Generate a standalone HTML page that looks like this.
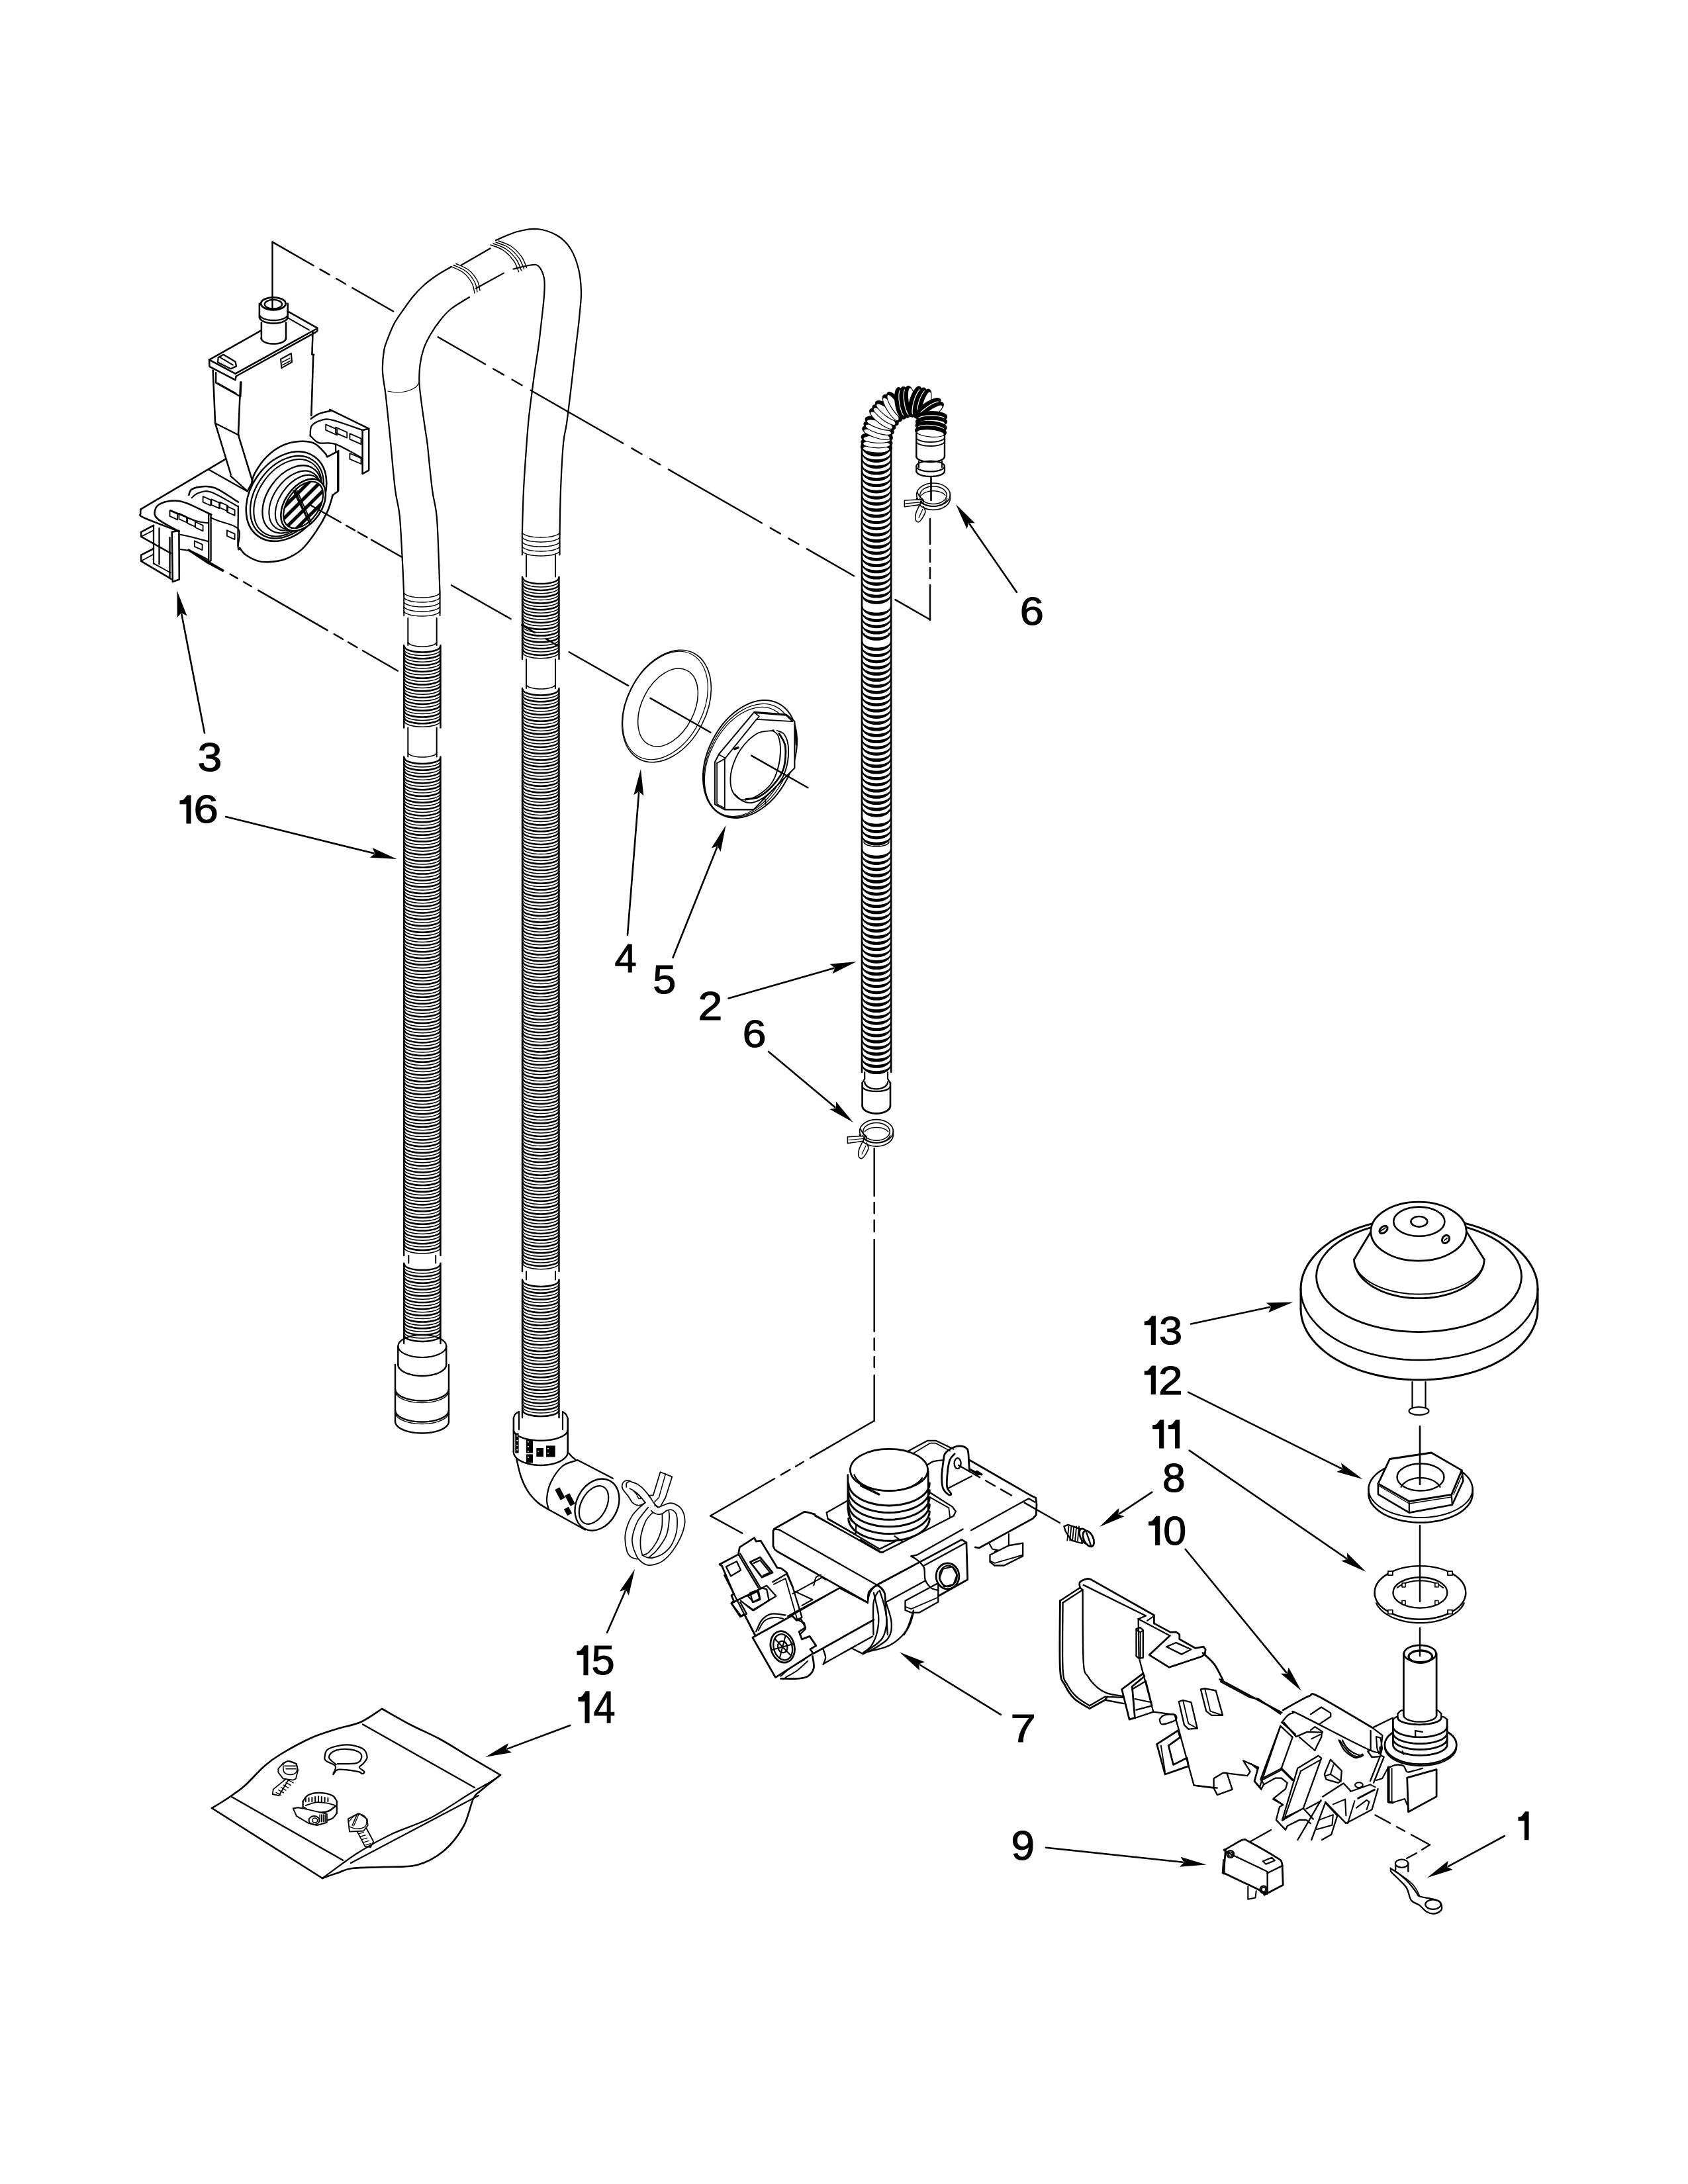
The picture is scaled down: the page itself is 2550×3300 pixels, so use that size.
<!DOCTYPE html>
<html><head><meta charset="utf-8"><style>
html,body{margin:0;padding:0;background:#fff;}
svg{display:block;}
</style></head><body>
<svg width="2550" height="3300" viewBox="0 0 2550 3300">
<rect width="2550" height="3300" fill="#fff"/>
<g stroke="#000" fill="none" stroke-linecap="round" stroke-linejoin="round">
<path d="M590.2,670 C589,658.3 585,618.1 583,600 C581,581.9 578.5,573.3 578,561.6 C577.5,549.9 578.7,538.4 580,530 C581.3,521.6 583.3,518 586,511 C588.7,504 592,495.3 596,488 C600,480.7 605.3,473.7 610,467 C614.7,460.3 618.9,454.1 624,448 C629.1,441.9 634.6,436 640.6,430.7 C646.6,425.4 653.3,420.5 660,416 C666.7,411.5 677.5,405.6 681,403.5" stroke-width="2.2" fill="none" />
<path d="M645.6,670 C644.4,662 640.5,637 638.5,622 C636.5,607 634.2,591.8 633.5,580 C632.8,568.2 633.4,560.3 634.5,551.5 C635.6,542.7 637.3,534.8 640,527 C642.7,519.2 646.4,512.2 650.6,505 C654.8,497.8 659.9,490.3 665,484 C670.1,477.7 673.7,472.8 681,467 C688.3,461.2 704.3,452 709,449" stroke-width="2.2" fill="none" />
<path d="M681,402.5 C684.2,404.1 694.7,407.8 700,412 C705.3,416.2 710.2,422.8 713,428 C715.8,433.2 716.3,440.5 717,443" stroke-width="1.4" fill="none" />
<path d="M685,400.5 C688.2,402.1 698.7,405.8 704,410 C709.3,414.2 714.2,420.8 717,426 C719.8,431.2 720.3,438.5 721,441" stroke-width="1.4" fill="none" />
<path d="M689,398.5 C692.2,400.1 702.7,403.8 708,408 C713.3,412.2 718.2,418.8 721,424 C723.8,429.2 724.3,436.5 725,439" stroke-width="1.4" fill="none" />
<line x1="697" y1="400.5" x2="740.7" y2="375.3" stroke-width="2.2"/>
<line x1="719" y1="435.7" x2="761" y2="412.6" stroke-width="2.2"/>
<path d="M741,370 C744.2,371.3 754.2,374 760,378 C765.8,382 772.1,388.6 776,394 C779.9,399.4 782.3,407.8 783.6,410.6" stroke-width="1.4" fill="none" />
<path d="M745,368 C748.2,369.3 758.2,372 764,376 C769.8,380 776.1,386.6 780,392 C783.9,397.4 786.3,405.8 787.6,408.6" stroke-width="1.4" fill="none" />
<path d="M749,366 C752.2,367.3 762.2,370 768,374 C773.8,378 780.1,384.6 784,390 C787.9,395.4 790.3,403.8 791.6,406.6" stroke-width="1.4" fill="none" />
<path d="M753,364 C756.2,365.3 766.2,368 772,372 C777.8,376 784.1,382.6 788,388 C791.9,393.4 794.3,401.8 795.6,404.6" stroke-width="1.4" fill="none" />
<path d="M749,363 C754.4,360.8 771,352.8 781.5,350 C792,347.2 801.7,345 811.8,346 C821.9,347 833.6,351 842,356 C850.4,361 856.7,367.6 862,376 C867.3,384.4 871.3,395.7 874,406.5 C876.7,417.3 877.7,430.4 878,441 C878.3,451.6 876.7,461.7 876,470 C875.3,478.3 875.3,479.3 874,491 C872.7,502.7 870,523.2 868,540 C866,556.8 864,575.3 862,592 C860,608.7 857.8,627 856,640 C854.2,653 852.5,653.3 851,670 C849.5,686.7 847.9,717.2 847,740 C846.1,762.8 845.8,795.8 845.6,807" stroke-width="2.2" fill="none" />
<path d="M775.5,406.5 C779.9,405.5 795.3,401.2 801.7,400.5 C808.1,399.8 810.4,399.1 813.8,402.5 C817.2,405.9 820.6,413.2 822,420.6 C823.4,428 822.7,436.1 822,446.8 C821.3,457.5 819.4,472.6 818,485 C816.6,497.4 815.5,508.5 813.8,521 C812.1,533.5 809.7,548.2 808,560 C806.3,571.8 805.2,580.3 803.7,592 C802.2,603.7 800.4,617 799,630 C797.6,643 796.9,651.7 795.6,670 C794.3,688.3 792.1,717.2 791,740 C789.9,762.8 789.2,795.8 788.8,807" stroke-width="2.2" fill="none" />
<path d="M586,591 C588.3,591.3 595.2,593 600,593 C604.8,593 610.3,592.3 615,591 C619.7,589.7 625,587.2 628,585 C631,582.8 632.2,579.2 633,578" stroke-width="1.2" fill="none" />
<path d="M590.2,670 C591.3,681.7 594.7,721.7 597,740 C599.3,758.3 602,761.7 603.8,780 C605.6,798.3 606.9,830.2 608,850 C609.1,869.8 609.8,890.8 610.2,899" stroke-width="2.2" fill="none" />
<path d="M645.6,670 C646.8,681.7 650.6,721.7 653,740 C655.4,758.3 658,761.7 659.7,780 C661.4,798.3 662.2,830.2 663,850 C663.8,869.8 664.3,890.8 664.6,899" stroke-width="2.2" fill="none" />
<line x1="610.2" y1="899" x2="610.2" y2="930" stroke-width="2"/>
<line x1="664.6" y1="899" x2="664.6" y2="930" stroke-width="2"/>
<polyline points="664.6,895 664.1,896.6 662.5,898.1 660,899.4 656.6,900.7 652.5,901.7 647.8,902.4 642.7,902.8 637.4,903 632.1,902.8 627,902.4 622.3,901.7 618.2,900.7 614.8,899.4 612.3,898.1 610.7,896.6 610.2,895" stroke-width="1.4" fill="none"/>
<polyline points="664.6,902 664.1,903.6 662.5,905.1 660,906.4 656.6,907.7 652.5,908.7 647.8,909.4 642.7,909.8 637.4,910 632.1,909.8 627,909.4 622.3,908.7 618.2,907.7 614.8,906.4 612.3,905.1 610.7,903.6 610.2,902" stroke-width="1.4" fill="none"/>
<polyline points="664.6,909 664.1,910.6 662.5,912.1 660,913.4 656.6,914.7 652.5,915.7 647.8,916.4 642.7,916.8 637.4,917 632.1,916.8 627,916.4 622.3,915.7 618.2,914.7 614.8,913.4 612.3,912.1 610.7,910.6 610.2,909" stroke-width="1.4" fill="none"/>
<polyline points="664.6,916 664.1,917.6 662.5,919.1 660,920.4 656.6,921.7 652.5,922.7 647.8,923.4 642.7,923.8 637.4,924 632.1,923.8 627,923.4 622.3,922.7 618.2,921.7 614.8,920.4 612.3,919.1 610.7,917.6 610.2,916" stroke-width="1.4" fill="none"/>
<polyline points="664.6,923 664.1,924.6 662.5,926.1 660,927.4 656.6,928.7 652.5,929.7 647.8,930.4 642.7,930.8 637.4,931 632.1,930.8 627,930.4 622.3,929.7 618.2,928.7 614.8,927.4 612.3,926.1 610.7,924.6 610.2,923" stroke-width="1.4" fill="none"/>
<line x1="616.3" y1="934" x2="616.3" y2="975" stroke-width="2"/>
<line x1="659.7" y1="934" x2="659.7" y2="975" stroke-width="2"/>
<polyline points="659.7,970 659.3,971.4 658,972.7 656,973.9 653.3,974.9 650.1,975.8 646.3,976.5 642.2,976.9 638,977 633.8,976.9 629.7,976.5 625.9,975.8 622.7,974.9 620,973.9 618,972.7 616.7,971.4 616.3,970" stroke-width="1.6" fill="none"/>
<line x1="610.2" y1="975" x2="610.2" y2="1099.6" stroke-width="2.4"/>
<line x1="665.5" y1="975" x2="665.5" y2="1099.6" stroke-width="2.4"/>
<path d="M611,977 A27,8.5 0 0 0 665,977 M611,986.8 A27,8.5 0 0 0 665,986.8 M611,996.6 A27,8.5 0 0 0 665,996.6 M611,1006.4 A27,8.5 0 0 0 665,1006.4 M611,1016.2 A27,8.5 0 0 0 665,1016.2 M611,1026 A27,8.5 0 0 0 665,1026 M611,1035.8 A27,8.5 0 0 0 665,1035.8 M611,1045.6 A27,8.5 0 0 0 665,1045.6 M611,1055.4 A27,8.5 0 0 0 665,1055.4 M611,1065.2 A27,8.5 0 0 0 665,1065.2 M611,1075 A27,8.5 0 0 0 665,1075 M611,1084.8 A27,8.5 0 0 0 665,1084.8 " stroke-width="2.5" fill="none" />
<path d="M611,981.9 A27,8.5 0 0 0 665,981.9 M611,991.7 A27,8.5 0 0 0 665,991.7 M611,1001.5 A27,8.5 0 0 0 665,1001.5 M611,1011.3 A27,8.5 0 0 0 665,1011.3 M611,1021.1 A27,8.5 0 0 0 665,1021.1 M611,1030.9 A27,8.5 0 0 0 665,1030.9 M611,1040.7 A27,8.5 0 0 0 665,1040.7 M611,1050.5 A27,8.5 0 0 0 665,1050.5 M611,1060.3 A27,8.5 0 0 0 665,1060.3 M611,1070.1 A27,8.5 0 0 0 665,1070.1 M611,1079.9 A27,8.5 0 0 0 665,1079.9 M611,1089.7 A27,8.5 0 0 0 665,1089.7 " stroke-width="1.5" fill="none" />
<line x1="610.2" y1="1143.5" x2="610.2" y2="1897" stroke-width="2.4"/>
<line x1="665.5" y1="1143.5" x2="665.5" y2="1897" stroke-width="2.4"/>
<path d="M611,1145.5 A27,8.5 0 0 0 665,1145.5 M611,1155.3 A27,8.5 0 0 0 665,1155.3 M611,1165.1 A27,8.5 0 0 0 665,1165.1 M611,1174.9 A27,8.5 0 0 0 665,1174.9 M611,1184.7 A27,8.5 0 0 0 665,1184.7 M611,1194.5 A27,8.5 0 0 0 665,1194.5 M611,1204.3 A27,8.5 0 0 0 665,1204.3 M611,1214.1 A27,8.5 0 0 0 665,1214.1 M611,1223.9 A27,8.5 0 0 0 665,1223.9 M611,1233.7 A27,8.5 0 0 0 665,1233.7 M611,1243.5 A27,8.5 0 0 0 665,1243.5 M611,1253.3 A27,8.5 0 0 0 665,1253.3 M611,1263.1 A27,8.5 0 0 0 665,1263.1 M611,1272.9 A27,8.5 0 0 0 665,1272.9 M611,1282.7 A27,8.5 0 0 0 665,1282.7 M611,1292.5 A27,8.5 0 0 0 665,1292.5 M611,1302.3 A27,8.5 0 0 0 665,1302.3 M611,1312.1 A27,8.5 0 0 0 665,1312.1 M611,1321.9 A27,8.5 0 0 0 665,1321.9 M611,1331.7 A27,8.5 0 0 0 665,1331.7 M611,1341.5 A27,8.5 0 0 0 665,1341.5 M611,1351.3 A27,8.5 0 0 0 665,1351.3 M611,1361.1 A27,8.5 0 0 0 665,1361.1 M611,1370.9 A27,8.5 0 0 0 665,1370.9 M611,1380.7 A27,8.5 0 0 0 665,1380.7 M611,1390.5 A27,8.5 0 0 0 665,1390.5 M611,1400.3 A27,8.5 0 0 0 665,1400.3 M611,1410.1 A27,8.5 0 0 0 665,1410.1 M611,1419.9 A27,8.5 0 0 0 665,1419.9 M611,1429.7 A27,8.5 0 0 0 665,1429.7 M611,1439.5 A27,8.5 0 0 0 665,1439.5 M611,1449.3 A27,8.5 0 0 0 665,1449.3 M611,1459.1 A27,8.5 0 0 0 665,1459.1 M611,1468.9 A27,8.5 0 0 0 665,1468.9 M611,1478.7 A27,8.5 0 0 0 665,1478.7 M611,1488.5 A27,8.5 0 0 0 665,1488.5 M611,1498.3 A27,8.5 0 0 0 665,1498.3 M611,1508.1 A27,8.5 0 0 0 665,1508.1 M611,1517.9 A27,8.5 0 0 0 665,1517.9 M611,1527.7 A27,8.5 0 0 0 665,1527.7 M611,1537.5 A27,8.5 0 0 0 665,1537.5 M611,1547.3 A27,8.5 0 0 0 665,1547.3 M611,1557.1 A27,8.5 0 0 0 665,1557.1 M611,1566.9 A27,8.5 0 0 0 665,1566.9 M611,1576.7 A27,8.5 0 0 0 665,1576.7 M611,1586.5 A27,8.5 0 0 0 665,1586.5 M611,1596.3 A27,8.5 0 0 0 665,1596.3 M611,1606.1 A27,8.5 0 0 0 665,1606.1 M611,1615.9 A27,8.5 0 0 0 665,1615.9 M611,1625.7 A27,8.5 0 0 0 665,1625.7 M611,1635.5 A27,8.5 0 0 0 665,1635.5 M611,1645.3 A27,8.5 0 0 0 665,1645.3 M611,1655.1 A27,8.5 0 0 0 665,1655.1 M611,1664.9 A27,8.5 0 0 0 665,1664.9 M611,1674.7 A27,8.5 0 0 0 665,1674.7 M611,1684.5 A27,8.5 0 0 0 665,1684.5 M611,1694.3 A27,8.5 0 0 0 665,1694.3 M611,1704.1 A27,8.5 0 0 0 665,1704.1 M611,1713.9 A27,8.5 0 0 0 665,1713.9 M611,1723.7 A27,8.5 0 0 0 665,1723.7 M611,1733.5 A27,8.5 0 0 0 665,1733.5 M611,1743.3 A27,8.5 0 0 0 665,1743.3 M611,1753.1 A27,8.5 0 0 0 665,1753.1 M611,1762.9 A27,8.5 0 0 0 665,1762.9 M611,1772.7 A27,8.5 0 0 0 665,1772.7 M611,1782.5 A27,8.5 0 0 0 665,1782.5 M611,1792.3 A27,8.5 0 0 0 665,1792.3 M611,1802.1 A27,8.5 0 0 0 665,1802.1 M611,1811.9 A27,8.5 0 0 0 665,1811.9 M611,1821.7 A27,8.5 0 0 0 665,1821.7 M611,1831.5 A27,8.5 0 0 0 665,1831.5 M611,1841.3 A27,8.5 0 0 0 665,1841.3 M611,1851.1 A27,8.5 0 0 0 665,1851.1 M611,1860.9 A27,8.5 0 0 0 665,1860.9 M611,1870.7 A27,8.5 0 0 0 665,1870.7 M611,1880.5 A27,8.5 0 0 0 665,1880.5 " stroke-width="2.5" fill="none" />
<path d="M611,1150.4 A27,8.5 0 0 0 665,1150.4 M611,1160.2 A27,8.5 0 0 0 665,1160.2 M611,1170 A27,8.5 0 0 0 665,1170 M611,1179.8 A27,8.5 0 0 0 665,1179.8 M611,1189.6 A27,8.5 0 0 0 665,1189.6 M611,1199.4 A27,8.5 0 0 0 665,1199.4 M611,1209.2 A27,8.5 0 0 0 665,1209.2 M611,1219 A27,8.5 0 0 0 665,1219 M611,1228.8 A27,8.5 0 0 0 665,1228.8 M611,1238.6 A27,8.5 0 0 0 665,1238.6 M611,1248.4 A27,8.5 0 0 0 665,1248.4 M611,1258.2 A27,8.5 0 0 0 665,1258.2 M611,1268 A27,8.5 0 0 0 665,1268 M611,1277.8 A27,8.5 0 0 0 665,1277.8 M611,1287.6 A27,8.5 0 0 0 665,1287.6 M611,1297.4 A27,8.5 0 0 0 665,1297.4 M611,1307.2 A27,8.5 0 0 0 665,1307.2 M611,1317 A27,8.5 0 0 0 665,1317 M611,1326.8 A27,8.5 0 0 0 665,1326.8 M611,1336.6 A27,8.5 0 0 0 665,1336.6 M611,1346.4 A27,8.5 0 0 0 665,1346.4 M611,1356.2 A27,8.5 0 0 0 665,1356.2 M611,1366 A27,8.5 0 0 0 665,1366 M611,1375.8 A27,8.5 0 0 0 665,1375.8 M611,1385.6 A27,8.5 0 0 0 665,1385.6 M611,1395.4 A27,8.5 0 0 0 665,1395.4 M611,1405.2 A27,8.5 0 0 0 665,1405.2 M611,1415 A27,8.5 0 0 0 665,1415 M611,1424.8 A27,8.5 0 0 0 665,1424.8 M611,1434.6 A27,8.5 0 0 0 665,1434.6 M611,1444.4 A27,8.5 0 0 0 665,1444.4 M611,1454.2 A27,8.5 0 0 0 665,1454.2 M611,1464 A27,8.5 0 0 0 665,1464 M611,1473.8 A27,8.5 0 0 0 665,1473.8 M611,1483.6 A27,8.5 0 0 0 665,1483.6 M611,1493.4 A27,8.5 0 0 0 665,1493.4 M611,1503.2 A27,8.5 0 0 0 665,1503.2 M611,1513 A27,8.5 0 0 0 665,1513 M611,1522.8 A27,8.5 0 0 0 665,1522.8 M611,1532.6 A27,8.5 0 0 0 665,1532.6 M611,1542.4 A27,8.5 0 0 0 665,1542.4 M611,1552.2 A27,8.5 0 0 0 665,1552.2 M611,1562 A27,8.5 0 0 0 665,1562 M611,1571.8 A27,8.5 0 0 0 665,1571.8 M611,1581.6 A27,8.5 0 0 0 665,1581.6 M611,1591.4 A27,8.5 0 0 0 665,1591.4 M611,1601.2 A27,8.5 0 0 0 665,1601.2 M611,1611 A27,8.5 0 0 0 665,1611 M611,1620.8 A27,8.5 0 0 0 665,1620.8 M611,1630.6 A27,8.5 0 0 0 665,1630.6 M611,1640.4 A27,8.5 0 0 0 665,1640.4 M611,1650.2 A27,8.5 0 0 0 665,1650.2 M611,1660 A27,8.5 0 0 0 665,1660 M611,1669.8 A27,8.5 0 0 0 665,1669.8 M611,1679.6 A27,8.5 0 0 0 665,1679.6 M611,1689.4 A27,8.5 0 0 0 665,1689.4 M611,1699.2 A27,8.5 0 0 0 665,1699.2 M611,1709 A27,8.5 0 0 0 665,1709 M611,1718.8 A27,8.5 0 0 0 665,1718.8 M611,1728.6 A27,8.5 0 0 0 665,1728.6 M611,1738.4 A27,8.5 0 0 0 665,1738.4 M611,1748.2 A27,8.5 0 0 0 665,1748.2 M611,1758 A27,8.5 0 0 0 665,1758 M611,1767.8 A27,8.5 0 0 0 665,1767.8 M611,1777.6 A27,8.5 0 0 0 665,1777.6 M611,1787.4 A27,8.5 0 0 0 665,1787.4 M611,1797.2 A27,8.5 0 0 0 665,1797.2 M611,1807 A27,8.5 0 0 0 665,1807 M611,1816.8 A27,8.5 0 0 0 665,1816.8 M611,1826.6 A27,8.5 0 0 0 665,1826.6 M611,1836.4 A27,8.5 0 0 0 665,1836.4 M611,1846.2 A27,8.5 0 0 0 665,1846.2 M611,1856 A27,8.5 0 0 0 665,1856 M611,1865.8 A27,8.5 0 0 0 665,1865.8 M611,1875.6 A27,8.5 0 0 0 665,1875.6 M611,1885.4 A27,8.5 0 0 0 665,1885.4 " stroke-width="1.5" fill="none" />
<line x1="610.2" y1="1908.6" x2="610.2" y2="2030" stroke-width="2.4"/>
<line x1="665.5" y1="1908.6" x2="665.5" y2="2030" stroke-width="2.4"/>
<path d="M611,1910.6 A27,8.5 0 0 0 665,1910.6 M611,1920.4 A27,8.5 0 0 0 665,1920.4 M611,1930.2 A27,8.5 0 0 0 665,1930.2 M611,1940 A27,8.5 0 0 0 665,1940 M611,1949.8 A27,8.5 0 0 0 665,1949.8 M611,1959.6 A27,8.5 0 0 0 665,1959.6 M611,1969.4 A27,8.5 0 0 0 665,1969.4 M611,1979.2 A27,8.5 0 0 0 665,1979.2 M611,1989 A27,8.5 0 0 0 665,1989 M611,1998.8 A27,8.5 0 0 0 665,1998.8 M611,2008.6 A27,8.5 0 0 0 665,2008.6 M611,2018.4 A27,8.5 0 0 0 665,2018.4 " stroke-width="2.5" fill="none" />
<path d="M611,1915.5 A27,8.5 0 0 0 665,1915.5 M611,1925.3 A27,8.5 0 0 0 665,1925.3 M611,1935.1 A27,8.5 0 0 0 665,1935.1 M611,1944.9 A27,8.5 0 0 0 665,1944.9 M611,1954.7 A27,8.5 0 0 0 665,1954.7 M611,1964.5 A27,8.5 0 0 0 665,1964.5 M611,1974.3 A27,8.5 0 0 0 665,1974.3 M611,1984.1 A27,8.5 0 0 0 665,1984.1 M611,1993.9 A27,8.5 0 0 0 665,1993.9 M611,2003.7 A27,8.5 0 0 0 665,2003.7 M611,2013.5 A27,8.5 0 0 0 665,2013.5 " stroke-width="1.5" fill="none" />
<line x1="616.3" y1="1099.6" x2="616.3" y2="1143.5" stroke-width="2"/>
<line x1="659.7" y1="1099.6" x2="659.7" y2="1143.5" stroke-width="2"/>
<polyline points="659.7,1137 659.3,1138.4 658,1139.7 656,1140.9 653.3,1141.9 650.1,1142.8 646.3,1143.5 642.2,1143.9 638,1144 633.8,1143.9 629.7,1143.5 625.9,1142.8 622.7,1141.9 620,1140.9 618,1139.7 616.7,1138.4 616.3,1137" stroke-width="1.6" fill="none"/>
<line x1="617.3" y1="1897" x2="617.3" y2="1908.6" stroke-width="2"/>
<line x1="658.2" y1="1897" x2="658.2" y2="1908.6" stroke-width="2"/>
<line x1="601.3" y1="2034" x2="601.3" y2="2062" stroke-width="2.4"/>
<line x1="674.2" y1="2034" x2="674.2" y2="2062" stroke-width="2.4"/>
<ellipse cx="637.8" cy="2034" rx="36.5" ry="17" stroke-width="2.2" fill="none"/>
<polyline points="674.2,2062 673.9,2064.2 673,2066.4 671.4,2068.5 669.3,2070.5 666.7,2072.3 663.5,2074 659.9,2075.5 656,2076.7 651.7,2077.7 647.2,2078.4 642.5,2078.9 637.8,2079 633,2078.9 628.3,2078.4 623.8,2077.7 619.5,2076.7 615.6,2075.5 612,2074 608.8,2072.3 606.2,2070.5 604.1,2068.5 602.5,2066.4 601.6,2064.2 601.3,2062" stroke-width="2.4" fill="none"/>
<line x1="597" y1="2062" x2="597" y2="2148" stroke-width="2.4"/>
<line x1="678" y1="2062" x2="678" y2="2148" stroke-width="2.4"/>
<polyline points="678,2099 677.7,2101.3 676.6,2103.5 674.9,2105.7 672.6,2107.8 669.6,2109.7 666.1,2111.4 662.2,2112.9 657.8,2114.2 653,2115.2 648,2115.9 642.8,2116.4 637.5,2116.5 632.2,2116.4 627,2115.9 622,2115.2 617.2,2114.2 612.8,2112.9 608.9,2111.4 605.4,2109.7 602.4,2107.8 600.1,2105.7 598.4,2103.5 597.3,2101.3 597,2099" stroke-width="2.4" fill="none"/>
<polyline points="678,2131 677.7,2133.3 676.6,2135.5 674.9,2137.7 672.6,2139.8 669.6,2141.7 666.1,2143.4 662.2,2144.9 657.8,2146.2 653,2147.2 648,2147.9 642.8,2148.4 637.5,2148.5 632.2,2148.4 627,2147.9 622,2147.2 617.2,2146.2 612.8,2144.9 608.9,2143.4 605.4,2141.7 602.4,2139.8 600.1,2137.7 598.4,2135.5 597.3,2133.3 597,2131" stroke-width="2.4" fill="none"/>
<polyline points="678,2148 677.7,2150.3 676.6,2152.5 674.9,2154.7 672.6,2156.8 669.6,2158.7 666.1,2160.4 662.2,2161.9 657.8,2163.2 653,2164.2 648,2164.9 642.8,2165.4 637.5,2165.5 632.2,2165.4 627,2164.9 622,2164.2 617.2,2163.2 612.8,2161.9 608.9,2160.4 605.4,2158.7 602.4,2156.8 600.1,2154.7 598.4,2152.5 597.3,2150.3 597,2148" stroke-width="2.4" fill="none"/>
<polyline points="678,2102 677.7,2104.3 676.6,2106.5 674.9,2108.7 672.6,2110.8 669.6,2112.7 666.1,2114.4 662.2,2115.9 657.8,2117.2 653,2118.2 648,2118.9 642.8,2119.4 637.5,2119.5 632.2,2119.4 627,2118.9 622,2118.2 617.2,2117.2 612.8,2115.9 608.9,2114.4 605.4,2112.7 602.4,2110.8 600.1,2108.7 598.4,2106.5 597.3,2104.3 597,2102" stroke-width="1.4" fill="none"/>
<polyline points="678,2134 677.7,2136.3 676.6,2138.5 674.9,2140.7 672.6,2142.8 669.6,2144.7 666.1,2146.4 662.2,2147.9 657.8,2149.2 653,2150.2 648,2150.9 642.8,2151.4 637.5,2151.5 632.2,2151.4 627,2150.9 622,2150.2 617.2,2149.2 612.8,2147.9 608.9,2146.4 605.4,2144.7 602.4,2142.8 600.1,2140.7 598.4,2138.5 597.3,2136.3 597,2134" stroke-width="1.4" fill="none"/>
<line x1="788.8" y1="807" x2="788.8" y2="838.6" stroke-width="2"/>
<line x1="845.6" y1="807" x2="845.6" y2="838.6" stroke-width="2"/>
<polyline points="845.6,804 845.1,805.6 843.4,807.1 840.8,808.4 837.3,809.7 833,810.7 828.1,811.4 822.7,811.8 817.2,812 811.7,811.8 806.3,811.4 801.4,810.7 797.1,809.7 793.6,808.4 791,807.1 789.3,805.6 788.8,804" stroke-width="1.4" fill="none"/>
<polyline points="845.6,811 845.1,812.6 843.4,814.1 840.8,815.4 837.3,816.7 833,817.7 828.1,818.4 822.7,818.8 817.2,819 811.7,818.8 806.3,818.4 801.4,817.7 797.1,816.7 793.6,815.4 791,814.1 789.3,812.6 788.8,811" stroke-width="1.4" fill="none"/>
<polyline points="845.6,818 845.1,819.6 843.4,821.1 840.8,822.4 837.3,823.7 833,824.7 828.1,825.4 822.7,825.8 817.2,826 811.7,825.8 806.3,825.4 801.4,824.7 797.1,823.7 793.6,822.4 791,821.1 789.3,819.6 788.8,818" stroke-width="1.4" fill="none"/>
<polyline points="845.6,825 845.1,826.6 843.4,828.1 840.8,829.4 837.3,830.7 833,831.7 828.1,832.4 822.7,832.8 817.2,833 811.7,832.8 806.3,832.4 801.4,831.7 797.1,830.7 793.6,829.4 791,828.1 789.3,826.6 788.8,825" stroke-width="1.4" fill="none"/>
<polyline points="845.6,832 845.1,833.6 843.4,835.1 840.8,836.4 837.3,837.7 833,838.7 828.1,839.4 822.7,839.8 817.2,840 811.7,839.8 806.3,839.4 801.4,838.7 797.1,837.7 793.6,836.4 791,835.1 789.3,833.6 788.8,832" stroke-width="1.4" fill="none"/>
<line x1="795" y1="838.6" x2="795" y2="871.6" stroke-width="2"/>
<line x1="839" y1="838.6" x2="839" y2="871.6" stroke-width="2"/>
<line x1="789" y1="871.6" x2="789" y2="996" stroke-width="2.4"/>
<line x1="844.5" y1="871.6" x2="844.5" y2="996" stroke-width="2.4"/>
<path d="M790,873.6 A27,8.5 0 0 0 844,873.6 M790,883.4 A27,8.5 0 0 0 844,883.4 M790,893.2 A27,8.5 0 0 0 844,893.2 M790,903 A27,8.5 0 0 0 844,903 M790,912.8 A27,8.5 0 0 0 844,912.8 M790,922.6 A27,8.5 0 0 0 844,922.6 M790,932.4 A27,8.5 0 0 0 844,932.4 M790,942.2 A27,8.5 0 0 0 844,942.2 M790,952 A27,8.5 0 0 0 844,952 M790,961.8 A27,8.5 0 0 0 844,961.8 M790,971.6 A27,8.5 0 0 0 844,971.6 M790,981.4 A27,8.5 0 0 0 844,981.4 " stroke-width="2.5" fill="none" />
<path d="M790,878.5 A27,8.5 0 0 0 844,878.5 M790,888.3 A27,8.5 0 0 0 844,888.3 M790,898.1 A27,8.5 0 0 0 844,898.1 M790,907.9 A27,8.5 0 0 0 844,907.9 M790,917.7 A27,8.5 0 0 0 844,917.7 M790,927.5 A27,8.5 0 0 0 844,927.5 M790,937.3 A27,8.5 0 0 0 844,937.3 M790,947.1 A27,8.5 0 0 0 844,947.1 M790,956.9 A27,8.5 0 0 0 844,956.9 M790,966.7 A27,8.5 0 0 0 844,966.7 M790,976.5 A27,8.5 0 0 0 844,976.5 M790,986.3 A27,8.5 0 0 0 844,986.3 " stroke-width="1.5" fill="none" />
<line x1="789" y1="1040" x2="789" y2="1921" stroke-width="2.4"/>
<line x1="844.5" y1="1040" x2="844.5" y2="1921" stroke-width="2.4"/>
<path d="M790,1042 A27,8.5 0 0 0 844,1042 M790,1051.8 A27,8.5 0 0 0 844,1051.8 M790,1061.6 A27,8.5 0 0 0 844,1061.6 M790,1071.4 A27,8.5 0 0 0 844,1071.4 M790,1081.2 A27,8.5 0 0 0 844,1081.2 M790,1091 A27,8.5 0 0 0 844,1091 M790,1100.8 A27,8.5 0 0 0 844,1100.8 M790,1110.6 A27,8.5 0 0 0 844,1110.6 M790,1120.4 A27,8.5 0 0 0 844,1120.4 M790,1130.2 A27,8.5 0 0 0 844,1130.2 M790,1140 A27,8.5 0 0 0 844,1140 M790,1149.8 A27,8.5 0 0 0 844,1149.8 M790,1159.6 A27,8.5 0 0 0 844,1159.6 M790,1169.4 A27,8.5 0 0 0 844,1169.4 M790,1179.2 A27,8.5 0 0 0 844,1179.2 M790,1189 A27,8.5 0 0 0 844,1189 M790,1198.8 A27,8.5 0 0 0 844,1198.8 M790,1208.6 A27,8.5 0 0 0 844,1208.6 M790,1218.4 A27,8.5 0 0 0 844,1218.4 M790,1228.2 A27,8.5 0 0 0 844,1228.2 M790,1238 A27,8.5 0 0 0 844,1238 M790,1247.8 A27,8.5 0 0 0 844,1247.8 M790,1257.6 A27,8.5 0 0 0 844,1257.6 M790,1267.4 A27,8.5 0 0 0 844,1267.4 M790,1277.2 A27,8.5 0 0 0 844,1277.2 M790,1287 A27,8.5 0 0 0 844,1287 M790,1296.8 A27,8.5 0 0 0 844,1296.8 M790,1306.6 A27,8.5 0 0 0 844,1306.6 M790,1316.4 A27,8.5 0 0 0 844,1316.4 M790,1326.2 A27,8.5 0 0 0 844,1326.2 M790,1336 A27,8.5 0 0 0 844,1336 M790,1345.8 A27,8.5 0 0 0 844,1345.8 M790,1355.6 A27,8.5 0 0 0 844,1355.6 M790,1365.4 A27,8.5 0 0 0 844,1365.4 M790,1375.2 A27,8.5 0 0 0 844,1375.2 M790,1385 A27,8.5 0 0 0 844,1385 M790,1394.8 A27,8.5 0 0 0 844,1394.8 M790,1404.6 A27,8.5 0 0 0 844,1404.6 M790,1414.4 A27,8.5 0 0 0 844,1414.4 M790,1424.2 A27,8.5 0 0 0 844,1424.2 M790,1434 A27,8.5 0 0 0 844,1434 M790,1443.8 A27,8.5 0 0 0 844,1443.8 M790,1453.6 A27,8.5 0 0 0 844,1453.6 M790,1463.4 A27,8.5 0 0 0 844,1463.4 M790,1473.2 A27,8.5 0 0 0 844,1473.2 M790,1483 A27,8.5 0 0 0 844,1483 M790,1492.8 A27,8.5 0 0 0 844,1492.8 M790,1502.6 A27,8.5 0 0 0 844,1502.6 M790,1512.4 A27,8.5 0 0 0 844,1512.4 M790,1522.2 A27,8.5 0 0 0 844,1522.2 M790,1532 A27,8.5 0 0 0 844,1532 M790,1541.8 A27,8.5 0 0 0 844,1541.8 M790,1551.6 A27,8.5 0 0 0 844,1551.6 M790,1561.4 A27,8.5 0 0 0 844,1561.4 M790,1571.2 A27,8.5 0 0 0 844,1571.2 M790,1581 A27,8.5 0 0 0 844,1581 M790,1590.8 A27,8.5 0 0 0 844,1590.8 M790,1600.6 A27,8.5 0 0 0 844,1600.6 M790,1610.4 A27,8.5 0 0 0 844,1610.4 M790,1620.2 A27,8.5 0 0 0 844,1620.2 M790,1630 A27,8.5 0 0 0 844,1630 M790,1639.8 A27,8.5 0 0 0 844,1639.8 M790,1649.6 A27,8.5 0 0 0 844,1649.6 M790,1659.4 A27,8.5 0 0 0 844,1659.4 M790,1669.2 A27,8.5 0 0 0 844,1669.2 M790,1679 A27,8.5 0 0 0 844,1679 M790,1688.8 A27,8.5 0 0 0 844,1688.8 M790,1698.6 A27,8.5 0 0 0 844,1698.6 M790,1708.4 A27,8.5 0 0 0 844,1708.4 M790,1718.2 A27,8.5 0 0 0 844,1718.2 M790,1728 A27,8.5 0 0 0 844,1728 M790,1737.8 A27,8.5 0 0 0 844,1737.8 M790,1747.6 A27,8.5 0 0 0 844,1747.6 M790,1757.4 A27,8.5 0 0 0 844,1757.4 M790,1767.2 A27,8.5 0 0 0 844,1767.2 M790,1777 A27,8.5 0 0 0 844,1777 M790,1786.8 A27,8.5 0 0 0 844,1786.8 M790,1796.6 A27,8.5 0 0 0 844,1796.6 M790,1806.4 A27,8.5 0 0 0 844,1806.4 M790,1816.2 A27,8.5 0 0 0 844,1816.2 M790,1826 A27,8.5 0 0 0 844,1826 M790,1835.8 A27,8.5 0 0 0 844,1835.8 M790,1845.6 A27,8.5 0 0 0 844,1845.6 M790,1855.4 A27,8.5 0 0 0 844,1855.4 M790,1865.2 A27,8.5 0 0 0 844,1865.2 M790,1875 A27,8.5 0 0 0 844,1875 M790,1884.8 A27,8.5 0 0 0 844,1884.8 M790,1894.6 A27,8.5 0 0 0 844,1894.6 M790,1904.4 A27,8.5 0 0 0 844,1904.4 " stroke-width="2.5" fill="none" />
<path d="M790,1046.9 A27,8.5 0 0 0 844,1046.9 M790,1056.7 A27,8.5 0 0 0 844,1056.7 M790,1066.5 A27,8.5 0 0 0 844,1066.5 M790,1076.3 A27,8.5 0 0 0 844,1076.3 M790,1086.1 A27,8.5 0 0 0 844,1086.1 M790,1095.9 A27,8.5 0 0 0 844,1095.9 M790,1105.7 A27,8.5 0 0 0 844,1105.7 M790,1115.5 A27,8.5 0 0 0 844,1115.5 M790,1125.3 A27,8.5 0 0 0 844,1125.3 M790,1135.1 A27,8.5 0 0 0 844,1135.1 M790,1144.9 A27,8.5 0 0 0 844,1144.9 M790,1154.7 A27,8.5 0 0 0 844,1154.7 M790,1164.5 A27,8.5 0 0 0 844,1164.5 M790,1174.3 A27,8.5 0 0 0 844,1174.3 M790,1184.1 A27,8.5 0 0 0 844,1184.1 M790,1193.9 A27,8.5 0 0 0 844,1193.9 M790,1203.7 A27,8.5 0 0 0 844,1203.7 M790,1213.5 A27,8.5 0 0 0 844,1213.5 M790,1223.3 A27,8.5 0 0 0 844,1223.3 M790,1233.1 A27,8.5 0 0 0 844,1233.1 M790,1242.9 A27,8.5 0 0 0 844,1242.9 M790,1252.7 A27,8.5 0 0 0 844,1252.7 M790,1262.5 A27,8.5 0 0 0 844,1262.5 M790,1272.3 A27,8.5 0 0 0 844,1272.3 M790,1282.1 A27,8.5 0 0 0 844,1282.1 M790,1291.9 A27,8.5 0 0 0 844,1291.9 M790,1301.7 A27,8.5 0 0 0 844,1301.7 M790,1311.5 A27,8.5 0 0 0 844,1311.5 M790,1321.3 A27,8.5 0 0 0 844,1321.3 M790,1331.1 A27,8.5 0 0 0 844,1331.1 M790,1340.9 A27,8.5 0 0 0 844,1340.9 M790,1350.7 A27,8.5 0 0 0 844,1350.7 M790,1360.5 A27,8.5 0 0 0 844,1360.5 M790,1370.3 A27,8.5 0 0 0 844,1370.3 M790,1380.1 A27,8.5 0 0 0 844,1380.1 M790,1389.9 A27,8.5 0 0 0 844,1389.9 M790,1399.7 A27,8.5 0 0 0 844,1399.7 M790,1409.5 A27,8.5 0 0 0 844,1409.5 M790,1419.3 A27,8.5 0 0 0 844,1419.3 M790,1429.1 A27,8.5 0 0 0 844,1429.1 M790,1438.9 A27,8.5 0 0 0 844,1438.9 M790,1448.7 A27,8.5 0 0 0 844,1448.7 M790,1458.5 A27,8.5 0 0 0 844,1458.5 M790,1468.3 A27,8.5 0 0 0 844,1468.3 M790,1478.1 A27,8.5 0 0 0 844,1478.1 M790,1487.9 A27,8.5 0 0 0 844,1487.9 M790,1497.7 A27,8.5 0 0 0 844,1497.7 M790,1507.5 A27,8.5 0 0 0 844,1507.5 M790,1517.3 A27,8.5 0 0 0 844,1517.3 M790,1527.1 A27,8.5 0 0 0 844,1527.1 M790,1536.9 A27,8.5 0 0 0 844,1536.9 M790,1546.7 A27,8.5 0 0 0 844,1546.7 M790,1556.5 A27,8.5 0 0 0 844,1556.5 M790,1566.3 A27,8.5 0 0 0 844,1566.3 M790,1576.1 A27,8.5 0 0 0 844,1576.1 M790,1585.9 A27,8.5 0 0 0 844,1585.9 M790,1595.7 A27,8.5 0 0 0 844,1595.7 M790,1605.5 A27,8.5 0 0 0 844,1605.5 M790,1615.3 A27,8.5 0 0 0 844,1615.3 M790,1625.1 A27,8.5 0 0 0 844,1625.1 M790,1634.9 A27,8.5 0 0 0 844,1634.9 M790,1644.7 A27,8.5 0 0 0 844,1644.7 M790,1654.5 A27,8.5 0 0 0 844,1654.5 M790,1664.3 A27,8.5 0 0 0 844,1664.3 M790,1674.1 A27,8.5 0 0 0 844,1674.1 M790,1683.9 A27,8.5 0 0 0 844,1683.9 M790,1693.7 A27,8.5 0 0 0 844,1693.7 M790,1703.5 A27,8.5 0 0 0 844,1703.5 M790,1713.3 A27,8.5 0 0 0 844,1713.3 M790,1723.1 A27,8.5 0 0 0 844,1723.1 M790,1732.9 A27,8.5 0 0 0 844,1732.9 M790,1742.7 A27,8.5 0 0 0 844,1742.7 M790,1752.5 A27,8.5 0 0 0 844,1752.5 M790,1762.3 A27,8.5 0 0 0 844,1762.3 M790,1772.1 A27,8.5 0 0 0 844,1772.1 M790,1781.9 A27,8.5 0 0 0 844,1781.9 M790,1791.7 A27,8.5 0 0 0 844,1791.7 M790,1801.5 A27,8.5 0 0 0 844,1801.5 M790,1811.3 A27,8.5 0 0 0 844,1811.3 M790,1821.1 A27,8.5 0 0 0 844,1821.1 M790,1830.9 A27,8.5 0 0 0 844,1830.9 M790,1840.7 A27,8.5 0 0 0 844,1840.7 M790,1850.5 A27,8.5 0 0 0 844,1850.5 M790,1860.3 A27,8.5 0 0 0 844,1860.3 M790,1870.1 A27,8.5 0 0 0 844,1870.1 M790,1879.9 A27,8.5 0 0 0 844,1879.9 M790,1889.7 A27,8.5 0 0 0 844,1889.7 M790,1899.5 A27,8.5 0 0 0 844,1899.5 M790,1909.3 A27,8.5 0 0 0 844,1909.3 " stroke-width="1.5" fill="none" />
<line x1="789" y1="1933.5" x2="789" y2="2142" stroke-width="2.4"/>
<line x1="844.5" y1="1933.5" x2="844.5" y2="2142" stroke-width="2.4"/>
<path d="M790,1935.5 A27,8.5 0 0 0 844,1935.5 M790,1945.3 A27,8.5 0 0 0 844,1945.3 M790,1955.1 A27,8.5 0 0 0 844,1955.1 M790,1964.9 A27,8.5 0 0 0 844,1964.9 M790,1974.7 A27,8.5 0 0 0 844,1974.7 M790,1984.5 A27,8.5 0 0 0 844,1984.5 M790,1994.3 A27,8.5 0 0 0 844,1994.3 M790,2004.1 A27,8.5 0 0 0 844,2004.1 M790,2013.9 A27,8.5 0 0 0 844,2013.9 M790,2023.7 A27,8.5 0 0 0 844,2023.7 M790,2033.5 A27,8.5 0 0 0 844,2033.5 M790,2043.3 A27,8.5 0 0 0 844,2043.3 M790,2053.1 A27,8.5 0 0 0 844,2053.1 M790,2062.9 A27,8.5 0 0 0 844,2062.9 M790,2072.7 A27,8.5 0 0 0 844,2072.7 M790,2082.5 A27,8.5 0 0 0 844,2082.5 M790,2092.3 A27,8.5 0 0 0 844,2092.3 M790,2102.1 A27,8.5 0 0 0 844,2102.1 M790,2111.9 A27,8.5 0 0 0 844,2111.9 M790,2121.7 A27,8.5 0 0 0 844,2121.7 M790,2131.5 A27,8.5 0 0 0 844,2131.5 " stroke-width="2.5" fill="none" />
<path d="M790,1940.4 A27,8.5 0 0 0 844,1940.4 M790,1950.2 A27,8.5 0 0 0 844,1950.2 M790,1960 A27,8.5 0 0 0 844,1960 M790,1969.8 A27,8.5 0 0 0 844,1969.8 M790,1979.6 A27,8.5 0 0 0 844,1979.6 M790,1989.4 A27,8.5 0 0 0 844,1989.4 M790,1999.2 A27,8.5 0 0 0 844,1999.2 M790,2009 A27,8.5 0 0 0 844,2009 M790,2018.8 A27,8.5 0 0 0 844,2018.8 M790,2028.6 A27,8.5 0 0 0 844,2028.6 M790,2038.4 A27,8.5 0 0 0 844,2038.4 M790,2048.2 A27,8.5 0 0 0 844,2048.2 M790,2058 A27,8.5 0 0 0 844,2058 M790,2067.8 A27,8.5 0 0 0 844,2067.8 M790,2077.6 A27,8.5 0 0 0 844,2077.6 M790,2087.4 A27,8.5 0 0 0 844,2087.4 M790,2097.2 A27,8.5 0 0 0 844,2097.2 M790,2107 A27,8.5 0 0 0 844,2107 M790,2116.8 A27,8.5 0 0 0 844,2116.8 M790,2126.6 A27,8.5 0 0 0 844,2126.6 " stroke-width="1.5" fill="none" />
<line x1="795" y1="996" x2="795" y2="1040" stroke-width="2"/>
<line x1="839" y1="996" x2="839" y2="1040" stroke-width="2"/>
<line x1="795" y1="1921" x2="795" y2="1933.5" stroke-width="2"/>
<line x1="839" y1="1921" x2="839" y2="1933.5" stroke-width="2"/>
<polyline points="839,1034 838.6,1035.4 837.3,1036.7 835.3,1037.9 832.6,1038.9 829.2,1039.8 825.4,1040.5 821.3,1040.9 817,1041 812.7,1040.9 808.6,1040.5 804.8,1039.8 801.4,1038.9 798.7,1037.9 796.7,1036.7 795.4,1035.4 795,1034" stroke-width="1.6" fill="none"/>
<line x1="784" y1="2133" x2="784" y2="2160" stroke-width="2.2"/>
<line x1="850" y1="2133" x2="850" y2="2160" stroke-width="2.2"/>
<line x1="775.9" y1="2143" x2="775.9" y2="2194" stroke-width="2.6"/>
<line x1="857.7" y1="2143" x2="857.7" y2="2194" stroke-width="2.6"/>
<path d="M775.9,2143 C776.2,2142 776.6,2138.7 778,2137 C779.4,2135.3 783,2133.7 784,2133" stroke-width="2.2" fill="none" />
<path d="M857.7,2143 C857.2,2142 856.3,2138.7 855,2137 C853.7,2135.3 850.8,2133.7 850,2133" stroke-width="2.2" fill="none" />
<polyline points="857.8,2160.4 857.4,2162.5 856.4,2164.6 854.7,2166.6 852.3,2168.6 849.3,2170.3 845.8,2171.9 841.8,2173.3 837.3,2174.5 832.5,2175.5 827.4,2176.1 822.2,2176.6 816.8,2176.7 811.4,2176.6 806.2,2176.1 801.1,2175.5 796.3,2174.5 791.8,2173.3 787.8,2171.9 784.3,2170.3 781.3,2168.6 778.9,2166.6 777.2,2164.6 776.2,2162.5 775.8,2160.4" stroke-width="2.4" fill="none"/>
<polyline points="857.8,2194 857.4,2196.6 856.4,2199.2 854.7,2201.7 852.3,2204 849.3,2206.2 845.8,2208.1 841.8,2209.9 837.3,2211.3 832.5,2212.5 827.4,2213.3 822.2,2213.8 816.8,2214 811.4,2213.8 806.2,2213.3 801.1,2212.5 796.3,2211.3 791.8,2209.9 787.8,2208.1 784.3,2206.2 781.3,2204 778.9,2201.7 777.2,2199.2 776.2,2196.6 775.8,2194" stroke-width="2.4" fill="none"/>
<path d="M780,2203 C781.1,2207.5 783.8,2221.7 786.6,2230 C789.4,2238.3 792.8,2246 797,2252.7 C801.2,2259.4 806.7,2265.3 812,2270 C817.3,2274.7 826.2,2279.2 829,2281" stroke-width="2.4" fill="none" />
<line x1="829" y1="2281" x2="884" y2="2311.5" stroke-width="2.4"/>
<path d="M857.7,2194 C858.8,2195.2 862,2199 864,2201 C866,2203 869,2205.2 870,2206" stroke-width="2.4" fill="none" />
<line x1="872.7" y1="2206.3" x2="925.8" y2="2233.7" stroke-width="2.4"/>
<path d="M872.7,2206.3 C868.9,2207.8 856.8,2209.4 850,2215 C843.2,2220.6 836,2231.7 832,2240 C828,2248.3 826.5,2258.2 826,2265 C825.5,2271.8 828.5,2278.3 829,2281" stroke-width="2.2" fill="none" />
<ellipse cx="902" cy="2273.6" rx="31" ry="41" stroke-width="2.4" fill="none" transform="rotate(28 902 2273.6)"/>
<ellipse cx="897" cy="2274" rx="19" ry="31" stroke-width="2.2" fill="none" transform="rotate(28 897 2274)"/>
<rect x="778.3" y="2165.4" width="5.3" height="30.2" fill="#000" stroke="none"/>
<rect x="780.3" y="2169" width="2" height="1.5" fill="#fff" stroke="none"/>
<rect x="780.3" y="2176" width="2" height="1.5" fill="#fff" stroke="none"/>
<rect x="780.3" y="2183" width="2" height="1.5" fill="#fff" stroke="none"/>
<rect x="780.3" y="2190" width="2" height="1.5" fill="#fff" stroke="none"/>
<rect x="794.9" y="2174.9" width="10.1" height="20.7" fill="#000" stroke="none"/>
<rect x="796.9" y="2178" width="2" height="1.5" fill="#fff" stroke="none"/>
<rect x="796.9" y="2185" width="2" height="1.5" fill="#fff" stroke="none"/>
<rect x="796.9" y="2192" width="2" height="1.5" fill="#fff" stroke="none"/>
<rect x="794.9" y="2197.4" width="10.1" height="13" fill="#000" stroke="none"/>
<rect x="796.9" y="2201" width="2" height="1.5" fill="#fff" stroke="none"/>
<rect x="810.3" y="2188" width="10.7" height="13" fill="#000" stroke="none"/>
<rect x="812.3" y="2192" width="2" height="1.5" fill="#fff" stroke="none"/>
<rect x="825" y="2184.4" width="13.7" height="17.1" fill="#000" stroke="none"/>
<rect x="827" y="2188" width="2" height="1.5" fill="#fff" stroke="none"/>
<rect x="827" y="2195" width="2" height="1.5" fill="#fff" stroke="none"/>
<rect x="842" y="2248" width="8" height="18" fill="#000" stroke="none" transform="rotate(-28 846.0 2257.0)"/>
<rect x="857" y="2257" width="8" height="18" fill="#000" stroke="none" transform="rotate(-28 861.0 2266.0)"/>
<rect x="854" y="2278" width="8" height="11" fill="#000" stroke="none" transform="rotate(-28 858.0 2283.5)"/>
<ellipse cx="1324" cy="676" rx="7.5" ry="23" stroke-width="2.4" fill="#000" transform="rotate(-87.3 1324 676)"/>
<ellipse cx="1323.9" cy="678.5" rx="5" ry="20" stroke-width="0" fill="#fff" transform="rotate(-87.3 1323.9 678.5)"/>
<ellipse cx="1324.4" cy="668.6" rx="7.5" ry="23" stroke-width="2.4" fill="#000" transform="rotate(-87.3 1324.4 668.6)"/>
<ellipse cx="1324.2" cy="671.1" rx="5" ry="20" stroke-width="0" fill="#fff" transform="rotate(-87.3 1324.2 671.1)"/>
<ellipse cx="1324.7" cy="661.2" rx="7.5" ry="23" stroke-width="2.4" fill="#000" transform="rotate(-87.3 1324.7 661.2)"/>
<ellipse cx="1324.6" cy="663.7" rx="5" ry="20" stroke-width="0" fill="#fff" transform="rotate(-87.3 1324.6 663.7)"/>
<ellipse cx="1325.4" cy="653.8" rx="7.5" ry="23" stroke-width="2.4" fill="#000" transform="rotate(-72.5 1325.4 653.8)"/>
<ellipse cx="1324.6" cy="656.2" rx="5" ry="20" stroke-width="0" fill="#fff" transform="rotate(-72.5 1324.6 656.2)"/>
<ellipse cx="1327.6" cy="646.7" rx="7.5" ry="23" stroke-width="2.4" fill="#000" transform="rotate(-72.5 1327.6 646.7)"/>
<ellipse cx="1326.9" cy="649.1" rx="5" ry="20" stroke-width="0" fill="#fff" transform="rotate(-72.5 1326.9 649.1)"/>
<ellipse cx="1329.9" cy="639.6" rx="7.5" ry="23" stroke-width="2.4" fill="#000" transform="rotate(-72.5 1329.9 639.6)"/>
<ellipse cx="1329.1" cy="642" rx="5" ry="20" stroke-width="0" fill="#fff" transform="rotate(-72.5 1329.1 642)"/>
<ellipse cx="1333.2" cy="633.1" rx="7.5" ry="23" stroke-width="2.4" fill="#000" transform="rotate(-53.1 1333.2 633.1)"/>
<ellipse cx="1331.7" cy="635.1" rx="5" ry="20" stroke-width="0" fill="#fff" transform="rotate(-53.1 1331.7 635.1)"/>
<ellipse cx="1337.6" cy="627.2" rx="7.5" ry="23" stroke-width="2.4" fill="#000" transform="rotate(-53.1 1337.6 627.2)"/>
<ellipse cx="1336.1" cy="629.2" rx="5" ry="20" stroke-width="0" fill="#fff" transform="rotate(-53.1 1336.1 629.2)"/>
<ellipse cx="1342.1" cy="621.2" rx="7.5" ry="23" stroke-width="2.4" fill="#000" transform="rotate(-53.1 1342.1 621.2)"/>
<ellipse cx="1340.6" cy="623.2" rx="5" ry="20" stroke-width="0" fill="#fff" transform="rotate(-53.1 1340.6 623.2)"/>
<ellipse cx="1347.9" cy="616.8" rx="7.5" ry="23" stroke-width="2.4" fill="#000" transform="rotate(-32.9 1347.9 616.8)"/>
<ellipse cx="1345.8" cy="618.2" rx="5" ry="20" stroke-width="0" fill="#fff" transform="rotate(-32.9 1345.8 618.2)"/>
<ellipse cx="1354.2" cy="612.8" rx="7.5" ry="23" stroke-width="2.4" fill="#000" transform="rotate(-32.9 1354.2 612.8)"/>
<ellipse cx="1352.1" cy="614.1" rx="5" ry="20" stroke-width="0" fill="#fff" transform="rotate(-32.9 1352.1 614.1)"/>
<ellipse cx="1360.5" cy="608.9" rx="7.5" ry="23" stroke-width="2.4" fill="#000" transform="rotate(-8.5 1360.5 608.9)"/>
<ellipse cx="1363" cy="608.6" rx="5" ry="20" stroke-width="0" fill="#fff" transform="rotate(-8.5 1363 608.6)"/>
<ellipse cx="1367.8" cy="607.8" rx="7.5" ry="23" stroke-width="2.4" fill="#000" transform="rotate(-8.5 1367.8 607.8)"/>
<ellipse cx="1370.3" cy="607.5" rx="5" ry="20" stroke-width="0" fill="#fff" transform="rotate(-8.5 1370.3 607.5)"/>
<ellipse cx="1375.2" cy="606.7" rx="7.5" ry="23" stroke-width="2.4" fill="#000" transform="rotate(-8.5 1375.2 606.7)"/>
<ellipse cx="1377.7" cy="606.4" rx="5" ry="20" stroke-width="0" fill="#fff" transform="rotate(-8.5 1377.7 606.4)"/>
<ellipse cx="1382.4" cy="606.7" rx="7.5" ry="23" stroke-width="2.4" fill="#000" transform="rotate(16.4 1382.4 606.7)"/>
<ellipse cx="1384.8" cy="607.4" rx="5" ry="20" stroke-width="0" fill="#fff" transform="rotate(16.4 1384.8 607.4)"/>
<ellipse cx="1389.6" cy="608.8" rx="7.5" ry="23" stroke-width="2.4" fill="#000" transform="rotate(16.4 1389.6 608.8)"/>
<ellipse cx="1392" cy="609.5" rx="5" ry="20" stroke-width="0" fill="#fff" transform="rotate(16.4 1392 609.5)"/>
<ellipse cx="1396.7" cy="610.9" rx="7.5" ry="23" stroke-width="2.4" fill="#000" transform="rotate(16.4 1396.7 610.9)"/>
<ellipse cx="1399.1" cy="611.6" rx="5" ry="20" stroke-width="0" fill="#fff" transform="rotate(16.4 1399.1 611.6)"/>
<ellipse cx="1401.1" cy="616.8" rx="7.5" ry="23" stroke-width="2.4" fill="#000" transform="rotate(54.5 1401.1 616.8)"/>
<ellipse cx="1402.6" cy="618.8" rx="5" ry="20" stroke-width="0" fill="#fff" transform="rotate(54.5 1402.6 618.8)"/>
<ellipse cx="1405.5" cy="622.8" rx="7.5" ry="23" stroke-width="2.4" fill="#000" transform="rotate(54.5 1405.5 622.8)"/>
<ellipse cx="1406.9" cy="624.9" rx="5" ry="20" stroke-width="0" fill="#fff" transform="rotate(54.5 1406.9 624.9)"/>
<ellipse cx="1407" cy="629.8" rx="7.5" ry="23" stroke-width="2.4" fill="#000" transform="rotate(90 1407 629.8)"/>
<ellipse cx="1407" cy="632.3" rx="5" ry="20" stroke-width="0" fill="#fff" transform="rotate(90 1407 632.3)"/>
<ellipse cx="1407" cy="637.2" rx="7.5" ry="23" stroke-width="2.4" fill="#000" transform="rotate(90 1407 637.2)"/>
<ellipse cx="1407" cy="639.7" rx="5" ry="20" stroke-width="0" fill="#fff" transform="rotate(90 1407 639.7)"/>
<ellipse cx="1406.6" cy="644.6" rx="7.5" ry="23" stroke-width="2.4" fill="#000" transform="rotate(94.8 1406.6 644.6)"/>
<ellipse cx="1406.4" cy="647.1" rx="5" ry="20" stroke-width="0" fill="#fff" transform="rotate(94.8 1406.4 647.1)"/>
<ellipse cx="1406" cy="652" rx="7.5" ry="23" stroke-width="2.4" fill="#000" transform="rotate(94.8 1406 652)"/>
<ellipse cx="1405.8" cy="654.5" rx="5" ry="20" stroke-width="0" fill="#fff" transform="rotate(94.8 1405.8 654.5)"/>
<line x1="1302" y1="670.7" x2="1302" y2="1620" stroke-width="2.6"/>
<line x1="1346.2" y1="670.7" x2="1346.2" y2="1620" stroke-width="2.6"/>
<path d="M1303,676 A21.1,9.5 0 0 0 1345.2,676 A21.1,13 0 0 1 1303,676 Z M1303,685.3 A21.1,9.5 0 0 0 1345.2,685.3 A21.1,13 0 0 1 1303,685.3 Z M1303,694.6 A21.1,9.5 0 0 0 1345.2,694.6 A21.1,13 0 0 1 1303,694.6 Z M1303,703.9 A21.1,9.5 0 0 0 1345.2,703.9 A21.1,13 0 0 1 1303,703.9 Z M1303,713.2 A21.1,9.5 0 0 0 1345.2,713.2 A21.1,13 0 0 1 1303,713.2 Z M1303,722.5 A21.1,9.5 0 0 0 1345.2,722.5 A21.1,13 0 0 1 1303,722.5 Z M1303,731.8 A21.1,9.5 0 0 0 1345.2,731.8 A21.1,13 0 0 1 1303,731.8 Z M1303,741.1 A21.1,9.5 0 0 0 1345.2,741.1 A21.1,13 0 0 1 1303,741.1 Z M1303,750.4 A21.1,9.5 0 0 0 1345.2,750.4 A21.1,13 0 0 1 1303,750.4 Z M1303,759.7 A21.1,9.5 0 0 0 1345.2,759.7 A21.1,13 0 0 1 1303,759.7 Z M1303,769 A21.1,9.5 0 0 0 1345.2,769 A21.1,13 0 0 1 1303,769 Z M1303,778.3 A21.1,9.5 0 0 0 1345.2,778.3 A21.1,13 0 0 1 1303,778.3 Z M1303,787.6 A21.1,9.5 0 0 0 1345.2,787.6 A21.1,13 0 0 1 1303,787.6 Z M1303,796.9 A21.1,9.5 0 0 0 1345.2,796.9 A21.1,13 0 0 1 1303,796.9 Z M1303,806.2 A21.1,9.5 0 0 0 1345.2,806.2 A21.1,13 0 0 1 1303,806.2 Z M1303,815.5 A21.1,9.5 0 0 0 1345.2,815.5 A21.1,13 0 0 1 1303,815.5 Z M1303,824.8 A21.1,9.5 0 0 0 1345.2,824.8 A21.1,13 0 0 1 1303,824.8 Z M1303,834.1 A21.1,9.5 0 0 0 1345.2,834.1 A21.1,13 0 0 1 1303,834.1 Z M1303,843.4 A21.1,9.5 0 0 0 1345.2,843.4 A21.1,13 0 0 1 1303,843.4 Z M1303,852.7 A21.1,9.5 0 0 0 1345.2,852.7 A21.1,13 0 0 1 1303,852.7 Z M1303,862 A21.1,9.5 0 0 0 1345.2,862 A21.1,13 0 0 1 1303,862 Z M1303,871.3 A21.1,9.5 0 0 0 1345.2,871.3 A21.1,13 0 0 1 1303,871.3 Z M1303,880.6 A21.1,9.5 0 0 0 1345.2,880.6 A21.1,13 0 0 1 1303,880.6 Z M1303,889.9 A21.1,9.5 0 0 0 1345.2,889.9 A21.1,13 0 0 1 1303,889.9 Z M1303,899.2 A21.1,9.5 0 0 0 1345.2,899.2 A21.1,13 0 0 1 1303,899.2 Z " stroke-width="1.3" fill="#000" />
<path d="M1303,917 A21.1,9.5 0 0 0 1345.2,917 A21.1,13 0 0 1 1303,917 Z M1303,926.3 A21.1,9.5 0 0 0 1345.2,926.3 A21.1,13 0 0 1 1303,926.3 Z M1303,935.6 A21.1,9.5 0 0 0 1345.2,935.6 A21.1,13 0 0 1 1303,935.6 Z M1303,944.9 A21.1,9.5 0 0 0 1345.2,944.9 A21.1,13 0 0 1 1303,944.9 Z M1303,954.2 A21.1,9.5 0 0 0 1345.2,954.2 A21.1,13 0 0 1 1303,954.2 Z " stroke-width="1.3" fill="#000" />
<path d="M1303,970 A21.1,9.5 0 0 0 1345.2,970 A21.1,13 0 0 1 1303,970 Z M1303,979.3 A21.1,9.5 0 0 0 1345.2,979.3 A21.1,13 0 0 1 1303,979.3 Z M1303,988.6 A21.1,9.5 0 0 0 1345.2,988.6 A21.1,13 0 0 1 1303,988.6 Z M1303,997.9 A21.1,9.5 0 0 0 1345.2,997.9 A21.1,13 0 0 1 1303,997.9 Z M1303,1007.2 A21.1,9.5 0 0 0 1345.2,1007.2 A21.1,13 0 0 1 1303,1007.2 Z M1303,1016.5 A21.1,9.5 0 0 0 1345.2,1016.5 A21.1,13 0 0 1 1303,1016.5 Z M1303,1025.8 A21.1,9.5 0 0 0 1345.2,1025.8 A21.1,13 0 0 1 1303,1025.8 Z M1303,1035.1 A21.1,9.5 0 0 0 1345.2,1035.1 A21.1,13 0 0 1 1303,1035.1 Z M1303,1044.4 A21.1,9.5 0 0 0 1345.2,1044.4 A21.1,13 0 0 1 1303,1044.4 Z M1303,1053.7 A21.1,9.5 0 0 0 1345.2,1053.7 A21.1,13 0 0 1 1303,1053.7 Z M1303,1063 A21.1,9.5 0 0 0 1345.2,1063 A21.1,13 0 0 1 1303,1063 Z M1303,1072.3 A21.1,9.5 0 0 0 1345.2,1072.3 A21.1,13 0 0 1 1303,1072.3 Z M1303,1081.6 A21.1,9.5 0 0 0 1345.2,1081.6 A21.1,13 0 0 1 1303,1081.6 Z M1303,1090.9 A21.1,9.5 0 0 0 1345.2,1090.9 A21.1,13 0 0 1 1303,1090.9 Z M1303,1100.2 A21.1,9.5 0 0 0 1345.2,1100.2 A21.1,13 0 0 1 1303,1100.2 Z M1303,1109.5 A21.1,9.5 0 0 0 1345.2,1109.5 A21.1,13 0 0 1 1303,1109.5 Z M1303,1118.8 A21.1,9.5 0 0 0 1345.2,1118.8 A21.1,13 0 0 1 1303,1118.8 Z M1303,1128.1 A21.1,9.5 0 0 0 1345.2,1128.1 A21.1,13 0 0 1 1303,1128.1 Z M1303,1137.4 A21.1,9.5 0 0 0 1345.2,1137.4 A21.1,13 0 0 1 1303,1137.4 Z M1303,1146.7 A21.1,9.5 0 0 0 1345.2,1146.7 A21.1,13 0 0 1 1303,1146.7 Z M1303,1156 A21.1,9.5 0 0 0 1345.2,1156 A21.1,13 0 0 1 1303,1156 Z M1303,1165.3 A21.1,9.5 0 0 0 1345.2,1165.3 A21.1,13 0 0 1 1303,1165.3 Z M1303,1174.6 A21.1,9.5 0 0 0 1345.2,1174.6 A21.1,13 0 0 1 1303,1174.6 Z M1303,1183.9 A21.1,9.5 0 0 0 1345.2,1183.9 A21.1,13 0 0 1 1303,1183.9 Z M1303,1193.2 A21.1,9.5 0 0 0 1345.2,1193.2 A21.1,13 0 0 1 1303,1193.2 Z M1303,1202.5 A21.1,9.5 0 0 0 1345.2,1202.5 A21.1,13 0 0 1 1303,1202.5 Z M1303,1211.8 A21.1,9.5 0 0 0 1345.2,1211.8 A21.1,13 0 0 1 1303,1211.8 Z M1303,1221.1 A21.1,9.5 0 0 0 1345.2,1221.1 A21.1,13 0 0 1 1303,1221.1 Z " stroke-width="1.3" fill="#000" />
<path d="M1303,1236 A21.1,9.5 0 0 0 1345.2,1236 A21.1,13 0 0 1 1303,1236 Z M1303,1245.3 A21.1,9.5 0 0 0 1345.2,1245.3 A21.1,13 0 0 1 1303,1245.3 Z M1303,1254.6 A21.1,9.5 0 0 0 1345.2,1254.6 A21.1,13 0 0 1 1303,1254.6 Z M1303,1263.9 A21.1,9.5 0 0 0 1345.2,1263.9 A21.1,13 0 0 1 1303,1263.9 Z " stroke-width="1.3" fill="#000" />
<path d="M1303,1284 A21.1,9.5 0 0 0 1345.2,1284 A21.1,13 0 0 1 1303,1284 Z M1303,1293.3 A21.1,9.5 0 0 0 1345.2,1293.3 A21.1,13 0 0 1 1303,1293.3 Z M1303,1302.6 A21.1,9.5 0 0 0 1345.2,1302.6 A21.1,13 0 0 1 1303,1302.6 Z M1303,1311.9 A21.1,9.5 0 0 0 1345.2,1311.9 A21.1,13 0 0 1 1303,1311.9 Z M1303,1321.2 A21.1,9.5 0 0 0 1345.2,1321.2 A21.1,13 0 0 1 1303,1321.2 Z M1303,1330.5 A21.1,9.5 0 0 0 1345.2,1330.5 A21.1,13 0 0 1 1303,1330.5 Z M1303,1339.8 A21.1,9.5 0 0 0 1345.2,1339.8 A21.1,13 0 0 1 1303,1339.8 Z M1303,1349.1 A21.1,9.5 0 0 0 1345.2,1349.1 A21.1,13 0 0 1 1303,1349.1 Z M1303,1358.4 A21.1,9.5 0 0 0 1345.2,1358.4 A21.1,13 0 0 1 1303,1358.4 Z M1303,1367.7 A21.1,9.5 0 0 0 1345.2,1367.7 A21.1,13 0 0 1 1303,1367.7 Z M1303,1377 A21.1,9.5 0 0 0 1345.2,1377 A21.1,13 0 0 1 1303,1377 Z M1303,1386.3 A21.1,9.5 0 0 0 1345.2,1386.3 A21.1,13 0 0 1 1303,1386.3 Z M1303,1395.6 A21.1,9.5 0 0 0 1345.2,1395.6 A21.1,13 0 0 1 1303,1395.6 Z M1303,1404.9 A21.1,9.5 0 0 0 1345.2,1404.9 A21.1,13 0 0 1 1303,1404.9 Z M1303,1414.2 A21.1,9.5 0 0 0 1345.2,1414.2 A21.1,13 0 0 1 1303,1414.2 Z M1303,1423.5 A21.1,9.5 0 0 0 1345.2,1423.5 A21.1,13 0 0 1 1303,1423.5 Z M1303,1432.8 A21.1,9.5 0 0 0 1345.2,1432.8 A21.1,13 0 0 1 1303,1432.8 Z M1303,1442.1 A21.1,9.5 0 0 0 1345.2,1442.1 A21.1,13 0 0 1 1303,1442.1 Z M1303,1451.4 A21.1,9.5 0 0 0 1345.2,1451.4 A21.1,13 0 0 1 1303,1451.4 Z M1303,1460.7 A21.1,9.5 0 0 0 1345.2,1460.7 A21.1,13 0 0 1 1303,1460.7 Z M1303,1470 A21.1,9.5 0 0 0 1345.2,1470 A21.1,13 0 0 1 1303,1470 Z M1303,1479.3 A21.1,9.5 0 0 0 1345.2,1479.3 A21.1,13 0 0 1 1303,1479.3 Z M1303,1488.6 A21.1,9.5 0 0 0 1345.2,1488.6 A21.1,13 0 0 1 1303,1488.6 Z M1303,1497.9 A21.1,9.5 0 0 0 1345.2,1497.9 A21.1,13 0 0 1 1303,1497.9 Z M1303,1507.2 A21.1,9.5 0 0 0 1345.2,1507.2 A21.1,13 0 0 1 1303,1507.2 Z M1303,1516.5 A21.1,9.5 0 0 0 1345.2,1516.5 A21.1,13 0 0 1 1303,1516.5 Z M1303,1525.8 A21.1,9.5 0 0 0 1345.2,1525.8 A21.1,13 0 0 1 1303,1525.8 Z M1303,1535.1 A21.1,9.5 0 0 0 1345.2,1535.1 A21.1,13 0 0 1 1303,1535.1 Z M1303,1544.4 A21.1,9.5 0 0 0 1345.2,1544.4 A21.1,13 0 0 1 1303,1544.4 Z M1303,1553.7 A21.1,9.5 0 0 0 1345.2,1553.7 A21.1,13 0 0 1 1303,1553.7 Z M1303,1563 A21.1,9.5 0 0 0 1345.2,1563 A21.1,13 0 0 1 1303,1563 Z M1303,1572.3 A21.1,9.5 0 0 0 1345.2,1572.3 A21.1,13 0 0 1 1303,1572.3 Z M1303,1581.6 A21.1,9.5 0 0 0 1345.2,1581.6 A21.1,13 0 0 1 1303,1581.6 Z M1303,1590.9 A21.1,9.5 0 0 0 1345.2,1590.9 A21.1,13 0 0 1 1303,1590.9 Z M1303,1600.2 A21.1,9.5 0 0 0 1345.2,1600.2 A21.1,13 0 0 1 1303,1600.2 Z M1303,1609.5 A21.1,9.5 0 0 0 1345.2,1609.5 A21.1,13 0 0 1 1303,1609.5 Z " stroke-width="1.3" fill="#000" />
<polyline points="1343,904 1342.6,905.4 1341.6,906.7 1339.8,907.9 1337.4,908.9 1334.6,909.8 1331.3,910.5 1327.7,910.9 1324,911 1320.3,910.9 1316.7,910.5 1313.4,909.8 1310.6,908.9 1308.2,907.9 1306.4,906.7 1305.4,905.4 1305,904" stroke-width="1.6" fill="none"/>
<polyline points="1343,957 1342.6,958.4 1341.6,959.7 1339.8,960.9 1337.4,961.9 1334.6,962.8 1331.3,963.5 1327.7,963.9 1324,964 1320.3,963.9 1316.7,963.5 1313.4,962.8 1310.6,961.9 1308.2,960.9 1306.4,959.7 1305.4,958.4 1305,957" stroke-width="1.6" fill="none"/>
<polyline points="1343,1224 1342.6,1225.4 1341.6,1226.7 1339.8,1227.9 1337.4,1228.9 1334.6,1229.8 1331.3,1230.5 1327.7,1230.9 1324,1231 1320.3,1230.9 1316.7,1230.5 1313.4,1229.8 1310.6,1228.9 1308.2,1227.9 1306.4,1226.7 1305.4,1225.4 1305,1224" stroke-width="1.6" fill="none"/>
<polyline points="1343,1272 1342.6,1273.4 1341.6,1274.7 1339.8,1275.9 1337.4,1276.9 1334.6,1277.8 1331.3,1278.5 1327.7,1278.9 1324,1279 1320.3,1278.9 1316.7,1278.5 1313.4,1277.8 1310.6,1276.9 1308.2,1275.9 1306.4,1274.7 1305.4,1273.4 1305,1272" stroke-width="1.6" fill="none"/>
<line x1="1306.2" y1="1620" x2="1306.2" y2="1630" stroke-width="2.2"/>
<line x1="1341" y1="1620" x2="1341" y2="1630" stroke-width="2.2"/>
<path d="M1306.2,1630 C1305.8,1630.7 1304.6,1633 1304,1634 C1303.4,1635 1302.8,1635.7 1302.6,1636" stroke-width="2.2" fill="none" />
<path d="M1341,1630 C1341.4,1630.7 1342.8,1633 1343.5,1634 C1344.2,1635 1344.8,1635.7 1345,1636" stroke-width="2.2" fill="none" />
<line x1="1302.6" y1="1636" x2="1302.6" y2="1670.8" stroke-width="2.6"/>
<line x1="1345" y1="1636" x2="1345" y2="1670.8" stroke-width="2.6"/>
<polyline points="1341.1,1635 1340.9,1636.6 1340.2,1638.2 1339.2,1639.7 1337.8,1641.1 1336,1642.4 1333.9,1643.4 1331.6,1644.3 1329.1,1644.9 1326.4,1645.3 1323.7,1645.4 1321,1645.3 1318.3,1644.9 1315.8,1644.3 1313.5,1643.4 1311.4,1642.4 1309.6,1641.1 1308.2,1639.7 1307.2,1638.2 1306.5,1636.6 1306.3,1635" stroke-width="2.4" fill="none"/>
<polyline points="1345,1641.5 1344.7,1642.7 1344,1643.8 1342.7,1644.9 1341,1645.9 1338.8,1646.8 1336.3,1647.6 1333.4,1648.2 1330.4,1648.6 1327.1,1648.9 1323.8,1649 1320.5,1648.9 1317.2,1648.6 1314.2,1648.2 1311.3,1647.6 1308.8,1646.8 1306.6,1645.9 1304.9,1644.9 1303.6,1643.8 1302.9,1642.7 1302.6,1641.5" stroke-width="2.4" fill="none"/>
<polyline points="1345,1670.8 1344.7,1672.6 1344,1674.4 1342.7,1676.1 1341,1677.7 1338.8,1679.1 1336.3,1680.3 1333.4,1681.2 1330.4,1681.9 1327.1,1682.4 1323.8,1682.5 1320.5,1682.4 1317.2,1681.9 1314.2,1681.2 1311.3,1680.3 1308.8,1679.1 1306.6,1677.7 1304.9,1676.1 1303.6,1674.4 1302.9,1672.6 1302.6,1670.8" stroke-width="2.8" fill="none"/>
<line x1="1384.3" y1="655" x2="1384.3" y2="690" stroke-width="2.4"/>
<line x1="1427" y1="655" x2="1427" y2="690" stroke-width="2.4"/>
<polyline points="1426.9,661 1426.5,662.4 1425.3,663.7 1423.3,664.9 1420.7,665.9 1417.4,666.8 1413.8,667.5 1409.8,667.9 1405.6,668 1401.4,667.9 1397.4,667.5 1393.8,666.8 1390.5,665.9 1387.9,664.9 1385.9,663.7 1384.7,662.4 1384.3,661" stroke-width="1.8" fill="none"/>
<polyline points="1426.9,667 1426.5,668.4 1425.3,669.7 1423.3,670.9 1420.7,671.9 1417.4,672.8 1413.8,673.5 1409.8,673.9 1405.6,674 1401.4,673.9 1397.4,673.5 1393.8,672.8 1390.5,671.9 1387.9,670.9 1385.9,669.7 1384.7,668.4 1384.3,667" stroke-width="1.8" fill="none"/>
<polyline points="1426.9,690 1426.5,691.6 1425.3,693.1 1423.3,694.4 1420.7,695.7 1417.4,696.7 1413.8,697.4 1409.8,697.8 1405.6,698 1401.4,697.8 1397.4,697.4 1393.8,696.7 1390.5,695.7 1387.9,694.4 1385.9,693.1 1384.7,691.6 1384.3,690" stroke-width="2.4" fill="none"/>
<line x1="1388" y1="697" x2="1388" y2="706" stroke-width="2"/>
<line x1="1423" y1="697" x2="1423" y2="706" stroke-width="2"/>
<ellipse cx="1405.6" cy="704.5" rx="21.3" ry="8" stroke-width="2.2" fill="none"/>
<line x1="1384.3" y1="704.5" x2="1384.3" y2="712" stroke-width="2.2"/>
<line x1="1427" y1="704.5" x2="1427" y2="712" stroke-width="2.2"/>
<polyline points="1426.9,712 1426.5,713.6 1425.3,715.1 1423.3,716.4 1420.7,717.7 1417.4,718.7 1413.8,719.4 1409.8,719.8 1405.6,720 1401.4,719.8 1397.4,719.4 1393.8,718.7 1390.5,717.7 1387.9,716.4 1385.9,715.1 1384.7,713.6 1384.3,712" stroke-width="2.4" fill="none"/>
<line x1="1406.5" y1="722" x2="1406.5" y2="756" stroke-width="2.6"/>
<ellipse cx="1410" cy="747.6" rx="25.4" ry="17.6" stroke-width="1.7" fill="none"/>
<ellipse cx="1410" cy="748.1" rx="20.2" ry="13.4" stroke-width="1.5" fill="none"/>
<polyline points="1392.1,748.4 1393.3,747 1394.9,745.7 1396.9,744.6 1399.1,743.6 1401.6,742.8 1404.3,742.3 1407.1,741.9 1410,741.8 1412.9,741.9 1415.7,742.3 1418.4,742.8 1420.9,743.6 1423.1,744.6 1425.1,745.7 1426.7,747 1427.9,748.4" stroke-width="1.4" fill="none"/>
<polyline points="1435.4,752.8 1435.2,755.1 1434.5,757.4 1433.5,759.5 1432,761.6 1430.2,763.5 1428,765.2 1425.5,766.8 1422.7,768 1419.7,769.1 1416.6,769.8 1413.3,770.2 1410,770.4 1406.7,770.2 1403.4,769.8 1400.3,769.1 1397.3,768 1394.5,766.8 1392,765.2 1389.8,763.5 1388,761.6 1386.5,759.5 1385.5,757.4 1384.8,755.1 1384.6,752.8" stroke-width="1.7" fill="none"/>
<polyline points="1430.7,753.6 1430,755.5 1428.9,757.2 1427.4,758.8 1425.6,760.3 1423.5,761.6 1421.1,762.7 1418.5,763.6 1415.8,764.3 1412.9,764.7 1410,764.8 1407.1,764.7 1404.2,764.3 1401.5,763.6 1398.9,762.7 1396.5,761.6 1394.4,760.3 1392.6,758.8 1391.1,757.2 1390,755.5 1389.3,753.6" stroke-width="1.4" fill="none"/>
<line x1="1435.4" y1="747.6" x2="1435.4" y2="752.8" stroke-width="1.6"/>
<polyline points="1366.4,756 1391.5,754.8 1389.9,762.6 1366.4,765.8 1366.4,756" stroke-width="1.6" fill="#fff"/>
<line x1="1368" y1="760.8" x2="1390.5" y2="758.8" stroke-width="1.2"/>
<path d="M1392.5,757.3 C1391.1,760.1 1385.5,769.5 1384,774.3 C1382.5,779.1 1382.5,783.7 1383.4,786 C1384.3,788.3 1386.8,790 1389.2,788 C1391.6,786 1396.7,778.1 1397.7,774.3 C1398.7,770.5 1395.5,766.7 1395.1,765.2" stroke-width="1.6" fill="none" />
<path d="M1394,769.3 C1393,771.5 1389,780.1 1388,782.3" stroke-width="1.2" fill="none" />
<path d="M1386,744.3 C1386.7,745.5 1388.5,749.5 1390,751.3 C1391.5,753.1 1394.2,753.8 1395,755.3 C1395.8,756.8 1394.6,759.5 1394.5,760.3" stroke-width="1.5" fill="none" />
<ellipse cx="1324" cy="1709.3" rx="25.4" ry="17.6" stroke-width="1.7" fill="none"/>
<ellipse cx="1324" cy="1709.8" rx="20.2" ry="13.4" stroke-width="1.5" fill="none"/>
<polyline points="1306.1,1710.1 1307.3,1708.7 1308.9,1707.4 1310.9,1706.3 1313.1,1705.3 1315.6,1704.5 1318.3,1704 1321.1,1703.6 1324,1703.5 1326.9,1703.6 1329.7,1704 1332.4,1704.5 1334.9,1705.3 1337.1,1706.3 1339.1,1707.4 1340.7,1708.7 1341.9,1710.1" stroke-width="1.4" fill="none"/>
<polyline points="1349.4,1714.5 1349.2,1716.8 1348.5,1719.1 1347.5,1721.2 1346,1723.3 1344.2,1725.2 1342,1726.9 1339.5,1728.5 1336.7,1729.7 1333.7,1730.8 1330.6,1731.5 1327.3,1731.9 1324,1732.1 1320.7,1731.9 1317.4,1731.5 1314.3,1730.8 1311.3,1729.7 1308.5,1728.5 1306,1726.9 1303.8,1725.2 1302,1723.3 1300.5,1721.2 1299.5,1719.1 1298.8,1716.8 1298.6,1714.5" stroke-width="1.7" fill="none"/>
<polyline points="1344.7,1715.3 1344,1717.2 1342.9,1718.9 1341.4,1720.5 1339.6,1722 1337.5,1723.3 1335.1,1724.4 1332.5,1725.3 1329.8,1726 1326.9,1726.4 1324,1726.5 1321.1,1726.4 1318.2,1726 1315.5,1725.3 1312.9,1724.4 1310.5,1723.3 1308.4,1722 1306.6,1720.5 1305.1,1718.9 1304,1717.2 1303.3,1715.3" stroke-width="1.4" fill="none"/>
<line x1="1349.4" y1="1709.3" x2="1349.4" y2="1714.5" stroke-width="1.6"/>
<polyline points="1280.4,1717.7 1305.5,1716.5 1303.9,1724.3 1280.4,1727.5 1280.4,1717.7" stroke-width="1.6" fill="#fff"/>
<line x1="1282" y1="1722.5" x2="1304.5" y2="1720.5" stroke-width="1.2"/>
<path d="M1306.5,1719 C1305.1,1721.8 1299.5,1731.2 1298,1736 C1296.5,1740.8 1296.5,1745.4 1297.4,1747.7 C1298.3,1750 1300.8,1751.7 1303.2,1749.7 C1305.6,1747.8 1310.7,1739.8 1311.7,1736 C1312.7,1732.2 1309.5,1728.4 1309.1,1726.9" stroke-width="1.6" fill="none" />
<path d="M1308,1731 C1307,1733.2 1303,1741.8 1302,1744" stroke-width="1.2" fill="none" />
<path d="M1300,1706 C1300.7,1707.2 1302.5,1711.2 1304,1713 C1305.5,1714.8 1308.2,1715.5 1309,1717 C1309.8,1718.5 1308.6,1721.2 1308.5,1722" stroke-width="1.5" fill="none" />
<polyline points="2323,1977.5 2322.6,1984.5 2321.5,1991.5 2319.6,1998.5 2316.9,2005.3 2313.5,2012.1 2309.4,2018.6 2304.5,2025 2299,2031.2 2292.8,2037.2 2286,2042.9 2278.6,2048.4 2270.6,2053.5 2262,2058.3 2253,2062.8 2243.4,2066.9 2233.5,2070.6 2223.2,2073.9 2212.5,2076.8 2201.5,2079.3 2190.3,2081.3 2178.9,2082.9 2167.4,2084.1 2155.7,2084.8 2144,2085 2132.3,2084.8 2120.6,2084.1 2109.1,2082.9 2097.7,2081.3 2086.5,2079.3 2075.5,2076.8 2064.8,2073.9 2054.5,2070.6 2044.6,2066.9 2035,2062.8 2026,2058.3 2017.4,2053.5 2009.4,2048.4 2002,2042.9 1995.2,2037.2 1989,2031.2 1983.5,2025 1978.6,2018.6 1974.5,2012.1 1971.1,2005.3 1968.4,1998.5 1966.5,1991.5 1965.4,1984.5 1965,1977.5" stroke-width="3.0" fill="none"/>
<line x1="1965" y1="1947.5" x2="1965" y2="1977.5" stroke-width="3.0"/>
<line x1="2323" y1="1947.5" x2="2323" y2="1977.5" stroke-width="3.0"/>
<polyline points="1965,1947.5 1965.4,1940.5 1966.5,1933.5 1968.4,1926.5 1971.1,1919.7 1974.5,1912.9 1978.6,1906.4 1983.5,1900 1989,1893.8 1995.2,1887.8 2002,1882.1 2009.4,1876.6 2017.4,1871.5 2026,1866.7 2035,1862.2 2044.6,1858.1 2054.5,1854.4 2064.8,1851.1 2075.5,1848.2 2086.5,1845.7 2097.7,1843.7 2109.1,1842.1 2120.6,1840.9 2132.3,1840.2 2144,1840 2155.7,1840.2 2167.4,1840.9 2178.9,1842.1 2190.3,1843.7 2201.5,1845.7 2212.5,1848.2 2223.2,1851.1 2233.5,1854.4 2243.4,1858.1 2253,1862.2 2262,1866.7 2270.6,1871.5 2278.6,1876.6 2286,1882.1 2292.8,1887.8 2299,1893.8 2304.5,1900 2309.4,1906.4 2313.5,1912.9 2316.9,1919.7 2319.6,1926.5 2321.5,1933.5 2322.6,1940.5 2323,1947.5" stroke-width="3.0" fill="none"/>
<polyline points="2323,1947.5 2322.6,1954.5 2321.5,1961.5 2319.6,1968.5 2316.9,1975.3 2313.5,1982.1 2309.4,1988.6 2304.5,1995 2299,2001.2 2292.8,2007.2 2286,2012.9 2278.6,2018.4 2270.6,2023.5 2262,2028.3 2253,2032.8 2243.4,2036.9 2233.5,2040.6 2223.2,2043.9 2212.5,2046.8 2201.5,2049.3 2190.3,2051.3 2178.9,2052.9 2167.4,2054.1 2155.7,2054.8 2144,2055 2132.3,2054.8 2120.6,2054.1 2109.1,2052.9 2097.7,2051.3 2086.5,2049.3 2075.5,2046.8 2064.8,2043.9 2054.5,2040.6 2044.6,2036.9 2035,2032.8 2026,2028.3 2017.4,2023.5 2009.4,2018.4 2002,2012.9 1995.2,2007.2 1989,2001.2 1983.5,1995 1978.6,1988.6 1974.5,1982.1 1971.1,1975.3 1968.4,1968.5 1966.5,1961.5 1965.4,1954.5 1965,1947.5" stroke-width="2.6" fill="none"/>
<ellipse cx="2143.5" cy="1928.8" rx="155" ry="83.8" stroke-width="2.8" fill="none"/>
<path d="M2045.6,1903 A98.3,58.7 0 0 0 2242.2,1903 Z" fill="#fff" stroke="none"/>
<polyline points="2242.2,1903 2241.9,1907.6 2241,1912.2 2239.5,1916.7 2237.4,1921.1 2234.7,1925.5 2231.5,1929.6 2227.7,1933.7 2223.4,1937.5 2218.6,1941.1 2213.4,1944.5 2207.7,1947.6 2201.7,1950.5 2195.3,1953 2188.5,1955.3 2181.5,1957.2 2174.3,1958.8 2166.8,1960.1 2159.3,1961 2151.6,1961.5 2143.9,1961.7 2136.2,1961.5 2128.5,1961 2121,1960.1 2113.5,1958.8 2106.3,1957.2 2099.3,1955.3 2092.5,1953 2086.1,1950.5 2080.1,1947.6 2074.4,1944.5 2069.2,1941.1 2064.4,1937.5 2060.1,1933.7 2056.3,1929.6 2053.1,1925.5 2050.4,1921.1 2048.3,1916.7 2046.8,1912.2 2045.9,1907.6 2045.6,1903" stroke-width="2.8" fill="none"/>
<polyline points="2242.2,1903 2241.9,1907.1 2241,1911.2 2239.5,1915.3 2237.4,1919.2 2234.7,1923.1 2231.5,1926.8 2227.7,1930.4 2223.4,1933.9 2218.6,1937.1 2213.4,1940.1 2207.7,1942.9 2201.7,1945.5 2195.3,1947.8 2188.5,1949.8 2181.5,1951.5 2174.3,1952.9 2166.8,1954 2159.3,1954.9 2151.6,1955.3 2143.9,1955.5 2136.2,1955.3 2128.5,1954.9 2121,1954 2113.5,1952.9 2106.3,1951.5 2099.3,1949.8 2092.5,1947.8 2086.1,1945.5 2080.1,1942.9 2074.4,1940.1 2069.2,1937.1 2064.4,1933.9 2060.1,1930.4 2056.3,1926.8 2053.1,1923.1 2050.4,1919.2 2048.3,1915.3 2046.8,1911.2 2045.9,1907.1 2045.6,1903" stroke-width="2.0" fill="none"/>
<polygon points="2045.6,1903 2071,1861 2215.4,1861 2242.2,1903" fill="#fff" stroke="none"/>
<line x1="2045.6" y1="1903" x2="2071" y2="1861" stroke-width="2.8"/>
<line x1="2242.2" y1="1903" x2="2215.4" y2="1861" stroke-width="2.8"/>
<ellipse cx="2143" cy="1860.7" rx="72.2" ry="44.5" stroke-width="2.8" fill="#fff"/>
<ellipse cx="2143.8" cy="1845.7" rx="38.6" ry="22.1" stroke-width="2.6" fill="none"/>
<ellipse cx="2143.8" cy="1845.8" rx="12.4" ry="7.8" stroke-width="2.6" fill="none"/>
<ellipse cx="2090" cy="1858" rx="7" ry="4.5" stroke-width="3.0" fill="none" transform="rotate(-40 2090 1858)"/>
<ellipse cx="2184" cy="1872.5" rx="6.5" ry="5" stroke-width="3.0" fill="none" transform="rotate(-55 2184 1872.5)"/>
<line x1="2086" y1="1860" x2="2093" y2="1855" stroke-width="1.8"/>
<line x1="2182" y1="1874" x2="2186" y2="1871" stroke-width="1.8"/>
<line x1="2133.5" y1="2088" x2="2133.5" y2="2128" stroke-width="2.2"/>
<line x1="2153.5" y1="2088" x2="2153.5" y2="2128" stroke-width="2.2"/>
<ellipse cx="2143.5" cy="2132" rx="15" ry="6" stroke-width="2.2" fill="#fff"/>
<polyline points="2224.6,2257 2224.4,2260.4 2223.6,2263.8 2222.4,2267.2 2220.8,2270.4 2218.6,2273.6 2216,2276.7 2213,2279.7 2209.6,2282.6 2205.8,2285.3 2201.6,2287.8 2197,2290.1 2192.2,2292.2 2187.1,2294.1 2181.7,2295.8 2176.1,2297.2 2170.3,2298.4 2164.3,2299.3 2158.3,2300 2152.2,2300.4 2146,2300.5 2139.8,2300.4 2133.7,2300 2127.7,2299.3 2121.7,2298.4 2115.9,2297.2 2110.3,2295.8 2104.9,2294.1 2099.8,2292.2 2095,2290.1 2090.4,2287.8 2086.2,2285.3 2082.4,2282.6 2079,2279.7 2076,2276.7 2073.4,2273.6 2071.2,2270.4 2069.6,2267.2 2068.4,2263.8 2067.6,2260.4 2067.4,2257" stroke-width="2.6" fill="none"/>
<polyline points="2224.6,2250 2224.4,2253.4 2223.6,2256.7 2222.4,2260 2220.8,2263.3 2218.6,2266.5 2216,2269.5 2213,2272.5 2209.6,2275.3 2205.8,2277.9 2201.6,2280.4 2197,2282.7 2192.2,2284.8 2187.1,2286.7 2181.7,2288.3 2176.1,2289.7 2170.3,2290.9 2164.3,2291.8 2158.3,2292.5 2152.2,2292.9 2146,2293 2139.8,2292.9 2133.7,2292.5 2127.7,2291.8 2121.7,2290.9 2115.9,2289.7 2110.3,2288.3 2104.9,2286.7 2099.8,2284.8 2095,2282.7 2090.4,2280.4 2086.2,2277.9 2082.4,2275.3 2079,2272.5 2076,2269.5 2073.4,2266.5 2071.2,2263.3 2069.6,2260 2068.4,2256.7 2067.6,2253.4 2067.4,2250" stroke-width="2.0" fill="none"/>
<polyline points="2067.4,2250 2067.6,2246.6 2068.4,2243.3 2069.6,2240 2071.2,2236.7 2073.4,2233.5 2076,2230.5 2079,2227.5 2082.4,2224.7 2086.2,2222.1 2090.4,2219.6 2095,2217.3 2099.8,2215.2 2104.9,2213.3 2110.3,2211.7 2115.9,2210.3 2121.7,2209.1 2127.7,2208.2 2133.7,2207.5 2139.8,2207.1 2146,2207 2152.2,2207.1 2158.3,2207.5 2164.3,2208.2 2170.3,2209.1 2176.1,2210.3 2181.7,2211.7 2187.1,2213.3 2192.2,2215.2 2197,2217.3 2201.6,2219.6 2205.8,2222.1 2209.6,2224.7 2213,2227.5 2216,2230.5 2218.6,2233.5 2220.8,2236.7 2222.4,2240 2223.6,2243.3 2224.4,2246.6 2224.6,2250" stroke-width="2.4" fill="none"/>
<line x1="2067.5" y1="2250" x2="2067.5" y2="2257" stroke-width="2.4"/>
<line x1="2224.7" y1="2250" x2="2224.7" y2="2257" stroke-width="2.4"/>
<polyline points="2081.9,2241.8 2081.9,2257.8 2128.8,2285.6 2193.8,2273.8 2210.4,2237.6 2208.2,2221.6" stroke-width="2.6" fill="#fff"/>
<polygon points="2099.5,2204.5 2162.4,2195 2208.2,2221.6 2192.8,2258.4 2128.8,2268.5 2081.9,2241.8" stroke-width="2.8" fill="#fff"/>
<line x1="2128.8" y1="2268.5" x2="2128.8" y2="2285.6" stroke-width="2.2"/>
<line x1="2192.8" y1="2258.4" x2="2193.8" y2="2273.8" stroke-width="2.2"/>
<line x1="2083" y1="2245" x2="2128.8" y2="2272" stroke-width="1.4"/>
<line x1="2128.8" y1="2272" x2="2192.8" y2="2262" stroke-width="1.4"/>
<line x1="2196" y1="2258" x2="2209" y2="2228" stroke-width="1.4"/>
<ellipse cx="2146" cy="2232" rx="35.5" ry="20.5" stroke-width="2.4" fill="none"/>
<polyline points="2116.5,2246.8 2118,2244.5 2119.8,2242.3 2122.1,2240.3 2124.8,2238.4 2127.8,2236.8 2131.1,2235.5 2134.6,2234.4 2138.3,2233.6 2142.1,2233.2 2146,2233 2149.9,2233.2 2153.7,2233.6 2157.4,2234.4 2160.9,2235.5 2164.2,2236.8 2167.2,2238.4 2169.9,2240.3 2172.2,2242.3 2174,2244.5 2175.5,2246.8" stroke-width="2.2" fill="none"/>
<line x1="2145" y1="2155" x2="2145" y2="2243" stroke-width="2.6"/>
<ellipse cx="2145.4" cy="2406.4" rx="68.8" ry="40.3" stroke-width="2.4" fill="none"/>
<polyline points="2211.8,2422.3 2210.1,2425.5 2208,2428.5 2205.5,2431.5 2202.6,2434.3 2199.3,2437 2195.6,2439.4 2191.6,2441.8 2187.3,2443.9 2182.7,2445.8 2177.8,2447.4 2172.7,2448.9 2167.5,2450.1 2162.1,2451 2156.6,2451.7 2151,2452.1 2145.4,2452.2 2139.8,2452.1 2134.2,2451.7 2128.7,2451 2123.3,2450.1 2118.1,2448.9 2113,2447.4 2108.1,2445.8 2103.5,2443.9 2099.2,2441.8 2095.2,2439.4 2091.5,2437 2088.2,2434.3 2085.3,2431.5 2082.8,2428.5 2080.7,2425.5 2079,2422.3" stroke-width="2.2" fill="none"/>
<line x1="2076.7" y1="2406.4" x2="2076.7" y2="2412" stroke-width="2.0"/>
<line x1="2214.2" y1="2406.4" x2="2214.2" y2="2412" stroke-width="2.0"/>
<rect x="2096.8" y="2374.2" width="7" height="6" fill="#fff" stroke="#000" stroke-width="1.8"/>
<rect x="2187" y="2374.2" width="7" height="6" fill="#fff" stroke="#000" stroke-width="1.8"/>
<rect x="2096.8" y="2432.6" width="7" height="6" fill="#fff" stroke="#000" stroke-width="1.8"/>
<rect x="2187" y="2432.6" width="7" height="6" fill="#fff" stroke="#000" stroke-width="1.8"/>
<ellipse cx="2145.4" cy="2406.4" rx="41" ry="23.2" stroke-width="2.4" fill="none"/>
<polyline points="2110.6,2399.2 2113,2397.3 2115.7,2395.5 2118.7,2393.9 2122,2392.4 2125.5,2391.2 2129.2,2390.2 2133.1,2389.4 2137.2,2388.8 2141.3,2388.4 2145.4,2388.3 2149.5,2388.4 2153.6,2388.8 2157.7,2389.4 2161.6,2390.2 2165.3,2391.2 2168.8,2392.4 2172.1,2393.9 2175.1,2395.5 2177.8,2397.3 2180.2,2399.2" stroke-width="2.0" fill="none"/>
<rect x="2118" y="2392" width="5" height="6" fill="#fff" stroke="#000" stroke-width="1.6"/>
<rect x="2167.8" y="2392" width="5" height="6" fill="#fff" stroke="#000" stroke-width="1.6"/>
<rect x="2118" y="2418.5" width="5" height="6" fill="#fff" stroke="#000" stroke-width="1.6"/>
<rect x="2167.8" y="2418.5" width="5" height="6" fill="#fff" stroke="#000" stroke-width="1.6"/>
<path d="M320,2732 C322.5,2730.5 330,2726.2 335,2723 C340,2719.8 344.2,2717.2 350,2713 C355.8,2708.8 361.7,2705.5 370,2698 C378.3,2690.5 390.8,2676 400,2668 C409.2,2660 413.3,2657 425,2650 C436.7,2643 455.8,2632.3 470,2626 C484.2,2619.7 497.5,2616 510,2612 C522.5,2608 533.8,2607 545,2602 C556.2,2597 571.7,2585.3 577,2582" stroke-width="2.6" fill="none" />
<path d="M577,2582 C584.2,2586 605.3,2598.3 620,2606 C634.7,2613.7 650,2619.8 665,2628 C680,2636.2 694.8,2646 710,2655 C725.2,2664 748.3,2677.5 756,2682" stroke-width="2.6" fill="none" />
<line x1="320" y1="2732" x2="487" y2="2838" stroke-width="2.6"/>
<path d="M487,2838 C490.8,2836.7 502.5,2832.5 510,2830 C517.5,2827.5 520.3,2824.5 532,2823 C543.7,2821.5 563.7,2821.8 580,2821 C596.3,2820.2 615,2822 630,2818 C645,2814 658.3,2806.7 670,2797 C681.7,2787.3 692.5,2773.2 700,2760 C707.5,2746.8 710.5,2727.2 715,2718 C719.5,2708.8 720.2,2711 727,2705 C733.8,2699 751.2,2685.8 756,2682" stroke-width="2.6" fill="none" />
<path d="M487,2838 C495.8,2831.7 522.8,2811 540,2800 C557.2,2789 571.7,2780.8 590,2772 C608.3,2763.2 630,2757.3 650,2747 C670,2736.7 695,2719 710,2710 C725,2701 732.3,2697.7 740,2693 C747.7,2688.3 753.3,2683.8 756,2682" stroke-width="2.2" fill="none" />
<line x1="530" y1="2815" x2="723" y2="2713" stroke-width="2.2"/>
<line x1="548" y1="2605.5" x2="717" y2="2701" stroke-width="2.4"/>
<line x1="350" y1="2715" x2="518" y2="2810.8" stroke-width="2.4"/>
<path d="M503.4,2680.1 C504,2678.2 508.4,2671.6 506.6,2668.4 C504.9,2665.2 495.4,2663.2 492.8,2660.9 C490.1,2658.6 490.1,2657.5 490.6,2654.5 C491.2,2651.5 490.6,2645.8 496,2642.8 C501.3,2639.8 514.1,2636.6 522.6,2636.4 C531.2,2636.2 541.8,2638.7 547.2,2641.7 C552.5,2644.8 554.3,2650.8 554.6,2654.5 C555,2658.3 551.2,2661.5 549.3,2664.1 C547.3,2666.8 542.7,2668.4 542.9,2670.5 C543.1,2672.7 549.6,2675.3 550.4,2676.9 C551.1,2678.5 548.8,2680.1 547.2,2680.1 C545.6,2680.1 546.4,2678 540.8,2676.9 C535.1,2675.9 518.7,2673.7 513,2673.7 C507.3,2673.7 508.2,2675.7 506.6,2676.9 C505,2678.2 504,2680.5 503.4,2681.2" stroke-width="2.2" fill="none" />
<path d="M507.7,2666.3 C505.9,2664.5 497.6,2659 497,2655.6 C496.5,2652.2 500.2,2648.1 504.5,2646 C508.8,2643.9 516.4,2642.6 522.6,2642.8 C528.8,2643 537.9,2644.9 541.8,2647.1 C545.7,2649.2 546.6,2652.7 546.1,2655.6 C545.6,2658.4 544.7,2662.5 538.6,2664.1 C532.6,2665.7 514.6,2665 509.8,2665.2" stroke-width="2.2" fill="none" />
<polyline points="420.3,2672.7 427.7,2664.1 435.2,2660.9 448,2665.2 450.1,2674.8 446.9,2687.6 442.7,2689.7 427.7,2687.6 420.3,2678 420.3,2672.7" stroke-width="1.8" fill="none"/>
<path d="M427.7,2665.2 C429,2664.5 432.2,2661.1 435.2,2660.9 C438.2,2660.7 443.5,2662.2 445.9,2664.1 C448.2,2666.1 449.2,2670 449.1,2672.7 C448.9,2675.3 447.1,2678.7 444.8,2680.1 C442.5,2681.5 437.9,2681.7 435.2,2681.2 C432.5,2680.7 430,2679.6 428.8,2676.9 C427.5,2674.3 427.9,2667.1 427.7,2665.2" stroke-width="1.6" fill="none" />
<polyline points="429.9,2668.4 448,2668.4" stroke-width="1.6" fill="none"/>
<polyline points="432,2672.7 446.9,2672.7" stroke-width="1.4" fill="none"/>
<polyline points="432,2688.1 412.8,2703.6 411.7,2711 421.3,2713.2 435.2,2690.2" stroke-width="1.8" fill="none"/>
<polyline points="435.7,2689.7 443.2,2694" stroke-width="1.4" fill="none"/>
<polyline points="432,2693.4 439.5,2697.7" stroke-width="1.4" fill="none"/>
<polyline points="428.3,2697.2 435.7,2701.4" stroke-width="1.4" fill="none"/>
<polyline points="424.5,2700.9 432,2705.2" stroke-width="1.4" fill="none"/>
<polyline points="420.8,2704.6 428.3,2708.9" stroke-width="1.4" fill="none"/>
<polyline points="417.1,2708.4 424.5,2712.6" stroke-width="1.4" fill="none"/>
<path d="M457.6,2721.7 C459,2720.1 461.8,2714.2 466.1,2712.1 C470.4,2710 477.1,2708.7 483.2,2708.9 C489.2,2709.1 498.1,2711 502.4,2713.2 C506.6,2715.3 507.7,2720.3 508.8,2721.7" stroke-width="2.2" fill="none" />
<polyline points="457.6,2721.7 457.6,2731.3" stroke-width="2.2" fill="none"/>
<polyline points="508.8,2721.7 508.8,2739.8" stroke-width="2.2" fill="none"/>
<path d="M508.8,2739.8 C507.7,2741.1 504.9,2745.5 502.4,2747.3 C499.9,2749.1 495.3,2750 493.8,2750.5" stroke-width="2.2" fill="none" />
<path d="M461.8,2728.1 C464,2727.4 471.1,2724.6 474.6,2723.8 C478.2,2723 479.6,2723.1 483.2,2723.3 C486.7,2723.5 492.1,2724.1 496,2724.9 C499.9,2725.7 504.9,2727.6 506.6,2728.1" stroke-width="1.8" fill="none" />
<path d="M459.7,2731.3 C461.1,2732.2 464.3,2735.4 468.2,2736.6 C472.2,2737.9 478.6,2738.8 483.2,2738.8 C487.8,2738.8 492.1,2738.2 496,2736.6 C499.9,2735 504.9,2730.4 506.6,2729.2" stroke-width="2.6" fill="none" />
<polyline points="461.8,2717.7 461.8,2721.9" stroke-width="2.0" fill="none"/>
<polyline points="466.6,2716.8 466.6,2722.1" stroke-width="2.0" fill="none"/>
<polyline points="471.4,2715.9 471.4,2722.3" stroke-width="2.0" fill="none"/>
<polyline points="476.2,2715.1 476.2,2722.6" stroke-width="2.0" fill="none"/>
<polyline points="481,2714.2 481,2722.8" stroke-width="2.0" fill="none"/>
<polyline points="485.8,2715.1 485.8,2722.6" stroke-width="2.0" fill="none"/>
<polyline points="490.6,2715.9 490.6,2722.3" stroke-width="2.0" fill="none"/>
<polyline points="495.4,2716.8 495.4,2722.1" stroke-width="2.0" fill="none"/>
<polyline points="442.7,2732.4 450.1,2731.3 457.6,2732.4 493.8,2740.9 493.8,2753.7 478.9,2758 466.1,2754.8 448,2744.1 442.7,2732.4" stroke-width="2.0" fill="#fff"/>
<ellipse cx="474.6" cy="2750.5" rx="8" ry="6.5" stroke-width="2.0" fill="none"/>
<ellipse cx="475.7" cy="2750.5" rx="4" ry="3.5" stroke-width="1.6" fill="none"/>
<polyline points="483.2,2742 483.2,2752.6" stroke-width="1.6" fill="none"/>
<polyline points="485.8,2742 485.8,2752.6" stroke-width="1.6" fill="none"/>
<polyline points="488.5,2742 488.5,2752.6" stroke-width="1.6" fill="none"/>
<polyline points="491.2,2742 491.2,2752.6" stroke-width="1.6" fill="none"/>
<polyline points="525.8,2748.4 541.8,2739.8 554.6,2748.4 555.7,2758 549.3,2766.5 528,2767.6 525.8,2748.4" stroke-width="1.8" fill="#fff"/>
<path d="M526.9,2752.6 C528.5,2751 533.1,2744.8 536.5,2743 C539.9,2741.3 544.3,2740.9 547.2,2742 C550,2743 552.8,2746.4 553.6,2749.4 C554.3,2752.4 553.9,2757.8 551.4,2760.1 C548.9,2762.4 542.5,2763.3 538.6,2763.3 C534.7,2763.3 529.7,2760.6 528,2760.1" stroke-width="1.4" fill="none" />
<polyline points="532.2,2758 539.7,2740.9" stroke-width="1.6" fill="none"/>
<polyline points="534.4,2759 541.8,2742" stroke-width="1.3" fill="none"/>
<polyline points="539.7,2767.6 551.4,2789.9 559.9,2791 564.2,2782.5 553.6,2762.8" stroke-width="1.8" fill="none"/>
<polyline points="541.8,2770.8 549.3,2768.6" stroke-width="1.3" fill="none"/>
<polyline points="544.5,2775 552,2772.9" stroke-width="1.3" fill="none"/>
<polyline points="547.2,2779.3 554.6,2777.2" stroke-width="1.3" fill="none"/>
<polyline points="549.8,2783.6 557.3,2781.4" stroke-width="1.3" fill="none"/>
<polyline points="552.5,2787.8 559.9,2785.7" stroke-width="1.3" fill="none"/>
<ellipse cx="412.9" cy="458.8" rx="18.7" ry="9.5" stroke-width="2.76" fill="#fff"/>
<ellipse cx="412.9" cy="459.7" rx="13.1" ry="6.8" stroke-width="2.3" fill="none"/>
<polyline points="391.9,458.8 391.9,479.1" stroke-width="2.53" fill="none"/>
<polyline points="434.7,458.8 434.7,479.1" stroke-width="2.53" fill="none"/>
<polyline points="434.7,475 434.5,476.2 434,477.4 433.1,478.5 431.8,479.5 430.3,480.5 428.4,481.4 426.3,482.2 424,482.8 421.5,483.3 418.9,483.7 416.1,484 413.3,484 410.5,484 407.8,483.7 405.1,483.3 402.6,482.8 400.3,482.2 398.2,481.4 396.4,480.5 394.8,479.5 393.6,478.5 392.7,477.4 392.1,476.2 391.9,475" stroke-width="2.3" fill="none"/>
<polyline points="434.7,479.1 434.5,480.3 434,481.5 433.1,482.7 431.8,483.8 430.3,484.8 428.4,485.8 426.3,486.6 424,487.3 421.5,487.8 418.9,488.2 416.1,488.5 413.3,488.5 410.5,488.5 407.8,488.2 405.1,487.8 402.6,487.3 400.3,486.6 398.2,485.8 396.4,484.8 394.8,483.8 393.6,482.7 392.7,481.5 392.1,480.3 391.9,479.1" stroke-width="2.53" fill="none"/>
<polyline points="394.9,487.4 394.9,512.2" stroke-width="2.53" fill="none"/>
<polyline points="432,487.4 432,512.2" stroke-width="2.53" fill="none"/>
<polyline points="432,511 431.8,512.2 431.4,513.3 430.6,514.3 429.5,515.3 428.1,516.3 426.5,517.1 424.7,517.8 422.7,518.5 420.5,518.9 418.2,519.3 415.8,519.5 413.3,519.6 410.9,519.5 408.5,519.3 406.2,518.9 404,518.5 401.9,517.8 400.1,517.1 398.5,516.3 397.1,515.3 396.1,514.3 395.3,513.3 394.8,512.2 394.6,511" stroke-width="2.53" fill="none"/>
<polyline points="316.1,543.7 393.7,499.8" stroke-width="2.53" fill="none"/>
<polyline points="434.3,470.1 479.3,495.7 479.3,500.2 475.9,502.5" stroke-width="2.53" fill="none"/>
<polyline points="316.1,543.7 355.5,564.6 477,497.5" stroke-width="2.53" fill="none"/>
<polyline points="316.1,543.7 316.5,553.8 355.5,574.1 356.6,568.5 475.9,502.5" stroke-width="2.53" fill="none"/>
<polyline points="435.4,480.7 466.9,498.7" stroke-width="2.07" fill="none"/>
<polyline points="329.6,540.3 337.5,535.8 355.5,546.6 357,553.4 348.7,557.2 329.1,547.5 329.6,540.3" stroke-width="2.3" fill="none"/>
<polyline points="332.3,539.9 352.1,551.6" stroke-width="1.8399999999999999" fill="none"/>
<polyline points="424.1,542.6 439.9,534 441,547.1 425.3,556.1 424.1,542.6" stroke-width="2.07" fill="none"/>
<polyline points="426.4,547.1 437.6,541.4" stroke-width="1.6099999999999999" fill="none"/>
<polyline points="426.4,551.6 438.8,545.3" stroke-width="1.6099999999999999" fill="none"/>
<polyline points="321.7,559.4 325.1,639.4 348.7,717" stroke-width="2.53" fill="none"/>
<polyline points="325.1,639.4 361.1,657.8" stroke-width="2.3" fill="none"/>
<polyline points="363.3,577.5 360,657.4 381.4,727.2" stroke-width="2.53" fill="none"/>
<polyline points="326.2,562.8 326.2,578.6 363.3,599.3 364.5,577.5" stroke-width="2.3" fill="none"/>
<polyline points="328.5,578.6 356.6,594.3" stroke-width="1.8399999999999999" fill="none"/>
<polyline points="472.5,502 471.4,535.8 474.1,535.8 473.2,538.1 470.3,628.1" stroke-width="2.53" fill="none"/>
<polyline points="348.2,719.2 373.8,742 381.3,727.7" stroke-width="2.3" fill="none"/>
<polyline points="212.8,769.3 340.8,693.6" stroke-width="2.53" fill="none"/>
<polyline points="315.2,709.6 373.8,742.6" stroke-width="2.3" fill="none"/>
<path d="M212.8,769.3 C212.7,770.4 211.7,773.6 212.4,775.7 C213.1,777.8 207.4,777.5 217.1,782.1 C226.7,786.6 261.5,799.5 270.4,803" stroke-width="2.53" fill="none" />
<polyline points="259.7,803.8 270.4,801.7 270.8,875.5 260.8,879.1 259.7,803.8" stroke-width="2.53" fill="none"/>
<polyline points="232,793.8 232,851.4" stroke-width="2.3" fill="none"/>
<polyline points="240.5,798.1 240.5,852.5" stroke-width="2.3" fill="none"/>
<polyline points="256.5,811.9 256.5,873.8" stroke-width="2.3" fill="none"/>
<polyline points="232,793.8 213.2,803.8 213.2,810.9 257.6,835.8" stroke-width="2.53" fill="none"/>
<polyline points="232,829 213.2,838.6 213.2,847.8 258.6,874.9" stroke-width="2.53" fill="none"/>
<polyline points="213.2,810.9 232,801.3" stroke-width="1.8399999999999999" fill="none"/>
<polyline points="213.2,847.8 232,837.5" stroke-width="1.8399999999999999" fill="none"/>
<polyline points="232,851.4 257.6,865.3" stroke-width="1.8399999999999999" fill="none"/>
<path d="M270.4,803 C265,799.9 244.4,789.5 238.4,784.2 C232.3,779 233.4,775.3 234.1,771.4 C234.8,767.5 237.7,763.2 242.7,760.8 C247.6,758.3 257.2,756.5 264,756.5 C270.7,756.5 273.9,757.2 283.2,760.8 C292.4,764.3 313.4,775 319.4,777.8" stroke-width="2.53" fill="none" />
<path d="M257.6,771 C263.6,773.6 284.2,783.1 293.8,786.3 C303.4,789.6 311.6,789.9 315.2,790.6" stroke-width="2.07" fill="none" />
<path d="M285.3,748 C286,746.5 286,741.6 289.6,739.4 C293.1,737.3 300.6,735.4 306.6,735.2 C312.7,734.9 316.9,733.8 325.8,737.7 C334.7,741.6 354.3,755.1 359.9,758.6" stroke-width="2.53" fill="none" />
<path d="M289.6,752.2 C291.3,751 295.3,746.2 300.2,744.8 C305.2,743.3 309.7,740.3 319.4,743.7 C329.2,747.1 352.3,761.5 358.9,765" stroke-width="2.07" fill="none" />
<path d="M272.5,807.7 C275.7,808.4 284.6,810.2 291.7,811.9 C298.8,813.7 311.3,817.3 315.2,818.3" stroke-width="2.07" fill="none" />
<path d="M318.4,782.1 C320,782.8 321,783.5 328,786.3 C334.9,789.2 354.7,792.7 359.9,799.1 C365.2,805.5 359.6,820.5 359.5,824.7" stroke-width="2.07" fill="none" />
<path d="M272.5,830.1 C275.4,830.6 282.5,830.6 289.6,833.3 C296.7,835.9 310.9,843.9 315.2,846.1" stroke-width="2.07" fill="none" />
<polyline points="256.5,771.4 268.2,776.7 268.2,785.3 256.5,779.9 256.5,771.4" stroke-width="1.8399999999999999" fill="none"/>
<polyline points="270.4,775.7 282.1,781 282.1,789.5 270.4,784.2 270.4,775.7" stroke-width="1.8399999999999999" fill="none"/>
<polyline points="283.2,782.1 294.9,787.4 294.9,795.9 283.2,790.6 283.2,782.1" stroke-width="1.8399999999999999" fill="none"/>
<polyline points="294.9,788.5 306.6,793.8 306.6,802.3 294.9,797 294.9,788.5" stroke-width="1.8399999999999999" fill="none"/>
<polyline points="306.6,750.1 318.4,755.4 318.4,764 306.6,758.6 306.6,750.1" stroke-width="1.8399999999999999" fill="none"/>
<polyline points="319.4,754.4 331.2,759.7 331.2,768.2 319.4,762.9 319.4,754.4" stroke-width="1.8399999999999999" fill="none"/>
<polyline points="332.2,758.6 344,764 344,772.5 332.2,767.2 332.2,758.6" stroke-width="1.8399999999999999" fill="none"/>
<polyline points="342.9,765 354.6,770.4 354.6,778.9 342.9,773.6 342.9,765" stroke-width="1.8399999999999999" fill="none"/>
<polyline points="293.8,817.3 305.6,822.6 305.6,831.1 293.8,825.8 293.8,817.3" stroke-width="1.8399999999999999" fill="none"/>
<polyline points="342.9,801.3 354.6,806.6 354.6,815.1 342.9,809.8 342.9,801.3" stroke-width="1.8399999999999999" fill="none"/>
<polyline points="315.2,777.8 315.2,846.1" stroke-width="2.3" fill="none"/>
<polyline points="318.6,776.7 318.6,847.1 314.1,849.3" stroke-width="2.3" fill="none"/>
<polyline points="285.3,831.1 314.1,850.3 336.5,862.1" stroke-width="3.4499999999999997" fill="none"/>
<path d="M380.2,728.8 C381.1,726.3 381.8,720.2 385.5,713.8 C389.3,707.4 395.8,697.1 402.6,690.4 C409.4,683.6 417.9,677.2 426.1,673.3 C434.2,669.4 443.5,667.5 451.7,666.9 C459.8,666.4 468.4,666.9 475.1,670.1 C481.9,673.3 489.3,683.4 492.2,686.1" stroke-width="2.53" fill="none" />
<path d="M362.1,827.9 C363.5,829.6 366.3,834.8 370.6,838 C374.9,841.2 382,845.2 387.7,847.1 C393.4,849 397.6,849.6 404.7,849.3 C411.8,848.9 421.8,848.2 430.3,845 C438.9,841.8 448.1,837 455.9,830.1 C463.7,823.1 470.8,812.8 477.2,803.4 C483.6,794 490,782.8 494.3,773.6 C498.6,764.3 501.4,752.2 502.8,748" stroke-width="2.53" fill="none" />
<polyline points="492.2,686.1 494.3,690.4 510.3,681.8 510.3,742.6 502.8,748 501.8,750.1" stroke-width="2.53" fill="none"/>
<path d="M359.9,765 C359.9,775 359.2,814.2 359.5,824.7 C359.9,835.2 361.7,827.4 362.1,827.9" stroke-width="2.3" fill="none" />
<ellipse cx="432.5" cy="750.1" rx="53.3" ry="73.6" stroke-width="2.53" fill="none" transform="rotate(35 432.5 750.1)"/>
<ellipse cx="433.5" cy="751.2" rx="48" ry="68.2" stroke-width="2.3" fill="none" transform="rotate(35 433.5 751.2)"/>
<ellipse cx="434.6" cy="752.2" rx="43.7" ry="64" stroke-width="2.07" fill="none" transform="rotate(35 434.6 752.2)"/>
<ellipse cx="441" cy="754.4" rx="37.3" ry="56.5" stroke-width="2.3" fill="none" transform="rotate(35 441 754.4)"/>
<ellipse cx="445.3" cy="756.5" rx="32" ry="50.1" stroke-width="2.07" fill="none" transform="rotate(35 445.3 756.5)"/>
<ellipse cx="450.6" cy="758.6" rx="27.7" ry="45.9" stroke-width="2.07" fill="none" transform="rotate(35 450.6 758.6)"/>
<ellipse cx="455.9" cy="760.8" rx="23.9" ry="41.6" stroke-width="2.53" fill="none" transform="rotate(35 455.9 760.8)"/>
<ellipse cx="458.1" cy="762.9" rx="27.7" ry="43.7" stroke-width="2.53" fill="#fff" transform="rotate(35 458.1 762.9)"/>
<ellipse cx="458.1" cy="762.9" rx="23.9" ry="39.5" stroke-width="2.3" fill="none" transform="rotate(35 458.1 762.9)"/>
<clipPath id="grl"><ellipse cx="458.05" cy="762.9" rx="23.9" ry="39.5" transform="rotate(35 458.05 762.9)"/></clipPath>
<g clip-path="url(#grl)">
<polyline points="404.7,773.6 468.7,709.6" stroke-width="5.06" fill="none"/>
<polyline points="413.3,782.1 477.2,718.1" stroke-width="5.06" fill="none"/>
<polyline points="421.8,790.6 485.8,726.6" stroke-width="5.06" fill="none"/>
<polyline points="430.3,799.1 494.3,735.2" stroke-width="5.06" fill="none"/>
<polyline points="438.9,807.7 502.8,743.7" stroke-width="5.06" fill="none"/>
<polyline points="447.4,816.2 511.4,752.2" stroke-width="5.06" fill="none"/>
<polyline points="443.1,735.2 469.8,794.9" stroke-width="2.3" fill="none"/>
</g>
<polyline points="443.1,741.6 467.6,790.6" stroke-width="2.3" fill="none"/>
<polyline points="447.4,738.4 469.8,788.5" stroke-width="1.8399999999999999" fill="none"/>
<path d="M469.8,632.8 C471.7,631.6 476.7,627.3 481.5,625.3 C486.3,623.4 495,621.8 498.6,621.1 C502.1,620.4 493.1,616.6 502.8,621.1 C512.6,625.5 548.2,643.3 557.2,647.7" stroke-width="2.53" fill="none" />
<polyline points="557.2,647.7 557.2,710.6 547.6,716 547.6,649.9 557.2,647.7" stroke-width="2.53" fill="none"/>
<path d="M468.7,658.4 C469.1,655.9 468,647.4 470.8,643.5 C473.7,639.5 480.4,636.4 485.8,634.9 C491.1,633.5 492.5,632.4 502.8,634.9 C513.1,637.4 540.2,647.4 547.6,649.9" stroke-width="2.3" fill="none" />
<path d="M468.7,658.4 C470.8,660.2 475.1,666.9 481.5,669.1 C487.9,671.2 496.1,667.3 507.1,671.2 C518.1,675.1 540.9,689 547.6,692.5" stroke-width="2.3" fill="none" />
<path d="M507.1,671.2 C507.1,673 507.1,680.1 507.1,681.8" stroke-width="2.3" fill="none" />
<path d="M511.4,741.6 C511.4,731.4 511.4,690.9 511.4,680.8" stroke-width="2.07" fill="none" />
<polyline points="492.2,641.3 509.2,648.8 509.2,657.3 492.2,649.9 492.2,641.3" stroke-width="1.8399999999999999" fill="none"/>
<polyline points="507.1,645.6 524.2,653.1 524.2,661.6 507.1,654.1 507.1,645.6" stroke-width="1.8399999999999999" fill="none"/>
<polyline points="528.4,655.2 545.5,662.7 545.5,671.2 528.4,663.7 528.4,655.2" stroke-width="1.8399999999999999" fill="none"/>
<polyline points="528.4,685 545.5,692.5 545.5,701 528.4,693.6 528.4,685" stroke-width="1.8399999999999999" fill="none"/>
<ellipse cx="1007" cy="1067" rx="60" ry="90" stroke-width="1.6" fill="none" transform="rotate(27 1007 1067)"/>
<ellipse cx="1005" cy="1066" rx="57" ry="87" stroke-width="1.2" fill="none" transform="rotate(27 1005 1066)"/>
<ellipse cx="1009" cy="1069" rx="39.5" ry="63" stroke-width="1.5" fill="none" transform="rotate(27 1009 1069)"/>
<ellipse cx="1133" cy="1147" rx="63.5" ry="94.5" stroke-width="2.0" fill="none" transform="rotate(27 1133 1147)"/>
<ellipse cx="1131" cy="1149" rx="60" ry="91" stroke-width="1.3" fill="none" transform="rotate(27 1131 1149)"/>
<ellipse cx="1129" cy="1151" rx="57" ry="88" stroke-width="1.2" fill="none" transform="rotate(27 1129 1151)"/>
<polyline points="1079.9,1151.4 1086.3,1139.2 1139.6,1075.7 1187.6,1079.5 1199.3,1089.1 1200.4,1090.1 1200.4,1160.5 1156.6,1204.2 1138.5,1223.4 1094.8,1223.4 1080.9,1215.9 1079.9,1214.9 1079.9,1151.4" stroke-width="2.07" fill="#fff"/>
<polyline points="1083.1,1153 1094.8,1146.6 1142.8,1086.9 1197.2,1090.1" stroke-width="1.8399999999999999" fill="none"/>
<polyline points="1094.8,1146.6 1094.8,1221.3" stroke-width="1.8399999999999999" fill="none"/>
<polyline points="1083.1,1153 1083.1,1214.9 1094.8,1221.3" stroke-width="1.6099999999999999" fill="none"/>
<polyline points="1086.3,1140.2 1095.9,1145.6" stroke-width="1.6099999999999999" fill="none"/>
<polyline points="1139.6,1076.3 1147,1082.7 1142.8,1086.9" stroke-width="1.6099999999999999" fill="none"/>
<polyline points="1139.6,1077.3 1187.6,1081.1 1197.2,1090.1" stroke-width="1.4949999999999999" fill="none"/>
<polyline points="1201.4,1100.8 1202.5,1125.3" stroke-width="1.8399999999999999" fill="none"/>
<path d="M1167.3,1104 C1163.4,1104.7 1151.8,1103.6 1143.8,1108.2 C1135.8,1112.9 1125.7,1122.6 1119.3,1131.7 C1112.9,1140.8 1107.9,1153 1105.4,1162.6 C1103,1172.2 1103,1182.2 1104.4,1189.3 C1105.8,1196.4 1110.2,1202.1 1114,1205.3 C1117.7,1208.5 1121.4,1209.2 1126.8,1208.5 C1132.1,1207.8 1139.6,1205.1 1146,1201 C1152.4,1196.9 1160.4,1190.4 1165.2,1184 C1170,1177.6 1172.4,1170.6 1174.8,1162.6 C1177.1,1154.6 1178.8,1144.3 1179,1136 C1179.2,1127.6 1177.8,1117.8 1175.8,1112.5 C1173.9,1107.2 1168.7,1105.4 1167.3,1104 C1165.9,1102.6 1171.2,1103.3 1167.3,1104Z" stroke-width="1.8399999999999999" fill="none" />
<path d="M1173.7,1104 C1175.5,1104.9 1181.5,1105.4 1184.4,1109.3 C1187.2,1113.2 1190,1119.4 1190.8,1127.4 C1191.5,1135.4 1190.8,1148.2 1188.6,1157.3 C1186.5,1166.4 1183.3,1174.2 1178,1181.8 C1172.6,1189.5 1163.4,1198 1156.6,1203.1 C1149.9,1208.3 1143.1,1211.5 1137.4,1212.7 C1131.8,1214 1127.1,1212.7 1122.5,1210.6 C1117.9,1208.5 1111.8,1201.7 1109.7,1199.9" stroke-width="1.8399999999999999" fill="none" />
<path d="M1176.9,1108.2 C1178.5,1111.6 1185.4,1119.4 1186.5,1128.5 C1187.6,1137.6 1186.5,1152.9 1183.3,1162.6 C1180.1,1172.4 1173.5,1180.2 1167.3,1187.2 C1161.1,1194.1 1152.7,1200.8 1146,1204.2 C1139.2,1207.6 1130,1206.9 1126.8,1207.4" stroke-width="2.76" fill="none" />
<polyline points="1149.2,1207.4 1155.6,1206.3 1156.6,1214.9" stroke-width="1.6099999999999999" fill="none"/>
<polyline points="1109.7,1131.7 1115,1129.6" stroke-width="3.4499999999999997" fill="none"/>
<polyline points="1371.1,2193.1 1401.3,2176.8 1413.7,2176.8 1440.4,2189.5" stroke-width="2.3" fill="none"/>
<polyline points="1378.2,2196.7 1404.9,2180.7 1413.7,2180.7 1435.1,2192.2" stroke-width="1.8399999999999999" fill="none"/>
<polyline points="1463.5,2205.5 1555.9,2258.9 1564.8,2263.3 1566,2273.1 1565.2,2289.1 1560.4,2294.4 1479.5,2338.8 1473.3,2337.9" stroke-width="2.76" fill="none"/>
<polyline points="1464.4,2219.8 1477.7,2228.6" stroke-width="2.3" fill="none"/>
<polyline points="1467.1,2312.2 1554.1,2264.2 1563,2269.5" stroke-width="2.3" fill="none"/>
<polyline points="1433.3,2248.2 1467.9,2230.4" stroke-width="2.3" fill="none"/>
<path d="M1399.5,2214.4 C1401.3,2213.4 1406,2209.5 1410.2,2208.2 C1414.3,2206.9 1422,2206.7 1424.4,2206.4" stroke-width="2.3" fill="none" />
<path d="M1425.3,2206.4 C1425.7,2204.7 1425.4,2199 1428,2195.8 C1430.5,2192.5 1436.2,2188.7 1440.4,2186.9 C1444.5,2185.1 1449.3,2184.5 1452.8,2185.1 C1456.4,2185.7 1459.9,2186.7 1461.7,2190.4 C1463.5,2194.1 1463.1,2202.3 1463.5,2207.3 C1463.9,2212.4 1464.2,2218.4 1464.4,2220.6" stroke-width="2.76" fill="none" />
<path d="M1425.3,2206.4 C1424.8,2210.4 1422.8,2223.5 1422.6,2230.4 C1422.5,2237.4 1422.8,2243.6 1424.4,2248.2 C1426,2252.8 1430.3,2256.5 1432.4,2258 C1434.5,2259.4 1437.1,2259 1436.8,2257.1 C1436.5,2255.2 1431.5,2252 1430.6,2246.4 C1429.7,2240.8 1430.8,2230.1 1431.5,2223.3 C1432.2,2216.5 1433.3,2210 1435.1,2205.5 C1436.8,2201.1 1441,2198.1 1442.2,2196.7" stroke-width="2.76" fill="none" />
<ellipse cx="1446.6" cy="2211.2" rx="5" ry="8" stroke-width="2.3" fill="none"/>
<polyline points="1466.2,2220.6 1477.7,2226.9 1483,2227.8 1475.9,2223.3" stroke-width="3.2199999999999998" fill="none"/>
<polyline points="1495.5,2349.5 1523.9,2335.3 1545.2,2331.7 1545.2,2351.3 1516.8,2365.5 1502.6,2365.5 1495.5,2360.2 1495.5,2349.5" stroke-width="2.3" fill="none"/>
<polyline points="1495.5,2358.4 1502.6,2361.9 1545.2,2349.5" stroke-width="1.8399999999999999" fill="none"/>
<polyline points="1494.6,2332.6 1499,2340.6 1507.9,2342.4 1502.6,2344.2" stroke-width="2.07" fill="none"/>
<polyline points="1523.9,2335.3 1523.9,2317.5" stroke-width="2.07" fill="none"/>
<polyline points="1404.3,2241.1 1403.8,2245.5 1402.2,2249.8 1399.7,2254 1396.1,2258 1391.7,2261.6 1386.4,2265 1380.3,2267.9 1373.7,2270.3 1366.5,2272.3 1358.9,2273.7 1351,2274.6 1343,2274.9 1335,2274.6 1327.1,2273.7 1319.6,2272.3 1312.4,2270.3 1305.7,2267.9 1299.7,2265 1294.4,2261.6 1289.9,2258 1286.4,2254 1283.8,2249.8 1282.2,2245.5 1281.7,2241.1" stroke-width="2.9899999999999998" fill="none"/>
<polyline points="1404.3,2251.7 1403.8,2256.2 1402.2,2260.5 1399.7,2264.7 1396.1,2268.6 1391.7,2272.3 1386.4,2275.6 1380.3,2278.5 1373.7,2281 1366.5,2282.9 1358.9,2284.4 1351,2285.2 1343,2285.5 1335,2285.2 1327.1,2284.4 1319.6,2282.9 1312.4,2281 1305.7,2278.5 1299.7,2275.6 1294.4,2272.3 1289.9,2268.6 1286.4,2264.7 1283.8,2260.5 1282.2,2256.2 1281.7,2251.7" stroke-width="2.9899999999999998" fill="none"/>
<polyline points="1404.3,2262.4 1403.8,2266.8 1402.2,2271.2 1399.7,2275.3 1396.1,2279.3 1391.7,2283 1386.4,2286.3 1380.3,2289.2 1373.7,2291.7 1366.5,2293.6 1358.9,2295 1351,2295.9 1343,2296.2 1335,2295.9 1327.1,2295 1319.6,2293.6 1312.4,2291.7 1305.7,2289.2 1299.7,2286.3 1294.4,2283 1289.9,2279.3 1286.4,2275.3 1283.8,2271.2 1282.2,2266.8 1281.7,2262.4" stroke-width="2.9899999999999998" fill="none"/>
<polyline points="1404.3,2273.1 1403.8,2277.5 1402.2,2281.8 1399.7,2286 1396.1,2290 1391.7,2293.6 1386.4,2297 1380.3,2299.9 1373.7,2302.3 1366.5,2304.3 1358.9,2305.7 1351,2306.6 1343,2306.8 1335,2306.6 1327.1,2305.7 1319.6,2304.3 1312.4,2302.3 1305.7,2299.9 1299.7,2297 1294.4,2293.6 1289.9,2290 1286.4,2286 1283.8,2281.8 1282.2,2277.5 1281.7,2273.1" stroke-width="2.9899999999999998" fill="none"/>
<polyline points="1404.3,2283.7 1403.8,2288.1 1402.2,2292.5 1399.7,2296.7 1396.1,2300.6 1391.7,2304.3 1386.4,2307.6 1380.3,2310.5 1373.7,2313 1366.5,2314.9 1358.9,2316.4 1351,2317.2 1343,2317.5 1335,2317.2 1327.1,2316.4 1319.6,2314.9 1312.4,2313 1305.7,2310.5 1299.7,2307.6 1294.4,2304.3 1289.9,2300.6 1286.4,2296.7 1283.8,2292.5 1282.2,2288.1 1281.7,2283.7" stroke-width="2.9899999999999998" fill="none"/>
<polyline points="1404.3,2294.4 1403.8,2298.8 1402.2,2303.1 1399.7,2307.3 1396.1,2311.3 1391.7,2315 1386.4,2318.3 1380.3,2321.2 1373.7,2323.6 1366.5,2325.6 1358.9,2327 1351,2327.9 1343,2328.2 1335,2327.9 1327.1,2327 1319.6,2325.6 1312.4,2323.6 1305.7,2321.2 1299.7,2318.3 1294.4,2315 1289.9,2311.3 1286.4,2307.3 1283.8,2303.1 1282.2,2298.8 1281.7,2294.4" stroke-width="2.9899999999999998" fill="none"/>
<ellipse cx="1343" cy="2221" rx="58.6" ry="31.6" stroke-width="2.76" fill="#fff"/>
<polyline points="1393.1,2233.3 1390.8,2236.3 1388,2239.1 1384.6,2241.7 1380.7,2244 1376.4,2246.2 1371.7,2248 1366.6,2249.6 1361.3,2250.9 1355.7,2251.8 1350,2252.4 1344.2,2252.6 1338.4,2252.5 1332.6,2252.1 1327,2251.3 1321.5,2250.2 1316.4,2248.7 1311.5,2247 1307,2244.9 1302.9,2242.6 1299.3,2240.1 1296.3,2237.4 1293.8,2234.5 1291.8,2231.5 1290.5,2228.4" stroke-width="2.3" fill="none"/>
<polyline points="1280.8,2228.6 1280.8,2280.2 1286.1,2298" stroke-width="2.76" fill="none"/>
<polyline points="1402.2,2223.3 1402.2,2283.7" stroke-width="2.76" fill="none"/>
<polyline points="1300.4,2244.6 1327.9,2258" stroke-width="3.4499999999999997" fill="none"/>
<polyline points="1248.8,2285.5 1279.9,2267.7" stroke-width="2.3" fill="none"/>
<polyline points="1248.8,2285.5 1250.6,2295.3 1292.4,2318.4 1293.3,2305.1" stroke-width="2.3" fill="none"/>
<polyline points="1250.6,2294.4 1328.8,2340.6 1357.2,2326.4" stroke-width="2.3" fill="none"/>
<polyline points="1229.3,2288.2 1328.8,2345 1334.1,2345.9" stroke-width="2.3" fill="none"/>
<polyline points="1231.1,2290.8 1327.9,2342.7" stroke-width="1.6099999999999999" fill="none"/>
<polyline points="1404.9,2255.3 1438.6,2276.6 1443.9,2283.7 1440.4,2290.8 1364,2329.9 1351.5,2321.1" stroke-width="2.3" fill="none"/>
<polyline points="1404.9,2262.4 1433.3,2278.4 1435.1,2292.6" stroke-width="1.8399999999999999" fill="none"/>
<polyline points="1300,2326.4 1332,2345.9 1364,2329.9" stroke-width="2.3" fill="none"/>
<polyline points="1168,2336.2 1168,2313.1 1170.6,2309.5 1215.1,2284.3 1220.4,2285.2 1231.1,2288.2" stroke-width="2.76" fill="none"/>
<polyline points="1176.9,2311.3 1324.4,2394.8" stroke-width="2.3" fill="none"/>
<polyline points="1168,2336.2 1170.6,2341.5 1174.2,2344.2 1309.3,2420.6" stroke-width="2.76" fill="none"/>
<polyline points="1168.9,2310.4 1176.9,2311.3" stroke-width="2.3" fill="none"/>
<polyline points="1324.4,2394.8 1380,2365.5" stroke-width="2.3" fill="none"/>
<polyline points="1323.1,2395.7 1452.8,2326.4 1459.9,2330.8 1461.7,2386.8 1417.3,2411.7" stroke-width="2.76" fill="none"/>
<polyline points="1376.4,2351.3 1385.3,2349.5 1454.6,2310.4" stroke-width="2.3" fill="none"/>
<path d="M1376.4,2351.3 C1378.2,2352.5 1383.8,2355.4 1387.1,2358.4 C1390.3,2361.3 1394.2,2364.3 1396,2369 C1397.7,2373.8 1396,2381.8 1397.7,2386.8 C1399.5,2391.8 1403.4,2396.6 1406.6,2399.3 C1409.9,2401.9 1415.5,2402.2 1417.3,2402.8" stroke-width="2.3" fill="none" />
<polyline points="1396,2365.5 1459.9,2330.8" stroke-width="2.3" fill="none"/>
<polyline points="1339.1,2420.6 1397.7,2388.6" stroke-width="2.3" fill="none"/>
<ellipse cx="1431.5" cy="2381.5" rx="17.4" ry="19.5" stroke-width="2.76" fill="none"/>
<ellipse cx="1432.4" cy="2381.5" rx="13.3" ry="15.6" stroke-width="2.3" fill="none"/>
<polyline points="1424.4,2370.8 1438.6,2367.3 1445.7,2379.7 1440.4,2393.9 1426.2,2397.5 1419.1,2385 1424.4,2370.8" stroke-width="2.07" fill="none"/>
<polyline points="1367.5,2418.8 1417.3,2392.1 1417.3,2420.6 1388.9,2436.6 1376.4,2436.6 1367.5,2433 1367.5,2418.8" stroke-width="2.3" fill="none"/>
<polyline points="1367.5,2427.7 1376.4,2431.2 1417.3,2413.5" stroke-width="1.8399999999999999" fill="none"/>
<path d="M1380,2436.6 C1379.1,2439.5 1377,2448.8 1374.6,2454.3 C1372.3,2459.9 1367.2,2467.4 1365.8,2470" stroke-width="2.3" fill="none" />
<path d="M1310.7,2422.4 C1311.3,2419.7 1311.8,2410.8 1314.2,2406.4 C1316.6,2401.9 1321.3,2396 1324.9,2395.7 C1328.4,2395.4 1333.5,2400.7 1335.5,2404.6 C1337.6,2408.4 1336.4,2407.9 1337.3,2418.8 C1338.2,2429.7 1340.3,2461.5 1340.9,2470" stroke-width="2.3" fill="none" />
<path d="M1319.5,2470 C1319.5,2462 1318.4,2433.3 1319.5,2422.4 C1320.7,2411.5 1325.5,2407.5 1326.7,2404.6" stroke-width="2.3" fill="none" />
<path d="M1311,2417.3 C1311.3,2415.2 1310.4,2408.4 1312.8,2404.9 C1315.2,2401.3 1321.4,2395.7 1325.2,2396 C1329.1,2396.3 1333.8,2402.8 1335.9,2406.7 C1338,2410.5 1337.4,2417 1337.7,2419.1" stroke-width="2.3" fill="none" />
<path d="M1319.9,2406.7 C1321.1,2412.3 1326.1,2430.6 1327,2440.4 C1327.9,2450.2 1327,2457.6 1325.2,2465.3 C1323.5,2473 1319.9,2481.3 1316.4,2486.6 C1312.8,2492 1306,2495.5 1303.9,2497.3" stroke-width="2.3" fill="none" />
<path d="M1328.8,2403.1 C1330,2407 1334.1,2418.2 1335.9,2426.2 C1337.7,2434.2 1340.1,2442.8 1339.5,2451.1 C1338.9,2459.4 1337.1,2468.9 1332.4,2476 C1327.6,2483.1 1314.6,2490.8 1311,2493.7" stroke-width="2.3" fill="none" />
<path d="M1337.7,2419.1 C1339.2,2424.4 1346,2441.6 1346.6,2451.1 C1347.2,2460.6 1346.9,2468.6 1341.2,2476 C1335.6,2483.4 1317.5,2492.3 1312.8,2495.5" stroke-width="2.3" fill="none" />
<path d="M1311,2495.5 C1316.4,2494 1333.5,2491.7 1343,2486.6 C1352.5,2481.6 1361.7,2474.2 1367.9,2465.3 C1374.1,2456.4 1378,2438.6 1380,2433.3" stroke-width="2.3" fill="none" />
<polyline points="1286.1,2490.2 1303.9,2499.1 1311,2495.5" stroke-width="2.3" fill="none"/>
<polyline points="1196.4,2440.4 1268.4,2399.5 1309.3,2420.9" stroke-width="2.3" fill="none"/>
<polyline points="1229.3,2498.2 1319.9,2447.5" stroke-width="2.76" fill="none"/>
<polyline points="1245.3,2513.3 1318.1,2472.4" stroke-width="2.3" fill="none"/>
<path d="M1243.5,2492 C1244.1,2494 1247.1,2500.5 1247.1,2504.4 C1247.1,2508.3 1244.1,2513.3 1243.5,2515.1" stroke-width="2.3" fill="none" />
<path d="M1227.5,2502.6 C1227.8,2505.6 1230.5,2515.4 1229.3,2520.4 C1228.1,2525.4 1224.5,2530.2 1220.4,2532.8 C1216.2,2535.5 1211.2,2535.8 1204.4,2536.4 C1197.6,2537 1183.7,2536.4 1179.5,2536.4" stroke-width="2.76" fill="none" />
<path d="M1142.2,2465.3 C1143.7,2462.3 1147.2,2452 1151.1,2447.5 C1154.9,2443.1 1159.4,2439.8 1165.3,2438.6 C1171.2,2437.5 1183.1,2440.1 1186.6,2440.4" stroke-width="2.3" fill="none" />
<path d="M1145.8,2463.5 C1147.2,2461.2 1150.8,2452.6 1154.6,2449.3 C1158.5,2446.1 1164.1,2444.6 1168.9,2444 C1173.6,2443.4 1180.7,2445.5 1183.1,2445.8" stroke-width="1.8399999999999999" fill="none" />
<path d="M1179.5,2532.8 C1181.9,2530.8 1187.8,2524.5 1193.7,2520.4 C1199.7,2516.2 1211.5,2510 1215.1,2508" stroke-width="1.8399999999999999" fill="none" />
<path d="M1186.6,2534.6 C1189.6,2532.8 1198.8,2528.1 1204.4,2523.9 C1210,2519.8 1217.7,2512.1 1220.4,2509.7" stroke-width="1.8399999999999999" fill="none" />
<polyline points="1136.9,2474.2 1196.4,2441.3 1203.5,2448.4 1209.7,2445.8 1216.8,2459.1 1207.1,2465.3 1211.5,2476.9 1223.1,2472.4 1232.8,2486.6 1223.9,2492 1228.4,2498.2 1171.5,2534.6 1136.9,2474.2" stroke-width="2.76" fill="#fff"/>
<ellipse cx="1182.2" cy="2488.4" rx="17.8" ry="24" stroke-width="2.76" fill="none" transform="rotate(-15 1182.2 2488.4)"/>
<ellipse cx="1182.7" cy="2488.8" rx="13.9" ry="19.9" stroke-width="2.3" fill="none" transform="rotate(-15 1182.7 2488.8)"/>
<ellipse cx="1182.2" cy="2488.4" rx="7.1" ry="8.9" stroke-width="2.3" fill="none" transform="rotate(-15 1182.2 2488.4)"/>
<polyline points="1186.6,2471.4 1177.8,2505.4" stroke-width="2.07" fill="none"/>
<polyline points="1170.2,2476 1194.1,2500.8" stroke-width="2.07" fill="none"/>
<polyline points="1165.9,2493 1198.5,2483.9" stroke-width="2.07" fill="none"/>
<polyline points="1087.1,2363.7 1115.5,2348.6 1117.3,2337.9 1139.5,2323.7 1142.2,2329.1 1149.3,2328.2 1174.2,2369 1180.4,2369.9 1188.4,2376.1 1197.3,2397.5" stroke-width="2.76" fill="none"/>
<polyline points="1087.1,2363.7 1090.7,2366.4 1108.4,2408.1 1104.9,2410.8 1108.4,2418.8 1104.9,2422.4 1118.2,2442.8 1124.4,2439.2 1140.4,2470" stroke-width="2.76" fill="none"/>
<polyline points="1115.5,2348.6 1145.8,2399.3" stroke-width="2.3" fill="none"/>
<polyline points="1118.2,2347.7 1148.4,2398.4" stroke-width="2.3" fill="none"/>
<polyline points="1133.3,2360.2 1148.4,2353 1167.1,2376.1 1151.1,2383.3 1133.3,2360.2" stroke-width="2.76" fill="none"/>
<polyline points="1138.6,2361.9 1148.4,2357.5 1163.5,2376.1 1152.9,2380.6" stroke-width="2.3" fill="none"/>
<polyline points="1096.9,2367.3 1112.9,2359.3 1119.1,2372.6 1104,2381.5 1096.9,2367.3" stroke-width="2.3" fill="none"/>
<polyline points="1104.9,2422.4 1158.2,2395.7 1172.4,2411.7 1136.9,2433 1119.1,2418.8" stroke-width="2.3" fill="none"/>
<polyline points="1129.8,2411.7 1145.8,2403.7 1148.4,2417 1138.6,2420.6 1129.8,2411.7" stroke-width="2.3" fill="none"/>
<polyline points="1167.1,2390.4 1188.4,2377.9 1197.3,2397.5 1211.5,2443.7 1204.4,2447.2 1215.1,2452.6 1216.8,2461.5 1208,2470" stroke-width="2.3" fill="none"/>
<polyline points="1168.9,2393.9 1186.6,2385 1204.4,2447.2" stroke-width="1.8399999999999999" fill="none"/>
<polyline points="1190.2,2441.9 1268.4,2399.3 1309.3,2420.6" stroke-width="2.3" fill="none"/>
<polyline points="1197.3,2408.1 1232.8,2388.6 1241.7,2383.3 1247.1,2386.8" stroke-width="2.07" fill="none"/>
<path d="M1229.3,2395.7 C1229.9,2393.6 1231.1,2385.9 1232.8,2383.3 C1234.6,2380.6 1238.8,2380.3 1239.9,2379.7" stroke-width="2.07" fill="none" />
<polyline points="1200.8,2404.6 1227.5,2417 1211.5,2425.9" stroke-width="2.07" fill="none"/>
<polyline points="1094.2,2380 1140.4,2470.6" stroke-width="2.3" fill="none"/>
<polyline points="1104.9,2422.7 1151.1,2399.5 1158.2,2401.3 1161.7,2418.2 1138.6,2433.3 1126.2,2424.4" stroke-width="2.3" fill="none"/>
<polyline points="1118.2,2420.9 1128,2438.6 1120,2442.2 1104.9,2422.7" stroke-width="2.3" fill="none"/>
<polyline points="1133.3,2406.7 1144,2403.1 1147.5,2415.5 1136.9,2420.9 1133.3,2406.7" stroke-width="2.3" fill="none"/>
<polyline points="1607.4,2306.4 1613.4,2303.9 1632.9,2310.7 1634.7,2332 1618.7,2327.7 1609.8,2314.2 1607.4,2306.4" stroke-width="2.3" fill="none"/>
<polyline points="1614.5,2306.4 1612.3,2327.7" stroke-width="1.8399999999999999" fill="none"/>
<polyline points="1618.4,2306.4 1616.2,2327.7" stroke-width="1.8399999999999999" fill="none"/>
<polyline points="1622.3,2306.4 1620.1,2327.7" stroke-width="1.8399999999999999" fill="none"/>
<polyline points="1626.2,2306.4 1624.1,2327.7" stroke-width="1.8399999999999999" fill="none"/>
<polyline points="1630.1,2306.4 1628,2327.7" stroke-width="1.8399999999999999" fill="none"/>
<ellipse cx="1638.3" cy="2321.3" rx="6.4" ry="12.1" stroke-width="2.76" fill="#fff" transform="rotate(-25 1638.3 2321.3)"/>
<ellipse cx="1644.3" cy="2324.9" rx="7.1" ry="12.8" stroke-width="2.76" fill="#fff" transform="rotate(-25 1644.3 2324.9)"/>
<polyline points="1640.8,2314.2 1647.9,2334.8" stroke-width="2.3" fill="none"/>
<path d="M1601.4,2418.7 C1601.4,2435.8 1600.2,2500.1 1601.4,2521.4 C1602.6,2542.6 1605,2538.6 1608.7,2546.2 C1612.3,2553.8 1617,2561.1 1623.2,2567 C1629.4,2572.8 1642.2,2579.1 1646,2581.5" stroke-width="2.76" fill="none" />
<path d="M1605.6,2421.8 C1605.6,2438.6 1604.3,2501.7 1605.6,2522.4 C1606.8,2543.1 1609.4,2539.3 1612.8,2546.2 C1616.3,2553.2 1620.8,2558.7 1626.3,2563.9 C1631.8,2569 1642.7,2575.1 1646,2577.3" stroke-width="2.3" fill="none" />
<polyline points="1601.4,2418.7 1631.5,2399 1635.6,2402.1 1605.6,2421.8" stroke-width="2.3" fill="none"/>
<path d="M1635.6,2402.1 C1635.8,2420.3 1635.3,2489 1636.7,2511 C1638,2532.9 1640.3,2527.2 1643.9,2533.8 C1647.5,2540.4 1653.6,2546.2 1658.4,2550.4 C1663.3,2554.5 1666.7,2556.6 1672.9,2558.7 C1679.2,2560.8 1691.9,2562.1 1695.7,2562.8" stroke-width="2.3" fill="none" />
<polyline points="1646,2581.5 1668.8,2569 1672.9,2563.9" stroke-width="2.76" fill="none"/>
<polyline points="1646,2577.3 1668.8,2563.9 1672.9,2563.9 1697.8,2564.9" stroke-width="2.3" fill="none"/>
<polyline points="1670.9,2569 1697.8,2574.2" stroke-width="2.3" fill="none"/>
<path d="M1631.5,2399 C1631.5,2397.6 1629.7,2393 1631.5,2390.7 C1633.2,2388.5 1639.1,2386.2 1641.8,2385.6 C1644.6,2384.9 1647,2386.4 1648.1,2386.6" stroke-width="2.76" fill="none" />
<polyline points="1648.1,2386.6 1743.4,2440.5 1743.4,2452.9" stroke-width="2.76" fill="none"/>
<polyline points="1636.7,2394.9 1731,2441.5 1719.6,2446.3" stroke-width="2.3" fill="none"/>
<polyline points="1719.6,2446.3 1767.3,2471.6" stroke-width="2.3" fill="none"/>
<polyline points="1733.1,2448.8 1743.4,2441.5" stroke-width="2.07" fill="none"/>
<polyline points="1743.4,2452.9 1768.3,2466.4 1776.6,2465.8 1781.8,2469.5 1781.8,2476.8 1805.6,2490.3 1818.1,2488.2 1821.2,2492.3 1820.1,2498.6" stroke-width="2.76" fill="none"/>
<polyline points="1767.3,2471.6 1736.2,2500.6 1766.2,2519.3 1816,2502.7 1820.1,2498.6" stroke-width="2.76" fill="none"/>
<polyline points="1762.1,2488.2 1776.6,2482 1799.4,2492.3 1784.9,2499.6 1762.1,2488.2" stroke-width="2.3" fill="none"/>
<path d="M1817,2497.5 C1820,2500.5 1829.7,2508.4 1834.7,2515.1 C1839.7,2521.9 1844.7,2533.6 1847.1,2537.9 C1849.5,2542.3 1834.3,2532.8 1849.2,2541.1 C1864,2549.3 1921.7,2579.9 1936.3,2587.7" stroke-width="2.76" fill="none" />
<polyline points="1844,2541.1 1888.6,2564.9 1901,2567 1934.2,2589.8" stroke-width="2.3" fill="none"/>
<polyline points="1716.5,2461.2 1722.7,2459.2 1726.8,2463.3 1726.8,2504.8 1720.6,2505.8 1716.5,2502.7 1716.5,2461.2" stroke-width="2.3" fill="none"/>
<polyline points="1716.5,2462.3 1722.7,2466.4 1726.8,2463.3" stroke-width="1.8399999999999999" fill="none"/>
<polyline points="1722.7,2466.4 1722.7,2504.8" stroke-width="1.8399999999999999" fill="none"/>
<polyline points="1719.6,2446.3 1720.6,2504.8 1742.4,2586.7 1774.5,2590.8 1803.6,2697.6 1838.8,2701.7" stroke-width="2.3" fill="none"/>
<polyline points="1694.7,2552.5 1726.8,2528.6 1728.9,2532.8 1710.3,2548.3 1714.4,2595.6 1706.1,2598.1 1694.7,2552.5" stroke-width="2.76" fill="none"/>
<polyline points="1710.3,2552.5 1731,2540 1740.3,2577.3 1716.5,2583.6" stroke-width="2.3" fill="none"/>
<polyline points="1714.4,2567 1739.3,2572.2" stroke-width="2.07" fill="none"/>
<polyline points="1742.4,2586.7 1714.4,2596" stroke-width="2.3" fill="none"/>
<path d="M1751.7,2598.1 C1752.8,2597 1754.1,2593.1 1757.9,2591.9 C1761.7,2590.6 1771.6,2589.6 1774.5,2590.8 C1777.5,2592 1778.7,2596.7 1775.6,2599.1 C1772.5,2601.5 1759.8,2605.5 1755.9,2605.3 C1751.9,2605.2 1752.4,2599.3 1751.7,2598.1" stroke-width="2.3" fill="none" />
<polyline points="1780.8,2571.1 1787,2569 1799.4,2572.2 1808.7,2611.6 1795.3,2612.6 1789,2606.4 1780.8,2571.1" stroke-width="2.3" fill="none"/>
<polyline points="1787,2569 1795.3,2604.3 1808.7,2611.6" stroke-width="1.8399999999999999" fill="none"/>
<polyline points="1813.9,2552.5 1820.1,2551.4 1836.7,2554.5 1847.1,2591.9 1830.5,2591.9 1822.2,2585.6 1813.9,2552.5" stroke-width="2.3" fill="none"/>
<polyline points="1820.1,2551.4 1828.4,2585.6 1847.1,2591.9" stroke-width="1.8399999999999999" fill="none"/>
<polyline points="1747.6,2635.4 1779.7,2614.7 1782.8,2625 1765.2,2637.5 1772.5,2666.5 1793.2,2656.1 1795.3,2668.6 1760,2681 1747.6,2635.4" stroke-width="2.76" fill="none"/>
<polyline points="1753.8,2637.5 1760,2676.9" stroke-width="1.8399999999999999" fill="none"/>
<polyline points="1803.6,2697.6 1833.6,2701.7 1838.8,2712.1 1861.6,2703.8 1853.3,2678.9 1847.1,2678.9 1833.6,2687.2 1833.6,2701.7" stroke-width="2.3" fill="none"/>
<polyline points="1849.2,2678.9 1884.4,2683.1 1888.6,2676.9 1878.2,2660.3 1901,2670.6 1894.8,2691.4 1905.2,2703.8" stroke-width="2.3" fill="none"/>
<polyline points="1903.1,2699.7 1934.2,2608.4" stroke-width="2.3" fill="none"/>
<polyline points="1900,2568 1934.7,2587.5" stroke-width="2.3" fill="none"/>
<path d="M1938.2,2584 C1941.6,2582 1952,2576 1958.6,2572.4 C1965.3,2568.9 1972.6,2564.1 1978.2,2562.6 C1983.8,2561.2 1976.6,2555.5 1992.4,2563.5 C2008.3,2571.5 2059.8,2602.8 2073.3,2610.6" stroke-width="2.76" fill="none" />
<polyline points="2073.3,2610.6 2104.4,2595.5" stroke-width="2.3" fill="none"/>
<path d="M1936.4,2602.6 C1937.9,2600.8 1942.5,2594.3 1945.3,2592 C1948.1,2589.6 1950.2,2588.6 1953.3,2588.4 C1956.4,2588.3 1944.3,2581.6 1964,2591.1 C1983.7,2600.5 2051.4,2637.1 2071.5,2645.3 C2091.6,2653.4 2082.6,2640.8 2084.8,2639.9" stroke-width="2.3" fill="none" />
<polyline points="1936.4,2602.6 1956.9,2620.4" stroke-width="2.3" fill="none"/>
<polyline points="2070.6,2615.1 2070.6,2644.4 2066.2,2646.2" stroke-width="2.3" fill="none"/>
<polyline points="2073.3,2610.6 2088.4,2622.2 2084.8,2654.2 2072.4,2655 2066.2,2646.2" stroke-width="2.3" fill="none"/>
<polyline points="1980,2590.2 1996,2579.5 2010.2,2588.4 2010.2,2593.7 1994.2,2604.4" stroke-width="2.3" fill="none"/>
<path d="M2022.6,2629.3 C2024.1,2631.9 2027.4,2640.8 2031.5,2645.3 C2035.7,2649.7 2043.1,2655 2047.5,2655.9 C2051.9,2656.8 2056.4,2651.5 2058.2,2650.6" stroke-width="2.3" fill="none" />
<path d="M2028,2629.3 C2029.4,2631.6 2032.7,2639.6 2036.8,2643.5 C2041,2647.3 2050.2,2650.9 2052.8,2652.4" stroke-width="1.8399999999999999" fill="none" />
<polyline points="1934.3,2607.8 1952.6,2624.8 1935.6,2672.3 1904.3,2688.6 1934.3,2607.8" stroke-width="2.3" fill="none"/>
<polyline points="1905,2690.6 1935,2674.9" stroke-width="1.8399999999999999" fill="none"/>
<polyline points="1935.6,2672.3 1952.6,2689.3" stroke-width="3.4499999999999997" fill="none"/>
<polyline points="1890,2665.2 1899.8,2673 1895.2,2691.2 1905.6,2703 1908.9,2696.4 1926.5,2686.7 1935.6,2686.7 1944.7,2693.8 1942.1,2703 1923.9,2717.3 1938.2,2727.1" stroke-width="2.3" fill="none"/>
<polyline points="1908.9,2696.4 1906.9,2691.2" stroke-width="1.8399999999999999" fill="none"/>
<polyline points="1939.5,2602.6 1957.8,2624.1 1974.7,2616.9 1996.9,2617.6 1996.2,2624.8 1989,2639.1 1986.4,2645 1963,2624.8" stroke-width="2.3" fill="none"/>
<polyline points="1981.2,2627.4 1994.3,2620.9" stroke-width="2.07" fill="none"/>
<polyline points="1979.9,2614.3 1986.4,2609.1 1998.2,2616.9" stroke-width="2.07" fill="none"/>
<polyline points="1960.4,2671.7 1991.7,2652.8 1996.2,2656.7 1968.8,2732.3 1936.9,2750.5 1960.4,2671.7" stroke-width="2.3" fill="none"/>
<polyline points="1964.9,2676.2 1994.3,2659.3" stroke-width="2.07" fill="none"/>
<polyline points="1964.9,2676.2 1939.5,2749.9" stroke-width="2.07" fill="none"/>
<polyline points="1968.8,2732.3 1983.8,2748.6" stroke-width="2.3" fill="none"/>
<polyline points="1938.2,2747.3 1968.2,2732.9" stroke-width="1.8399999999999999" fill="none"/>
<polyline points="1923.2,2718.6 1938.2,2727.1 1933,2730.3 1927.8,2749.9 1942.1,2764.9 1944.7,2759 1963,2749.9 1973.4,2749.9 1979.9,2755.1" stroke-width="2.3" fill="none"/>
<polyline points="2000.8,2680.8 2009.9,2658.6 2026.8,2675.6 2025.5,2691.2 2021.6,2693.8 2003.4,2688.6 2000.8,2680.8" stroke-width="2.3" fill="none"/>
<polyline points="2002.1,2683.4 2009.9,2680.8 2025.5,2691.2" stroke-width="2.07" fill="none"/>
<polyline points="2009.9,2680.8 2014.5,2666.5" stroke-width="2.07" fill="none"/>
<polyline points="1998.2,2714.7 2029.5,2694.5 2039.9,2705.6" stroke-width="2.3" fill="none"/>
<polyline points="2002.1,2722.5 2033.4,2755.1 2072.5,2734.2 2081.6,2703" stroke-width="2.3" fill="none"/>
<polyline points="2013.8,2726.4 2032.1,2718.6 2033.4,2743.4" stroke-width="2.07" fill="none"/>
<polyline points="2049,2731.6 2064.6,2719.9 2068.5,2722.5 2064.6,2734.2" stroke-width="2.07" fill="none"/>
<polyline points="2036,2755.1 2046.4,2721.2" stroke-width="2.07" fill="none"/>
<polyline points="2039.9,2706.9 2069.9,2696.4 2077.7,2700.4" stroke-width="2.07" fill="none"/>
<polyline points="2051.6,2717.3 2076.4,2704.3" stroke-width="2.9899999999999998" fill="none"/>
<ellipse cx="2052.9" cy="2697.1" rx="5.9" ry="3.9" stroke-width="2.07" fill="none"/>
<polyline points="1973.4,2732.9 1995.6,2721.2" stroke-width="2.3" fill="none"/>
<polyline points="1981.2,2780 2002.1,2723.8 2020.3,2743.4 2011.2,2772 1996.9,2780" stroke-width="2.3" fill="none"/>
<polyline points="1960.4,2780 1995.6,2719.9" stroke-width="2.3" fill="none"/>
<polyline points="1989,2764.2 2012.5,2757.7 2013.8,2742.1 1993,2749.9" stroke-width="2.07" fill="none"/>
<polyline points="2069.9,2691.2 2085.5,2652.1 2090.7,2654.7 2075.1,2693.8" stroke-width="2.3" fill="none"/>
<polyline points="2079,2689.9 2088.1,2687.3 2097.2,2670.4" stroke-width="2.07" fill="none"/>
<polyline points="2097.2,2670.4 2097.2,2722.5 2103.7,2723.8" stroke-width="3.4499999999999997" fill="none"/>
<polyline points="2085.5,2652.1 2088.1,2641.7 2085.5,2626.1 2079,2624.1 2080.3,2641.7 2082.9,2649.5" stroke-width="2.07" fill="none"/>
<path d="M2024.2,2630 C2025.8,2632.1 2030.1,2639.3 2033.4,2643 C2036.6,2646.7 2040.3,2650.2 2043.8,2652.1 C2047.3,2654.1 2051.6,2654.7 2054.2,2654.7 C2056.8,2654.7 2058.6,2652.6 2059.4,2652.1" stroke-width="2.07" fill="none" />
<path d="M2028.1,2631.3 C2029.5,2633 2032.9,2638.7 2036,2641.7 C2039,2644.7 2043.1,2647.8 2046.4,2649.5 C2049.7,2651.3 2054,2651.7 2055.5,2652.1" stroke-width="1.6099999999999999" fill="none" />
<polyline points="2098.2,2671.9 2098.2,2723.5 2104.4,2723.5" stroke-width="2.76" fill="none"/>
<polyline points="2125.7,2686.1 2170.1,2673.7 2170.1,2714.6 2127.5,2737.7 2125.7,2686.1" stroke-width="2.76" fill="none"/>
<path d="M2099,2670.2 C2100.8,2669.6 2106.1,2666.9 2109.7,2666.6 C2113.3,2666.3 2117.7,2666.6 2120.4,2668.4 C2123,2670.2 2123,2676.1 2125.7,2677.3 C2128.4,2678.4 2132.5,2676.4 2136.4,2675.5 C2140.2,2674.6 2146.7,2672.5 2148.8,2671.9" stroke-width="2.3" fill="none" />
<polyline points="2104.4,2723.5 2122.1,2718.1 2125.7,2727" stroke-width="2.07" fill="none"/>
<polyline points="2102.6,2671.9 2102.6,2721.7" stroke-width="1.8399999999999999" fill="none"/>
<ellipse cx="2146.1" cy="2636.4" rx="54.2" ry="29.3" stroke-width="2.76" fill="none"/>
<polyline points="2200.1,2642.1 2199.1,2645.5 2197.3,2648.9 2194.7,2652.2 2191.4,2655.2 2187.4,2658 2182.8,2660.6 2177.5,2662.8 2171.9,2664.6 2165.8,2666.1 2159.4,2667.2 2152.8,2667.8 2146.1,2668 2139.5,2667.8 2132.9,2667.2 2126.5,2666.1 2120.4,2664.6 2114.7,2662.8 2109.5,2660.6 2104.9,2658 2100.8,2655.2 2097.5,2652.2 2094.9,2648.9 2093.1,2645.5 2092.1,2642.1" stroke-width="2.3" fill="none"/>
<path d="M2104.4,2595.5 L2186.1,2595.5 L2186.1,2636.4 A40.9,16.9 0 0 1 2104.4,2636.4 Z" fill="#fff" stroke="none"/>
<polyline points="2104.4,2598.2 2104.4,2634.6" stroke-width="2.76" fill="none"/>
<polyline points="2186.1,2598.2 2186.1,2634.6" stroke-width="2.76" fill="none"/>
<path d="M2104.4,2598.2 C2105.1,2597.6 2107.3,2595.4 2108.8,2594.6 C2110.3,2593.9 2112.5,2593.9 2113.3,2593.7" stroke-width="2.3" fill="none" />
<path d="M2186.1,2598.2 C2185.4,2597.6 2183.2,2595.4 2181.7,2594.6 C2180.2,2593.9 2178,2593.9 2177.2,2593.7" stroke-width="2.3" fill="none" />
<polyline points="2186.1,2608.8 2185.8,2610.9 2184.7,2613 2183,2615 2180.6,2616.8 2177.7,2618.6 2174.1,2620.2 2170.1,2621.5 2165.7,2622.7 2160.9,2623.6 2155.8,2624.3 2150.6,2624.7 2145.2,2624.8 2139.9,2624.7 2134.7,2624.3 2129.6,2623.6 2124.8,2622.7 2120.4,2621.5 2116.3,2620.2 2112.8,2618.6 2109.8,2616.8 2107.5,2615 2105.8,2613 2104.7,2610.9 2104.4,2608.8" stroke-width="2.76" fill="none"/>
<polyline points="2186.1,2618.6 2185.8,2620.7 2184.7,2622.8 2183,2624.7 2180.6,2626.6 2177.7,2628.4 2174.1,2629.9 2170.1,2631.3 2165.7,2632.5 2160.9,2633.4 2155.8,2634.1 2150.6,2634.5 2145.2,2634.6 2139.9,2634.5 2134.7,2634.1 2129.6,2633.4 2124.8,2632.5 2120.4,2631.3 2116.3,2629.9 2112.8,2628.4 2109.8,2626.6 2107.5,2624.7 2105.8,2622.8 2104.7,2620.7 2104.4,2618.6" stroke-width="2.76" fill="none"/>
<polyline points="2186.1,2627.5 2185.8,2629.6 2184.7,2631.6 2183,2633.6 2180.6,2635.5 2177.7,2637.2 2174.1,2638.8 2170.1,2640.2 2165.7,2641.4 2160.9,2642.3 2155.8,2643 2150.6,2643.4 2145.2,2643.5 2139.9,2643.4 2134.7,2643 2129.6,2642.3 2124.8,2641.4 2120.4,2640.2 2116.3,2638.8 2112.8,2637.2 2109.8,2635.5 2107.5,2633.6 2105.8,2631.6 2104.7,2629.6 2104.4,2627.5" stroke-width="2.76" fill="none"/>
<polyline points="2186.1,2636.4 2185.8,2638.5 2184.7,2640.5 2183,2642.5 2180.6,2644.4 2177.7,2646.1 2174.1,2647.7 2170.1,2649.1 2165.7,2650.2 2160.9,2651.2 2155.8,2651.8 2150.6,2652.2 2145.2,2652.4 2139.9,2652.2 2134.7,2651.8 2129.6,2651.2 2124.8,2650.2 2120.4,2649.1 2116.3,2647.7 2112.8,2646.1 2109.8,2644.4 2107.5,2642.5 2105.8,2640.5 2104.7,2638.5 2104.4,2636.4" stroke-width="2.76" fill="none"/>
<polyline points="2138.1,2615.1 2138.1,2623.1" stroke-width="2.3" fill="none"/>
<polyline points="2138.1,2615.1 2148.8,2616.8" stroke-width="2.3" fill="none"/>
<polyline points="2118.6,2646.2 2120.4,2650.6" stroke-width="2.3" fill="none"/>
<path d="M2111.5,2586.6 L2177.2,2586.6 L2177.2,2595.5 A32.9,9.8 0 0 1 2111.5,2595.5 Z" fill="#fff" stroke="none"/>
<polyline points="2111.5,2589.3 2111.5,2595.5" stroke-width="2.3" fill="none"/>
<polyline points="2177.2,2589.3 2177.2,2595.5" stroke-width="2.3" fill="none"/>
<path d="M2111.5,2589.3 C2112.2,2588.6 2114.4,2585.7 2115.9,2584.9 C2117.4,2584 2119.6,2584.1 2120.4,2584" stroke-width="2.3" fill="none" />
<path d="M2177.2,2589.3 C2176.5,2588.6 2174,2585.7 2172.8,2584.9 C2171.6,2584 2170.6,2584.1 2170.1,2584" stroke-width="2.3" fill="none" />
<polyline points="2177.2,2595.5 2177,2596.9 2176.1,2598.2 2174.7,2599.5 2172.8,2600.7 2170.4,2601.8 2167.6,2602.8 2164.4,2603.7 2160.8,2604.4 2156.9,2605 2152.9,2605.5 2148.6,2605.7 2144.4,2605.8 2140.1,2605.7 2135.8,2605.5 2131.8,2605 2127.9,2604.4 2124.3,2603.7 2121.1,2602.8 2118.3,2601.8 2115.9,2600.7 2114,2599.5 2112.6,2598.2 2111.8,2596.9 2111.5,2595.5" stroke-width="2.76" fill="none"/>
<polyline points="2170.1,2592 2169.9,2593.2 2169.3,2594.5 2168.2,2595.7 2166.8,2596.8 2165,2597.9 2162.8,2598.9 2160.4,2599.7 2157.7,2600.4 2154.8,2601 2151.7,2601.4 2148.5,2601.7 2145.2,2601.7 2142,2601.7 2138.8,2601.4 2135.7,2601 2132.8,2600.4 2130.1,2599.7 2127.7,2598.9 2125.5,2597.9 2123.7,2596.8 2122.3,2595.7 2121.2,2594.5 2120.6,2593.2 2120.4,2592" stroke-width="2.3" fill="none"/>
<rect x="2120.4" y="2498.7" width="49.8" height="93.3" fill="#fff" stroke="none"/>
<polyline points="2120.4,2498.7 2120.4,2592" stroke-width="2.76" fill="none"/>
<polyline points="2170.1,2498.7 2170.1,2592" stroke-width="2.76" fill="none"/>
<ellipse cx="2145.2" cy="2498.7" rx="24.3" ry="12.8" stroke-width="2.76" fill="#fff"/>
<ellipse cx="2145.8" cy="2503.1" rx="17.8" ry="9.2" stroke-width="3.2199999999999998" fill="none"/>
<path d="M1851.5,2794.3 C1853.8,2793 1860.5,2788.9 1865,2786.4 C1869.5,2784 1874.8,2780.2 1878.5,2779.7 C1882.3,2779.1 1878.9,2778.3 1887.5,2783 C1896.2,2787.7 1922.2,2802.7 1930.3,2807.8 C1938.4,2812.9 1934.8,2811.6 1935.9,2813.4 C1937.1,2815.3 1936.9,2818.1 1937.1,2819.1" stroke-width="2.76" fill="none" />
<polyline points="1937.1,2819.1 1938.2,2848.3 1910,2863" stroke-width="2.76" fill="none"/>
<path d="M1851.5,2794.3 C1851.9,2795 1844,2793.5 1853.8,2798.8 C1863.5,2804 1899.9,2820.6 1910,2825.8 C1920.2,2831.1 1913.8,2829.6 1914.6,2830.3" stroke-width="2.3" fill="none" />
<polyline points="1914.6,2830.3 1937.1,2819.1" stroke-width="2.3" fill="none"/>
<polyline points="1914.6,2830.3 1914.6,2861.8" stroke-width="2.3" fill="none"/>
<path d="M1851.5,2794.3 C1851.1,2799.9 1848.9,2821.7 1849.3,2828.1 C1849.6,2834.4 1845.1,2828.1 1853.8,2832.6 C1862.4,2837.1 1891.7,2850 1901,2855.1 C1910.4,2860.1 1908.5,2861.6 1910,2863" stroke-width="2.76" fill="none" />
<ellipse cx="1858.7" cy="2801.5" rx="5.4" ry="5.4" stroke-width="2.3" fill="none"/>
<ellipse cx="1858.7" cy="2801.5" rx="3.2" ry="3.2" stroke-width="1.8399999999999999" fill="none"/>
<ellipse cx="1908.9" cy="2855.1" rx="5.4" ry="5.4" stroke-width="2.3" fill="none"/>
<ellipse cx="1908.9" cy="2855.1" rx="3.2" ry="3.2" stroke-width="1.8399999999999999" fill="none"/>
<polyline points="1907.8,2812.3 1921.3,2806.7 1925.8,2811.2 1912.3,2816.8 1907.8,2812.3" stroke-width="2.07" fill="none"/>
<polyline points="1885.3,2850.6 1885.3,2869.7 1896.5,2867.5 1897.7,2857.3" stroke-width="2.07" fill="none"/>
<polyline points="1848.1,2810 1846.6,2830.3 1851.5,2830.8" stroke-width="1.8399999999999999" fill="none"/>
<polyline points="2108.2,2816.8 2108.2,2825.8" stroke-width="2.3" fill="none"/>
<polyline points="2127.3,2816.8 2127.3,2828.1" stroke-width="2.3" fill="none"/>
<ellipse cx="2117.6" cy="2815.7" rx="9.7" ry="6.1" stroke-width="2.3" fill="#fff"/>
<path d="M2101.4,2823.6 C2103.7,2825.1 2110.4,2829 2114.9,2832.6 C2119.4,2836.1 2124.3,2840.4 2128.4,2844.9 C2132.5,2849.4 2137,2856.2 2139.7,2859.6 C2142.3,2863 2140.4,2863.6 2144.2,2865.2 C2147.9,2866.8 2157.1,2867.7 2162.2,2869 C2167.3,2870.3 2171.9,2871.3 2174.6,2873.1 C2177.2,2874.9 2177.6,2877.6 2177.9,2879.8 C2178.3,2882.1 2178.7,2884.6 2176.8,2886.6 C2174.9,2888.5 2170.3,2891.2 2166.7,2891.5 C2163.1,2891.9 2159.2,2891 2155.4,2888.8 C2151.7,2886.7 2148.1,2881.6 2144.2,2878.7 C2140.2,2875.8 2135,2875.6 2131.8,2871.3 C2128.6,2867 2128.2,2858.2 2125,2852.8 C2121.9,2847.5 2116.6,2843.4 2112.7,2839.3 C2108.7,2835.2 2103.3,2830.7 2101.4,2828.1 C2099.5,2825.4 2101.4,2824.3 2101.4,2823.6 C2101.4,2822.8 2099.2,2822.1 2101.4,2823.6Z" stroke-width="2.3" fill="none" />
<path d="M2105.9,2825.8 C2110,2828.8 2125,2838.9 2130.7,2843.8 C2136.3,2848.7 2137.4,2851.7 2139.7,2855.1 C2141.9,2858.5 2143.4,2862.6 2144.2,2864.1" stroke-width="1.7249999999999999" fill="none" />
<ellipse cx="2164.9" cy="2877.6" rx="11.7" ry="7.2" stroke-width="2.3" fill="none"/>
<path d="M989,2274 C989.8,2274.6 992.4,2277.2 994,2277.6 C995.5,2277.9 996.1,2277 998.2,2276.2 C1000.4,2275.3 1004.3,2273.4 1006.8,2272.6 C1009.3,2271.8 1011,2271.2 1013.2,2271.2 C1015.3,2271.2 1017.1,2271.4 1019.6,2272.6 C1022.1,2273.8 1025.9,2275.8 1028.1,2278.3 C1030.4,2280.8 1032,2283.6 1033.1,2287.5 C1034.1,2291.4 1035.3,2295.8 1034.5,2301.8 C1033.7,2307.7 1031.3,2316 1028.1,2323.1 C1024.9,2330.2 1019.8,2338.5 1015.3,2344.4 C1010.8,2350.3 1005.8,2355.3 1001.1,2358.6 C996.3,2361.9 991,2363.4 986.9,2364.3 C982.7,2365.3 980,2365.8 976.2,2364.3 C972.4,2362.8 967.2,2358.9 964.1,2355.1 C961,2351.3 958.8,2343.8 957.7,2341.6" stroke-width="1.7249999999999999" fill="none" />
<path d="M984,2282.6 C984.5,2283 985.2,2284.5 986.9,2285.4 C988.5,2286.3 991.6,2288 994,2288.2 C996.3,2288.5 999,2287.8 1001.1,2286.8 C1003.2,2285.9 1004.9,2283.5 1006.8,2282.6 C1008.7,2281.6 1010.7,2281.1 1012.5,2281.1 C1014.2,2281.1 1015.9,2281.4 1017.4,2282.6 C1019,2283.7 1020.8,2285.6 1021.7,2288.2 C1022.7,2290.9 1023.1,2293.6 1023.1,2298.2 C1023.1,2302.8 1023.2,2309.8 1021.7,2316 C1020.2,2322.1 1017.3,2329.8 1013.9,2335.2 C1010.4,2340.5 1005.6,2344.9 1001.1,2348 C996.6,2351 990.5,2352.7 986.9,2353.6 C983.2,2354.6 981.8,2354.2 979.1,2353.6 C976.3,2353.1 971.9,2350.7 970.5,2350.1" stroke-width="1.7249999999999999" fill="none" />
<path d="M974.1,2271.2 C973.4,2271.8 971.6,2273.2 969.8,2274.7 C968,2276.3 965.9,2277.8 963.4,2280.4 C960.9,2283 957.5,2286.2 954.9,2290.4 C952.3,2294.5 949.5,2299.9 947.8,2305.3 C946,2310.8 944.3,2316.7 944.2,2323.1 C944.1,2329.5 945.5,2338.7 947.1,2343.7 C948.6,2348.7 950.9,2350.9 953.5,2352.9 C956.1,2354.9 961.2,2355.3 962.7,2355.8" stroke-width="1.7249999999999999" fill="none" />
<path d="M979.1,2277.6 C977.7,2279.2 973.8,2284.1 971.2,2287.5 C968.6,2291 965.7,2294.1 963.4,2298.2 C961.2,2302.3 959.1,2307.7 957.7,2312.4 C956.3,2317.2 955,2322 954.9,2326.6 C954.8,2331.3 956.7,2337.9 957,2340.1" stroke-width="1.7249999999999999" fill="none" />
<path d="M1000.4,2287.5 C1000.3,2291.1 1001.1,2301.8 999.7,2308.9 C998.2,2316 995.2,2324 991.8,2330.2 C988.5,2336.3 983.3,2342.5 979.8,2345.8 C976.2,2349.1 972.1,2349.4 970.5,2350.1" stroke-width="1.7249999999999999" fill="none" />
<path d="M1010.3,2282.6 C1010.4,2284.6 1011.5,2288.8 1011,2294.6 C1010.6,2300.4 1009.4,2311.1 1007.5,2317.4 C1005.6,2323.7 1002.5,2327.8 999.7,2332.3 C996.8,2336.8 993.7,2340.9 990.4,2344.4 C987.1,2348 981.5,2352.1 979.8,2353.6" stroke-width="1.7249999999999999" fill="none" />
<path d="M985.4,2286.1 C983.8,2288.1 978.3,2292.6 975.5,2298.2 C972.7,2303.8 969.7,2313 968.4,2319.5 C967.1,2326 967.3,2332.2 967.7,2337.3 C968,2342.4 970,2348 970.5,2350.1" stroke-width="1.7249999999999999" fill="none" />
<path d="M974.8,2270.5 C973.7,2271.1 970.6,2273.4 968.4,2274 C966.1,2274.6 963.5,2274.7 961.3,2274 C959,2273.3 956.8,2271.8 954.9,2269.8 C953,2267.7 952.3,2265.3 949.9,2261.9 C947.5,2258.6 942.3,2253.1 940.7,2249.9 C939,2246.7 939.4,2244.8 940,2242.7 C940.5,2240.7 942.4,2238.7 944.2,2237.8 C946,2236.9 949,2237.2 950.6,2237.4 C952.3,2237.7 952.3,2238.4 954.2,2239.2 C956.1,2240 959.4,2240.6 962,2242 C964.6,2243.5 966.8,2244.9 969.8,2247.7 C972.8,2250.6 976.6,2255 979.8,2259.1 C983,2263.2 986.6,2269.6 989,2272.6 C991.4,2275.6 993.2,2276.2 994,2276.9" stroke-width="1.7249999999999999" fill="none" />
<path d="M946.4,2247 C946.4,2246.1 945.6,2242.7 946.4,2241.3 C947.1,2239.9 949.9,2239 950.6,2238.5" stroke-width="1.7249999999999999" fill="none" />
<path d="M951.3,2249.1 C952.5,2249.9 955.7,2251.3 958.4,2253.4 C961.2,2255.5 965,2259.1 967.7,2261.9 C970.4,2264.8 973.6,2269.1 974.8,2270.5" stroke-width="1.7249999999999999" fill="none" />
<path d="M957,2252.7 C957.7,2253.5 960,2255.8 961.3,2257.7 C962.6,2259.6 963.6,2263.1 964.8,2264.1 C966,2265 968.6,2264.5 968.4,2263.4 C968.2,2262.2 965.2,2258.6 963.4,2257 C961.6,2255.3 958.7,2254 957.7,2253.4" stroke-width="1.4949999999999999" fill="none" />
<polyline points="997.5,2224.3 1015.3,2231.4 1005.4,2262.7 998.2,2275.4" stroke-width="1.7249999999999999" fill="none"/>
<polyline points="997.5,2224.3 986.9,2259.1 979.8,2259.8" stroke-width="1.7249999999999999" fill="none"/>
<polyline points="1005.4,2227.1 995.4,2262.7 988.3,2269.8" stroke-width="1.4949999999999999" fill="none"/>
<line x1="411.5" y1="365.6" x2="411.5" y2="464.7" stroke-width="2.4"/>
<line x1="411.5" y1="365.6" x2="473.6" y2="401.3" stroke-width="2.4"/>
<line x1="483.4" y1="406.9" x2="497.7" y2="415.1" stroke-width="2.4"/>
<line x1="508.2" y1="421.1" x2="521.9" y2="429" stroke-width="2.4"/>
<line x1="532.3" y1="435" x2="594.2" y2="470.5" stroke-width="2.4"/>
<line x1="661.7" y1="509.3" x2="733" y2="550.3" stroke-width="2.4"/>
<line x1="745" y1="557.2" x2="761" y2="566.4" stroke-width="2.4"/>
<line x1="773.5" y1="573.5" x2="788.6" y2="582.2" stroke-width="2.4"/>
<line x1="801.7" y1="589.7" x2="941.1" y2="669.8" stroke-width="2.4"/>
<line x1="954.4" y1="677.4" x2="969.6" y2="686.2" stroke-width="2.4"/>
<line x1="982" y1="693.3" x2="996.9" y2="701.9" stroke-width="2.4"/>
<line x1="1010" y1="709.4" x2="1150.8" y2="790.3" stroke-width="2.4"/>
<line x1="1163.7" y1="797.7" x2="1178.9" y2="806.4" stroke-width="2.4"/>
<line x1="1191.4" y1="813.6" x2="1206.5" y2="822.2" stroke-width="2.4"/>
<line x1="1219" y1="829.4" x2="1290" y2="870.2" stroke-width="2.4"/>
<line x1="1352.5" y1="906.1" x2="1405" y2="936.3" stroke-width="2.4"/>
<line x1="1405" y1="784" x2="1405" y2="822" stroke-width="2.4"/>
<line x1="1405" y1="831" x2="1405" y2="849" stroke-width="2.4"/>
<line x1="1405" y1="858" x2="1405" y2="874" stroke-width="2.4"/>
<line x1="1405" y1="884" x2="1405" y2="937" stroke-width="2.4"/>
<line x1="468" y1="762.7" x2="514.6" y2="789.2" stroke-width="2.4"/>
<line x1="523" y1="794" x2="536" y2="801.4" stroke-width="2.4"/>
<line x1="541" y1="804.2" x2="554.5" y2="811.9" stroke-width="2.4"/>
<line x1="561" y1="815.6" x2="607.5" y2="842" stroke-width="2.4"/>
<line x1="682" y1="884.3" x2="771.7" y2="935.2" stroke-width="2.4"/>
<line x1="788" y1="944.5" x2="808" y2="955.9" stroke-width="2.4"/>
<line x1="824.8" y1="965.4" x2="843" y2="975.7" stroke-width="2.4"/>
<line x1="859.7" y1="985.2" x2="949.2" y2="1036.1" stroke-width="2.4"/>
<line x1="982.4" y1="1054.9" x2="1073.6" y2="1106.7" stroke-width="2.4"/>
<line x1="1135" y1="1141.6" x2="1220.5" y2="1190.2" stroke-width="2.4"/>
<line x1="284.5" y1="831.1" x2="337.5" y2="861.7" stroke-width="2.4"/>
<line x1="347.6" y1="867.5" x2="358.8" y2="873.9" stroke-width="2.4"/>
<line x1="368" y1="879.3" x2="380" y2="886.2" stroke-width="2.4"/>
<line x1="390" y1="891.9" x2="494.7" y2="952.4" stroke-width="2.4"/>
<line x1="504.7" y1="958.1" x2="518" y2="965.8" stroke-width="2.4"/>
<line x1="526" y1="970.4" x2="539.5" y2="978.2" stroke-width="2.4"/>
<line x1="547.8" y1="983" x2="601" y2="1013.7" stroke-width="2.4"/>
<line x1="1320.7" y1="1735.2" x2="1320.7" y2="1807" stroke-width="2.4"/>
<line x1="1320.7" y1="1817" x2="1320.7" y2="1833.3" stroke-width="2.4"/>
<line x1="1320.7" y1="1843.6" x2="1320.7" y2="1861" stroke-width="2.4"/>
<line x1="1320.7" y1="1872.9" x2="1320.7" y2="2012" stroke-width="2.4"/>
<line x1="1320.7" y1="2022.3" x2="1320.7" y2="2039.9" stroke-width="2.4"/>
<line x1="1320.7" y1="2050" x2="1320.7" y2="2066" stroke-width="2.4"/>
<line x1="1320.7" y1="2078" x2="1320.7" y2="2146.8" stroke-width="2.4"/>
<line x1="1224" y1="2202.9" x2="1320.7" y2="2146.8" stroke-width="2.4"/>
<line x1="1202" y1="2215.7" x2="1213.8" y2="2208.8" stroke-width="2.4"/>
<line x1="1180" y1="2228.4" x2="1193.3" y2="2220.7" stroke-width="2.4"/>
<line x1="1073.2" y1="2290.4" x2="1170" y2="2234.2" stroke-width="2.4"/>
<line x1="1073.2" y1="2290.4" x2="1121.5" y2="2316.7" stroke-width="2.4"/>
<line x1="1448" y1="2214" x2="1480" y2="2232.2" stroke-width="2.4"/>
<line x1="1489" y1="2237.3" x2="1503" y2="2245.3" stroke-width="2.4"/>
<line x1="1512" y1="2250.4" x2="1528" y2="2259.5" stroke-width="2.4"/>
<line x1="1547.6" y1="2270.6" x2="1601" y2="2301" stroke-width="2.4"/>
<line x1="2145" y1="2305" x2="2145" y2="2420" stroke-width="2.4"/>
<line x1="2145" y1="2460" x2="2145" y2="2502" stroke-width="2.4"/>
<line x1="1920" y1="2765" x2="1888" y2="2783" stroke-width="2.2"/>
<line x1="2077.5" y1="2742.5" x2="2100" y2="2754.8" stroke-width="2.4"/>
<line x1="2110" y1="2760.2" x2="2122" y2="2766.8" stroke-width="2.4"/>
<line x1="2132" y1="2772.2" x2="2160" y2="2787.5" stroke-width="2.4"/>
<line x1="2160" y1="2787.5" x2="2148" y2="2795" stroke-width="2.2"/>
<line x1="2140" y1="2800" x2="2125" y2="2808" stroke-width="2.2"/>
<line x1="309" y1="1107.5" x2="274.3" y2="927.8" stroke-width="2.6"/>
<polygon points="267.5,892.5 282.4,930.4 273.9,925.9 267.7,933.2" fill="#000" stroke="none"/>
<line x1="341" y1="1234" x2="564.6" y2="1289.3" stroke-width="2.6"/>
<polygon points="599.5,1298 558.9,1295.7 566.5,1289.8 562.5,1281.1" fill="#000" stroke="none"/>
<line x1="1536" y1="895" x2="1464.5" y2="791.6" stroke-width="2.6"/>
<polygon points="1444,762 1472.9,790.6 1463.3,790 1460.6,799.2" fill="#000" stroke="none"/>
<line x1="948" y1="1412.6" x2="965.1" y2="1197.9" stroke-width="2.6"/>
<polygon points="968,1162 972.3,1202.5 965.3,1195.9 957.3,1201.3" fill="#000" stroke="none"/>
<line x1="1016.5" y1="1447" x2="1083.1" y2="1280.4" stroke-width="2.6"/>
<polygon points="1096.5,1247 1088.6,1286.9 1083.9,1278.6 1074.7,1281.4" fill="#000" stroke="none"/>
<line x1="1100.5" y1="1508.5" x2="1259.4" y2="1462.9" stroke-width="2.6"/>
<polygon points="1294,1453 1257.6,1471.2 1261.3,1462.4 1253.5,1456.8" fill="#000" stroke="none"/>
<line x1="1161" y1="1589" x2="1261.4" y2="1672.9" stroke-width="2.6"/>
<polygon points="1289,1696 1253.5,1676.1 1262.9,1674.2 1263.1,1664.6" fill="#000" stroke="none"/>
<line x1="1799" y1="2000.6" x2="1918.3" y2="1975" stroke-width="2.6"/>
<polygon points="1953.5,1967.5 1916,1983.2 1920.3,1974.6 1912.8,1968.5" fill="#000" stroke="none"/>
<line x1="1795" y1="2103.7" x2="2026.3" y2="2218.9" stroke-width="2.6"/>
<polygon points="2058.5,2235 2019.4,2223.9 2028.1,2219.8 2026,2210.4" fill="#000" stroke="none"/>
<line x1="1796.7" y1="2191.6" x2="2033.8" y2="2354.6" stroke-width="2.6"/>
<polygon points="2063.5,2375 2026.3,2358.5 2035.5,2355.7 2034.8,2346.2" fill="#000" stroke="none"/>
<line x1="1740.3" y1="2254.7" x2="1691.1" y2="2287.2" stroke-width="2.6"/>
<polygon points="1661,2307 1690.3,2278.7 1689.4,2288.3 1698.5,2291.2" fill="#000" stroke="none"/>
<line x1="1790.6" y1="2340.8" x2="1943.2" y2="2527.1" stroke-width="2.6"/>
<polygon points="1966,2555 1934.9,2528.8 1944.5,2528.7 1946.5,2519.3" fill="#000" stroke="none"/>
<line x1="917" y1="2467" x2="944.6" y2="2404" stroke-width="2.6"/>
<polygon points="959,2371 949.8,2410.7 945.4,2402.1 936.1,2404.6" fill="#000" stroke="none"/>
<line x1="861.3" y1="2607" x2="766.7" y2="2642.4" stroke-width="2.6"/>
<polygon points="733,2655 767.8,2634 764.8,2643.1 773.1,2648" fill="#000" stroke="none"/>
<line x1="1512" y1="2590.8" x2="1389.7" y2="2515.5" stroke-width="2.6"/>
<polygon points="1359,2496.6 1397,2511.2 1388,2514.4 1389.1,2524" fill="#000" stroke="none"/>
<line x1="1580" y1="2791.7" x2="1786.7" y2="2813.7" stroke-width="2.6"/>
<polygon points="1822.5,2817.5 1781.9,2820.7 1788.7,2813.9 1783.5,2805.8" fill="#000" stroke="none"/>
<line x1="2273" y1="2774" x2="2187.7" y2="2820.2" stroke-width="2.6"/>
<polygon points="2156,2837.3 2187.6,2811.7 2185.9,2821.1 2194.7,2824.9" fill="#000" stroke="none"/>
</g>
<g fill="#000" stroke="#000" style="font-family: &quot;Liberation Sans&quot;, sans-serif;">
<text transform="translate(298.5 1165.4) scale(1.094 1)" font-size="60.73" stroke-width="1.1">3</text>
<polygon points="283,1202 288,1202 288,1244 282,1244 282,1214.8 272,1214.8 272,1210 276,1209.6 277.9,1208.3 280,1205.8" stroke-width="1.1"/>
<text transform="translate(292.6 1243.4) scale(1.133 1)" font-size="59.32" stroke-width="1.1">6</text>
<text transform="translate(1540.7 944.4) scale(1.083 1)" font-size="60.03" stroke-width="1.1">6</text>
<text transform="translate(928.5 1468.6) scale(0.988 1)" font-size="60.47" stroke-width="1.1">4</text>
<text transform="translate(986.3 1501.4) scale(1.020 1)" font-size="61.63" stroke-width="1.1">5</text>
<text transform="translate(1054.5 1540.5) scale(1.089 1)" font-size="60.87" stroke-width="1.1">2</text>
<text transform="translate(1121.7 1582.4) scale(1.108 1)" font-size="57.91" stroke-width="1.1">6</text>
<polygon points="1740.3,1988.9 1745.3,1988.9 1745.3,2031.4 1739.3,2031.4 1739.3,2001.8 1729.3,2001.8 1729.3,1997 1733.3,1996.6 1735.2,1995.3 1737.3,1992.7" stroke-width="1.1"/>
<text transform="translate(1750.9 2030.8) scale(1.054 1)" font-size="60.03" stroke-width="1.1">3</text>
<polygon points="1740.3,2064 1745.3,2064 1745.3,2106.5 1739.3,2106.5 1739.3,2076.9 1729.3,2076.9 1729.3,2072.1 1733.3,2071.7 1735.2,2070.4 1737.3,2067.8" stroke-width="1.1"/>
<text transform="translate(1750 2106.5) scale(1.082 1)" font-size="60.87" stroke-width="1.1">2</text>
<polygon points="1752.7,2145.8 1757.7,2145.8 1757.7,2188 1751.7,2188 1751.7,2158.6 1741.7,2158.6 1741.7,2153.8 1745.7,2153.4 1747.6,2152.1 1749.7,2149.6" stroke-width="1.1"/>
<polygon points="1776.5,2145.8 1781.5,2145.8 1781.5,2188 1775.5,2188 1775.5,2158.6 1765.5,2158.6 1765.5,2153.8 1769.5,2153.4 1771.4,2152.1 1773.5,2149.6" stroke-width="1.1"/>
<text transform="translate(1755.9 2254.4) scale(1.021 1)" font-size="61.16" stroke-width="1.1">8</text>
<polygon points="1746.7,2291.4 1751.7,2291.4 1751.7,2334.4 1745.7,2334.4 1745.7,2304.5 1735.7,2304.5 1735.7,2299.6 1739.7,2299.1 1741.6,2297.8 1743.7,2295.3" stroke-width="1.1"/>
<text transform="translate(1757.2 2333.8) scale(1.033 1)" font-size="60.73" stroke-width="1.1">0</text>
<text transform="translate(1526.5 2631.8) scale(1.155 1)" font-size="59.59" stroke-width="1.1">7</text>
<text transform="translate(1527.5 2810.1) scale(1.028 1)" font-size="62.15" stroke-width="1.1">9</text>
<polygon points="883,2486.8 888,2486.8 888,2530.8 882,2530.8 882,2500.2 872,2500.2 872,2495.2 876,2494.7 877.9,2493.4 880,2490.8" stroke-width="1.1"/>
<text transform="translate(893.5 2530.2) scale(1.003 1)" font-size="63.06" stroke-width="1.1">5</text>
<polygon points="885,2555.9 890,2555.9 890,2602.9 884,2602.9 884,2570.2 874,2570.2 874,2564.8 878,2564.4 879.9,2563 882,2560.1" stroke-width="1.1"/>
<text transform="translate(896.6 2602.9) scale(0.871 1)" font-size="68.32" stroke-width="1.1">4</text>
<polygon points="2304.3,2737.8 2309,2737.8 2309,2779.8 2303.4,2779.8 2303.4,2750.6 2294,2750.6 2294,2745.8 2297.8,2745.4 2299.5,2744.1 2301.5,2741.6" stroke-width="1.1"/>
</g>
</svg></body></html>
